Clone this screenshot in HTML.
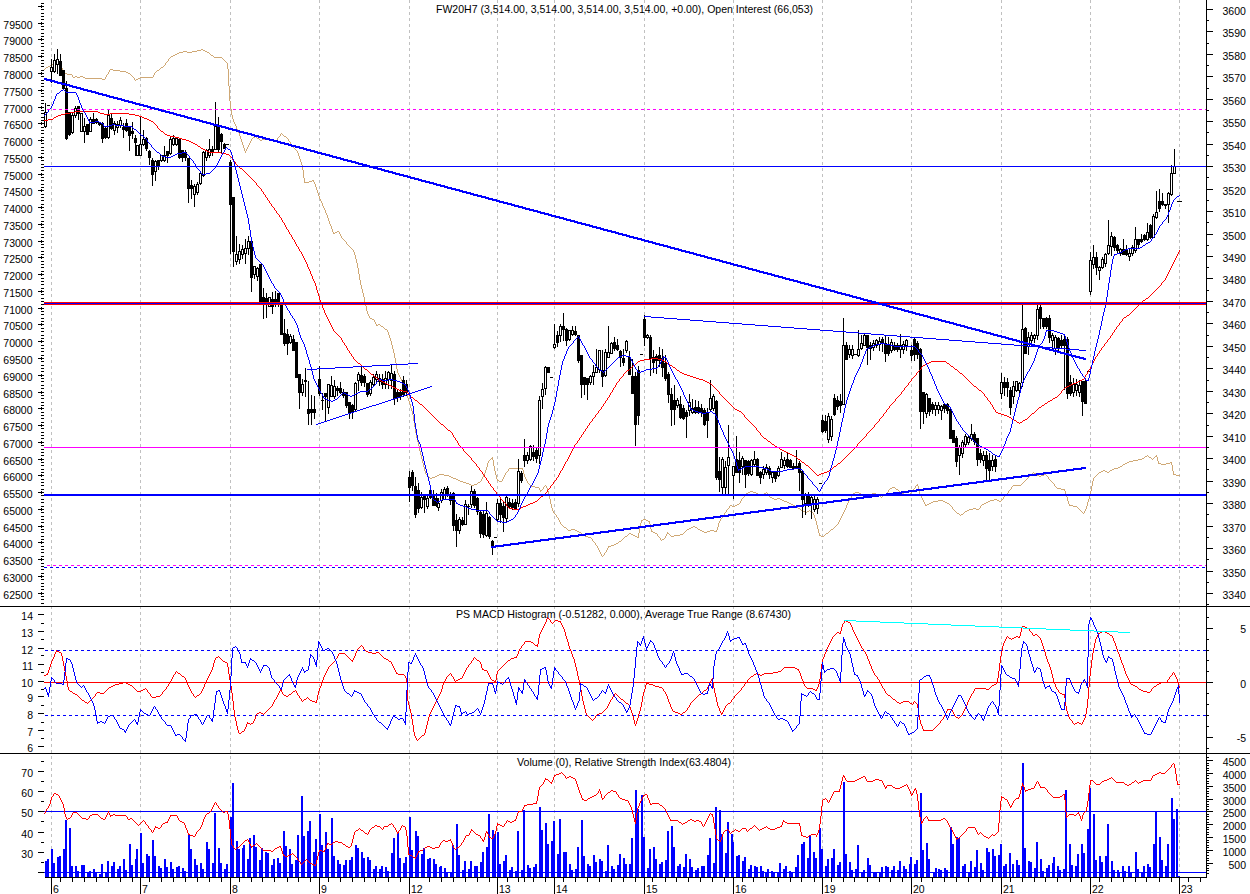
<!DOCTYPE html>
<html><head><meta charset="utf-8"><title>FW20H7 chart</title>
<style>html,body{margin:0;padding:0;background:#fff;overflow:hidden}svg{display:block}text{font-family:"Liberation Sans",sans-serif}</style>
</head><body>
<svg width="1250" height="894" viewBox="0 0 1250 894" font-family="Liberation Sans, sans-serif" fill="#000" shape-rendering="crispEdges">
<rect width="1250" height="894" fill="#ffffff"/>
<path d="M51 0h1v3h-1zm0 6h1v3h-1zm0 6h1v3h-1zm0 6h1v3h-1zm0 6h1v3h-1zm0 6h1v3h-1zm0 6h1v3h-1zm0 6h1v3h-1zm0 6h1v3h-1zm0 6h1v3h-1zm0 6h1v3h-1zm0 6h1v3h-1zm0 6h1v3h-1zm0 6h1v3h-1zm0 6h1v3h-1zm0 6h1v3h-1zm0 6h1v3h-1zm0 6h1v3h-1zm0 6h1v3h-1zm0 6h1v3h-1zm0 6h1v3h-1zm0 6h1v3h-1zm0 6h1v3h-1zm0 6h1v3h-1zm0 6h1v3h-1zm0 6h1v3h-1zm0 6h1v3h-1zm0 6h1v3h-1zm0 6h1v3h-1zm0 6h1v3h-1zm0 6h1v3h-1zm0 6h1v3h-1zm0 6h1v3h-1zm0 6h1v3h-1zm0 6h1v3h-1zm0 6h1v3h-1zm0 6h1v3h-1zm0 6h1v3h-1zm0 6h1v3h-1zm0 6h1v3h-1zm0 6h1v3h-1zm0 6h1v3h-1zm0 6h1v3h-1zm0 6h1v3h-1zm0 6h1v3h-1zm0 6h1v3h-1zm0 6h1v3h-1zm0 6h1v3h-1zm0 6h1v3h-1zm0 6h1v3h-1zm0 6h1v3h-1zm0 6h1v3h-1zm0 6h1v3h-1zm0 6h1v3h-1zm0 6h1v3h-1zm0 6h1v3h-1zm0 6h1v3h-1zm0 6h1v3h-1zm0 6h1v3h-1zm0 6h1v3h-1zm0 6h1v3h-1zm0 6h1v3h-1zm0 6h1v3h-1zm0 6h1v3h-1zm0 6h1v3h-1zm0 6h1v3h-1zm0 6h1v3h-1zm0 6h1v3h-1zm0 6h1v3h-1zm0 6h1v3h-1zm0 6h1v3h-1zm0 6h1v3h-1zm0 6h1v3h-1zm0 6h1v3h-1zm0 6h1v3h-1zm0 6h1v3h-1zm0 6h1v3h-1zm0 6h1v3h-1zm0 6h1v3h-1zm0 6h1v3h-1zm0 6h1v3h-1zm0 6h1v3h-1zm0 6h1v3h-1zm0 6h1v3h-1zm0 6h1v3h-1zm0 6h1v3h-1zm0 6h1v3h-1zm0 6h1v3h-1zm0 6h1v3h-1zm0 6h1v3h-1zm0 6h1v3h-1zm0 6h1v3h-1zm0 6h1v3h-1zm0 6h1v3h-1zm0 6h1v3h-1zm0 6h1v3h-1zm0 6h1v3h-1zm0 6h1v3h-1zm0 6h1v3h-1zm0 6h1v3h-1zm0 6h1v3h-1zm0 6h1v3h-1zm0 6h1v3h-1zm0 6h1v3h-1zm0 6h1v3h-1zm0 6h1v3h-1zm0 6h1v3h-1zm0 6h1v3h-1zm0 6h1v3h-1zm0 6h1v3h-1zm0 6h1v3h-1zm0 6h1v3h-1zm0 6h1v3h-1zm0 6h1v3h-1zm0 6h1v3h-1zm0 6h1v3h-1zm0 6h1v3h-1zm0 6h1v3h-1zm0 6h1v3h-1zm0 6h1v3h-1zm0 6h1v3h-1zm0 6h1v3h-1zm0 6h1v3h-1zm0 6h1v3h-1zm0 6h1v3h-1zm0 6h1v3h-1zm0 6h1v3h-1zm0 6h1v3h-1zm0 6h1v3h-1zm0 6h1v3h-1zm0 6h1v3h-1zm0 6h1v3h-1zm0 6h1v3h-1zm0 6h1v3h-1zm0 6h1v3h-1zm0 6h1v3h-1zm0 6h1v3h-1zm0 6h1v3h-1zm0 6h1v3h-1zm0 6h1v3h-1zm0 6h1v3h-1zm0 6h1v3h-1zm0 6h1v3h-1zm0 6h1v3h-1zm0 6h1v3h-1zm0 6h1v3h-1zm0 6h1v1h-1zm89 -876h1v3h-1zm0 6h1v3h-1zm0 6h1v3h-1zm0 6h1v3h-1zm0 6h1v3h-1zm0 6h1v3h-1zm0 6h1v3h-1zm0 6h1v3h-1zm0 6h1v3h-1zm0 6h1v3h-1zm0 6h1v3h-1zm0 6h1v3h-1zm0 6h1v3h-1zm0 6h1v3h-1zm0 6h1v3h-1zm0 6h1v3h-1zm0 6h1v3h-1zm0 6h1v3h-1zm0 6h1v3h-1zm0 6h1v3h-1zm0 6h1v3h-1zm0 6h1v3h-1zm0 6h1v3h-1zm0 6h1v3h-1zm0 6h1v3h-1zm0 6h1v3h-1zm0 6h1v3h-1zm0 6h1v3h-1zm0 6h1v3h-1zm0 6h1v3h-1zm0 6h1v3h-1zm0 6h1v3h-1zm0 6h1v3h-1zm0 6h1v3h-1zm0 6h1v3h-1zm0 6h1v3h-1zm0 6h1v3h-1zm0 6h1v3h-1zm0 6h1v3h-1zm0 6h1v3h-1zm0 6h1v3h-1zm0 6h1v3h-1zm0 6h1v3h-1zm0 6h1v3h-1zm0 6h1v3h-1zm0 6h1v3h-1zm0 6h1v3h-1zm0 6h1v3h-1zm0 6h1v3h-1zm0 6h1v3h-1zm0 6h1v3h-1zm0 6h1v3h-1zm0 6h1v3h-1zm0 6h1v3h-1zm0 6h1v3h-1zm0 6h1v3h-1zm0 6h1v3h-1zm0 6h1v3h-1zm0 6h1v3h-1zm0 6h1v3h-1zm0 6h1v3h-1zm0 6h1v3h-1zm0 6h1v3h-1zm0 6h1v3h-1zm0 6h1v3h-1zm0 6h1v3h-1zm0 6h1v3h-1zm0 6h1v3h-1zm0 6h1v3h-1zm0 6h1v3h-1zm0 6h1v3h-1zm0 6h1v3h-1zm0 6h1v3h-1zm0 6h1v3h-1zm0 6h1v3h-1zm0 6h1v3h-1zm0 6h1v3h-1zm0 6h1v3h-1zm0 6h1v3h-1zm0 6h1v3h-1zm0 6h1v3h-1zm0 6h1v3h-1zm0 6h1v3h-1zm0 6h1v3h-1zm0 6h1v3h-1zm0 6h1v3h-1zm0 6h1v3h-1zm0 6h1v3h-1zm0 6h1v3h-1zm0 6h1v3h-1zm0 6h1v3h-1zm0 6h1v3h-1zm0 6h1v3h-1zm0 6h1v3h-1zm0 6h1v3h-1zm0 6h1v3h-1zm0 6h1v3h-1zm0 6h1v3h-1zm0 6h1v3h-1zm0 6h1v3h-1zm0 6h1v3h-1zm0 6h1v3h-1zm0 6h1v3h-1zm0 6h1v3h-1zm0 6h1v3h-1zm0 6h1v3h-1zm0 6h1v3h-1zm0 6h1v3h-1zm0 6h1v3h-1zm0 6h1v3h-1zm0 6h1v3h-1zm0 6h1v3h-1zm0 6h1v3h-1zm0 6h1v3h-1zm0 6h1v3h-1zm0 6h1v3h-1zm0 6h1v3h-1zm0 6h1v3h-1zm0 6h1v3h-1zm0 6h1v3h-1zm0 6h1v3h-1zm0 6h1v3h-1zm0 6h1v3h-1zm0 6h1v3h-1zm0 6h1v3h-1zm0 6h1v3h-1zm0 6h1v3h-1zm0 6h1v3h-1zm0 6h1v3h-1zm0 6h1v3h-1zm0 6h1v3h-1zm0 6h1v3h-1zm0 6h1v3h-1zm0 6h1v3h-1zm0 6h1v3h-1zm0 6h1v3h-1zm0 6h1v3h-1zm0 6h1v3h-1zm0 6h1v3h-1zm0 6h1v3h-1zm0 6h1v3h-1zm0 6h1v3h-1zm0 6h1v3h-1zm0 6h1v3h-1zm0 6h1v3h-1zm0 6h1v3h-1zm0 6h1v1h-1zm90 -876h1v3h-1zm0 6h1v3h-1zm0 6h1v3h-1zm0 6h1v3h-1zm0 6h1v3h-1zm0 6h1v3h-1zm0 6h1v3h-1zm0 6h1v3h-1zm0 6h1v3h-1zm0 6h1v3h-1zm0 6h1v3h-1zm0 6h1v3h-1zm0 6h1v3h-1zm0 6h1v3h-1zm0 6h1v3h-1zm0 6h1v3h-1zm0 6h1v3h-1zm0 6h1v3h-1zm0 6h1v3h-1zm0 6h1v3h-1zm0 6h1v3h-1zm0 6h1v3h-1zm0 6h1v3h-1zm0 6h1v3h-1zm0 6h1v3h-1zm0 6h1v3h-1zm0 6h1v3h-1zm0 6h1v3h-1zm0 6h1v3h-1zm0 6h1v3h-1zm0 6h1v3h-1zm0 6h1v3h-1zm0 6h1v3h-1zm0 6h1v3h-1zm0 6h1v3h-1zm0 6h1v3h-1zm0 6h1v3h-1zm0 6h1v3h-1zm0 6h1v3h-1zm0 6h1v3h-1zm0 6h1v3h-1zm0 6h1v3h-1zm0 6h1v3h-1zm0 6h1v3h-1zm0 6h1v3h-1zm0 6h1v3h-1zm0 6h1v3h-1zm0 6h1v3h-1zm0 6h1v3h-1zm0 6h1v3h-1zm0 6h1v3h-1zm0 6h1v3h-1zm0 6h1v3h-1zm0 6h1v3h-1zm0 6h1v3h-1zm0 6h1v3h-1zm0 6h1v3h-1zm0 6h1v3h-1zm0 6h1v3h-1zm0 6h1v3h-1zm0 6h1v3h-1zm0 6h1v3h-1zm0 6h1v3h-1zm0 6h1v3h-1zm0 6h1v3h-1zm0 6h1v3h-1zm0 6h1v3h-1zm0 6h1v3h-1zm0 6h1v3h-1zm0 6h1v3h-1zm0 6h1v3h-1zm0 6h1v3h-1zm0 6h1v3h-1zm0 6h1v3h-1zm0 6h1v3h-1zm0 6h1v3h-1zm0 6h1v3h-1zm0 6h1v3h-1zm0 6h1v3h-1zm0 6h1v3h-1zm0 6h1v3h-1zm0 6h1v3h-1zm0 6h1v3h-1zm0 6h1v3h-1zm0 6h1v3h-1zm0 6h1v3h-1zm0 6h1v3h-1zm0 6h1v3h-1zm0 6h1v3h-1zm0 6h1v3h-1zm0 6h1v3h-1zm0 6h1v3h-1zm0 6h1v3h-1zm0 6h1v3h-1zm0 6h1v3h-1zm0 6h1v3h-1zm0 6h1v3h-1zm0 6h1v3h-1zm0 6h1v3h-1zm0 6h1v3h-1zm0 6h1v3h-1zm0 6h1v3h-1zm0 6h1v3h-1zm0 6h1v3h-1zm0 6h1v3h-1zm0 6h1v3h-1zm0 6h1v3h-1zm0 6h1v3h-1zm0 6h1v3h-1zm0 6h1v3h-1zm0 6h1v3h-1zm0 6h1v3h-1zm0 6h1v3h-1zm0 6h1v3h-1zm0 6h1v3h-1zm0 6h1v3h-1zm0 6h1v3h-1zm0 6h1v3h-1zm0 6h1v3h-1zm0 6h1v3h-1zm0 6h1v3h-1zm0 6h1v3h-1zm0 6h1v3h-1zm0 6h1v3h-1zm0 6h1v3h-1zm0 6h1v3h-1zm0 6h1v3h-1zm0 6h1v3h-1zm0 6h1v3h-1zm0 6h1v3h-1zm0 6h1v3h-1zm0 6h1v3h-1zm0 6h1v3h-1zm0 6h1v3h-1zm0 6h1v3h-1zm0 6h1v3h-1zm0 6h1v3h-1zm0 6h1v3h-1zm0 6h1v3h-1zm0 6h1v3h-1zm0 6h1v3h-1zm0 6h1v3h-1zm0 6h1v3h-1zm0 6h1v3h-1zm0 6h1v3h-1zm0 6h1v3h-1zm0 6h1v1h-1zm89 -876h1v3h-1zm0 6h1v3h-1zm0 6h1v3h-1zm0 6h1v3h-1zm0 6h1v3h-1zm0 6h1v3h-1zm0 6h1v3h-1zm0 6h1v3h-1zm0 6h1v3h-1zm0 6h1v3h-1zm0 6h1v3h-1zm0 6h1v3h-1zm0 6h1v3h-1zm0 6h1v3h-1zm0 6h1v3h-1zm0 6h1v3h-1zm0 6h1v3h-1zm0 6h1v3h-1zm0 6h1v3h-1zm0 6h1v3h-1zm0 6h1v3h-1zm0 6h1v3h-1zm0 6h1v3h-1zm0 6h1v3h-1zm0 6h1v3h-1zm0 6h1v3h-1zm0 6h1v3h-1zm0 6h1v3h-1zm0 6h1v3h-1zm0 6h1v3h-1zm0 6h1v3h-1zm0 6h1v3h-1zm0 6h1v3h-1zm0 6h1v3h-1zm0 6h1v3h-1zm0 6h1v3h-1zm0 6h1v3h-1zm0 6h1v3h-1zm0 6h1v3h-1zm0 6h1v3h-1zm0 6h1v3h-1zm0 6h1v3h-1zm0 6h1v3h-1zm0 6h1v3h-1zm0 6h1v3h-1zm0 6h1v3h-1zm0 6h1v3h-1zm0 6h1v3h-1zm0 6h1v3h-1zm0 6h1v3h-1zm0 6h1v3h-1zm0 6h1v3h-1zm0 6h1v3h-1zm0 6h1v3h-1zm0 6h1v3h-1zm0 6h1v3h-1zm0 6h1v3h-1zm0 6h1v3h-1zm0 6h1v3h-1zm0 6h1v3h-1zm0 6h1v3h-1zm0 6h1v3h-1zm0 6h1v3h-1zm0 6h1v3h-1zm0 6h1v3h-1zm0 6h1v3h-1zm0 6h1v3h-1zm0 6h1v3h-1zm0 6h1v3h-1zm0 6h1v3h-1zm0 6h1v3h-1zm0 6h1v3h-1zm0 6h1v3h-1zm0 6h1v3h-1zm0 6h1v3h-1zm0 6h1v3h-1zm0 6h1v3h-1zm0 6h1v3h-1zm0 6h1v3h-1zm0 6h1v3h-1zm0 6h1v3h-1zm0 6h1v3h-1zm0 6h1v3h-1zm0 6h1v3h-1zm0 6h1v3h-1zm0 6h1v3h-1zm0 6h1v3h-1zm0 6h1v3h-1zm0 6h1v3h-1zm0 6h1v3h-1zm0 6h1v3h-1zm0 6h1v3h-1zm0 6h1v3h-1zm0 6h1v3h-1zm0 6h1v3h-1zm0 6h1v3h-1zm0 6h1v3h-1zm0 6h1v3h-1zm0 6h1v3h-1zm0 6h1v3h-1zm0 6h1v3h-1zm0 6h1v3h-1zm0 6h1v3h-1zm0 6h1v3h-1zm0 6h1v3h-1zm0 6h1v3h-1zm0 6h1v3h-1zm0 6h1v3h-1zm0 6h1v3h-1zm0 6h1v3h-1zm0 6h1v3h-1zm0 6h1v3h-1zm0 6h1v3h-1zm0 6h1v3h-1zm0 6h1v3h-1zm0 6h1v3h-1zm0 6h1v3h-1zm0 6h1v3h-1zm0 6h1v3h-1zm0 6h1v3h-1zm0 6h1v3h-1zm0 6h1v3h-1zm0 6h1v3h-1zm0 6h1v3h-1zm0 6h1v3h-1zm0 6h1v3h-1zm0 6h1v3h-1zm0 6h1v3h-1zm0 6h1v3h-1zm0 6h1v3h-1zm0 6h1v3h-1zm0 6h1v3h-1zm0 6h1v3h-1zm0 6h1v3h-1zm0 6h1v3h-1zm0 6h1v3h-1zm0 6h1v3h-1zm0 6h1v3h-1zm0 6h1v3h-1zm0 6h1v3h-1zm0 6h1v3h-1zm0 6h1v3h-1zm0 6h1v3h-1zm0 6h1v3h-1zm0 6h1v3h-1zm0 6h1v3h-1zm0 6h1v1h-1zm90 -876h1v3h-1zm0 6h1v3h-1zm0 6h1v3h-1zm0 6h1v3h-1zm0 6h1v3h-1zm0 6h1v3h-1zm0 6h1v3h-1zm0 6h1v3h-1zm0 6h1v3h-1zm0 6h1v3h-1zm0 6h1v3h-1zm0 6h1v3h-1zm0 6h1v3h-1zm0 6h1v3h-1zm0 6h1v3h-1zm0 6h1v3h-1zm0 6h1v3h-1zm0 6h1v3h-1zm0 6h1v3h-1zm0 6h1v3h-1zm0 6h1v3h-1zm0 6h1v3h-1zm0 6h1v3h-1zm0 6h1v3h-1zm0 6h1v3h-1zm0 6h1v3h-1zm0 6h1v3h-1zm0 6h1v3h-1zm0 6h1v3h-1zm0 6h1v3h-1zm0 6h1v3h-1zm0 6h1v3h-1zm0 6h1v3h-1zm0 6h1v3h-1zm0 6h1v3h-1zm0 6h1v3h-1zm0 6h1v3h-1zm0 6h1v3h-1zm0 6h1v3h-1zm0 6h1v3h-1zm0 6h1v3h-1zm0 6h1v3h-1zm0 6h1v3h-1zm0 6h1v3h-1zm0 6h1v3h-1zm0 6h1v3h-1zm0 6h1v3h-1zm0 6h1v3h-1zm0 6h1v3h-1zm0 6h1v3h-1zm0 6h1v3h-1zm0 6h1v3h-1zm0 6h1v3h-1zm0 6h1v3h-1zm0 6h1v3h-1zm0 6h1v3h-1zm0 6h1v3h-1zm0 6h1v3h-1zm0 6h1v3h-1zm0 6h1v3h-1zm0 6h1v3h-1zm0 6h1v3h-1zm0 6h1v3h-1zm0 6h1v3h-1zm0 6h1v3h-1zm0 6h1v3h-1zm0 6h1v3h-1zm0 6h1v3h-1zm0 6h1v3h-1zm0 6h1v3h-1zm0 6h1v3h-1zm0 6h1v3h-1zm0 6h1v3h-1zm0 6h1v3h-1zm0 6h1v3h-1zm0 6h1v3h-1zm0 6h1v3h-1zm0 6h1v3h-1zm0 6h1v3h-1zm0 6h1v3h-1zm0 6h1v3h-1zm0 6h1v3h-1zm0 6h1v3h-1zm0 6h1v3h-1zm0 6h1v3h-1zm0 6h1v3h-1zm0 6h1v3h-1zm0 6h1v3h-1zm0 6h1v3h-1zm0 6h1v3h-1zm0 6h1v3h-1zm0 6h1v3h-1zm0 6h1v3h-1zm0 6h1v3h-1zm0 6h1v3h-1zm0 6h1v3h-1zm0 6h1v3h-1zm0 6h1v3h-1zm0 6h1v3h-1zm0 6h1v3h-1zm0 6h1v3h-1zm0 6h1v3h-1zm0 6h1v3h-1zm0 6h1v3h-1zm0 6h1v3h-1zm0 6h1v3h-1zm0 6h1v3h-1zm0 6h1v3h-1zm0 6h1v3h-1zm0 6h1v3h-1zm0 6h1v3h-1zm0 6h1v3h-1zm0 6h1v3h-1zm0 6h1v3h-1zm0 6h1v3h-1zm0 6h1v3h-1zm0 6h1v3h-1zm0 6h1v3h-1zm0 6h1v3h-1zm0 6h1v3h-1zm0 6h1v3h-1zm0 6h1v3h-1zm0 6h1v3h-1zm0 6h1v3h-1zm0 6h1v3h-1zm0 6h1v3h-1zm0 6h1v3h-1zm0 6h1v3h-1zm0 6h1v3h-1zm0 6h1v3h-1zm0 6h1v3h-1zm0 6h1v3h-1zm0 6h1v3h-1zm0 6h1v3h-1zm0 6h1v3h-1zm0 6h1v3h-1zm0 6h1v3h-1zm0 6h1v3h-1zm0 6h1v3h-1zm0 6h1v3h-1zm0 6h1v3h-1zm0 6h1v3h-1zm0 6h1v3h-1zm0 6h1v3h-1zm0 6h1v3h-1zm0 6h1v3h-1zm0 6h1v1h-1zm88 -876h1v3h-1zm0 6h1v3h-1zm0 6h1v3h-1zm0 6h1v3h-1zm0 6h1v3h-1zm0 6h1v3h-1zm0 6h1v3h-1zm0 6h1v3h-1zm0 6h1v3h-1zm0 6h1v3h-1zm0 6h1v3h-1zm0 6h1v3h-1zm0 6h1v3h-1zm0 6h1v3h-1zm0 6h1v3h-1zm0 6h1v3h-1zm0 6h1v3h-1zm0 6h1v3h-1zm0 6h1v3h-1zm0 6h1v3h-1zm0 6h1v3h-1zm0 6h1v3h-1zm0 6h1v3h-1zm0 6h1v3h-1zm0 6h1v3h-1zm0 6h1v3h-1zm0 6h1v3h-1zm0 6h1v3h-1zm0 6h1v3h-1zm0 6h1v3h-1zm0 6h1v3h-1zm0 6h1v3h-1zm0 6h1v3h-1zm0 6h1v3h-1zm0 6h1v3h-1zm0 6h1v3h-1zm0 6h1v3h-1zm0 6h1v3h-1zm0 6h1v3h-1zm0 6h1v3h-1zm0 6h1v3h-1zm0 6h1v3h-1zm0 6h1v3h-1zm0 6h1v3h-1zm0 6h1v3h-1zm0 6h1v3h-1zm0 6h1v3h-1zm0 6h1v3h-1zm0 6h1v3h-1zm0 6h1v3h-1zm0 6h1v3h-1zm0 6h1v3h-1zm0 6h1v3h-1zm0 6h1v3h-1zm0 6h1v3h-1zm0 6h1v3h-1zm0 6h1v3h-1zm0 6h1v3h-1zm0 6h1v3h-1zm0 6h1v3h-1zm0 6h1v3h-1zm0 6h1v3h-1zm0 6h1v3h-1zm0 6h1v3h-1zm0 6h1v3h-1zm0 6h1v3h-1zm0 6h1v3h-1zm0 6h1v3h-1zm0 6h1v3h-1zm0 6h1v3h-1zm0 6h1v3h-1zm0 6h1v3h-1zm0 6h1v3h-1zm0 6h1v3h-1zm0 6h1v3h-1zm0 6h1v3h-1zm0 6h1v3h-1zm0 6h1v3h-1zm0 6h1v3h-1zm0 6h1v3h-1zm0 6h1v3h-1zm0 6h1v3h-1zm0 6h1v3h-1zm0 6h1v3h-1zm0 6h1v3h-1zm0 6h1v3h-1zm0 6h1v3h-1zm0 6h1v3h-1zm0 6h1v3h-1zm0 6h1v3h-1zm0 6h1v3h-1zm0 6h1v3h-1zm0 6h1v3h-1zm0 6h1v3h-1zm0 6h1v3h-1zm0 6h1v3h-1zm0 6h1v3h-1zm0 6h1v3h-1zm0 6h1v3h-1zm0 6h1v3h-1zm0 6h1v3h-1zm0 6h1v3h-1zm0 6h1v3h-1zm0 6h1v3h-1zm0 6h1v3h-1zm0 6h1v3h-1zm0 6h1v3h-1zm0 6h1v3h-1zm0 6h1v3h-1zm0 6h1v3h-1zm0 6h1v3h-1zm0 6h1v3h-1zm0 6h1v3h-1zm0 6h1v3h-1zm0 6h1v3h-1zm0 6h1v3h-1zm0 6h1v3h-1zm0 6h1v3h-1zm0 6h1v3h-1zm0 6h1v3h-1zm0 6h1v3h-1zm0 6h1v3h-1zm0 6h1v3h-1zm0 6h1v3h-1zm0 6h1v3h-1zm0 6h1v3h-1zm0 6h1v3h-1zm0 6h1v3h-1zm0 6h1v3h-1zm0 6h1v3h-1zm0 6h1v3h-1zm0 6h1v3h-1zm0 6h1v3h-1zm0 6h1v3h-1zm0 6h1v3h-1zm0 6h1v3h-1zm0 6h1v3h-1zm0 6h1v3h-1zm0 6h1v3h-1zm0 6h1v3h-1zm0 6h1v3h-1zm0 6h1v3h-1zm0 6h1v3h-1zm0 6h1v3h-1zm0 6h1v3h-1zm0 6h1v3h-1zm0 6h1v1h-1zm57 -876h1v3h-1zm0 6h1v3h-1zm0 6h1v3h-1zm0 6h1v3h-1zm0 6h1v3h-1zm0 6h1v3h-1zm0 6h1v3h-1zm0 6h1v3h-1zm0 6h1v3h-1zm0 6h1v3h-1zm0 6h1v3h-1zm0 6h1v3h-1zm0 6h1v3h-1zm0 6h1v3h-1zm0 6h1v3h-1zm0 6h1v3h-1zm0 6h1v3h-1zm0 6h1v3h-1zm0 6h1v3h-1zm0 6h1v3h-1zm0 6h1v3h-1zm0 6h1v3h-1zm0 6h1v3h-1zm0 6h1v3h-1zm0 6h1v3h-1zm0 6h1v3h-1zm0 6h1v3h-1zm0 6h1v3h-1zm0 6h1v3h-1zm0 6h1v3h-1zm0 6h1v3h-1zm0 6h1v3h-1zm0 6h1v3h-1zm0 6h1v3h-1zm0 6h1v3h-1zm0 6h1v3h-1zm0 6h1v3h-1zm0 6h1v3h-1zm0 6h1v3h-1zm0 6h1v3h-1zm0 6h1v3h-1zm0 6h1v3h-1zm0 6h1v3h-1zm0 6h1v3h-1zm0 6h1v3h-1zm0 6h1v3h-1zm0 6h1v3h-1zm0 6h1v3h-1zm0 6h1v3h-1zm0 6h1v3h-1zm0 6h1v3h-1zm0 6h1v3h-1zm0 6h1v3h-1zm0 6h1v3h-1zm0 6h1v3h-1zm0 6h1v3h-1zm0 6h1v3h-1zm0 6h1v3h-1zm0 6h1v3h-1zm0 6h1v3h-1zm0 6h1v3h-1zm0 6h1v3h-1zm0 6h1v3h-1zm0 6h1v3h-1zm0 6h1v3h-1zm0 6h1v3h-1zm0 6h1v3h-1zm0 6h1v3h-1zm0 6h1v3h-1zm0 6h1v3h-1zm0 6h1v3h-1zm0 6h1v3h-1zm0 6h1v3h-1zm0 6h1v3h-1zm0 6h1v3h-1zm0 6h1v3h-1zm0 6h1v3h-1zm0 6h1v3h-1zm0 6h1v3h-1zm0 6h1v3h-1zm0 6h1v3h-1zm0 6h1v3h-1zm0 6h1v3h-1zm0 6h1v3h-1zm0 6h1v3h-1zm0 6h1v3h-1zm0 6h1v3h-1zm0 6h1v3h-1zm0 6h1v3h-1zm0 6h1v3h-1zm0 6h1v3h-1zm0 6h1v3h-1zm0 6h1v3h-1zm0 6h1v3h-1zm0 6h1v3h-1zm0 6h1v3h-1zm0 6h1v3h-1zm0 6h1v3h-1zm0 6h1v3h-1zm0 6h1v3h-1zm0 6h1v3h-1zm0 6h1v3h-1zm0 6h1v3h-1zm0 6h1v3h-1zm0 6h1v3h-1zm0 6h1v3h-1zm0 6h1v3h-1zm0 6h1v3h-1zm0 6h1v3h-1zm0 6h1v3h-1zm0 6h1v3h-1zm0 6h1v3h-1zm0 6h1v3h-1zm0 6h1v3h-1zm0 6h1v3h-1zm0 6h1v3h-1zm0 6h1v3h-1zm0 6h1v3h-1zm0 6h1v3h-1zm0 6h1v3h-1zm0 6h1v3h-1zm0 6h1v3h-1zm0 6h1v3h-1zm0 6h1v3h-1zm0 6h1v3h-1zm0 6h1v3h-1zm0 6h1v3h-1zm0 6h1v3h-1zm0 6h1v3h-1zm0 6h1v3h-1zm0 6h1v3h-1zm0 6h1v3h-1zm0 6h1v3h-1zm0 6h1v3h-1zm0 6h1v3h-1zm0 6h1v3h-1zm0 6h1v3h-1zm0 6h1v3h-1zm0 6h1v3h-1zm0 6h1v3h-1zm0 6h1v3h-1zm0 6h1v3h-1zm0 6h1v3h-1zm0 6h1v3h-1zm0 6h1v3h-1zm0 6h1v3h-1zm0 6h1v1h-1zm90 -876h1v3h-1zm0 6h1v3h-1zm0 6h1v3h-1zm0 6h1v3h-1zm0 6h1v3h-1zm0 6h1v3h-1zm0 6h1v3h-1zm0 6h1v3h-1zm0 6h1v3h-1zm0 6h1v3h-1zm0 6h1v3h-1zm0 6h1v3h-1zm0 6h1v3h-1zm0 6h1v3h-1zm0 6h1v3h-1zm0 6h1v3h-1zm0 6h1v3h-1zm0 6h1v3h-1zm0 6h1v3h-1zm0 6h1v3h-1zm0 6h1v3h-1zm0 6h1v3h-1zm0 6h1v3h-1zm0 6h1v3h-1zm0 6h1v3h-1zm0 6h1v3h-1zm0 6h1v3h-1zm0 6h1v3h-1zm0 6h1v3h-1zm0 6h1v3h-1zm0 6h1v3h-1zm0 6h1v3h-1zm0 6h1v3h-1zm0 6h1v3h-1zm0 6h1v3h-1zm0 6h1v3h-1zm0 6h1v3h-1zm0 6h1v3h-1zm0 6h1v3h-1zm0 6h1v3h-1zm0 6h1v3h-1zm0 6h1v3h-1zm0 6h1v3h-1zm0 6h1v3h-1zm0 6h1v3h-1zm0 6h1v3h-1zm0 6h1v3h-1zm0 6h1v3h-1zm0 6h1v3h-1zm0 6h1v3h-1zm0 6h1v3h-1zm0 6h1v3h-1zm0 6h1v3h-1zm0 6h1v3h-1zm0 6h1v3h-1zm0 6h1v3h-1zm0 6h1v3h-1zm0 6h1v3h-1zm0 6h1v3h-1zm0 6h1v3h-1zm0 6h1v3h-1zm0 6h1v3h-1zm0 6h1v3h-1zm0 6h1v3h-1zm0 6h1v3h-1zm0 6h1v3h-1zm0 6h1v3h-1zm0 6h1v3h-1zm0 6h1v3h-1zm0 6h1v3h-1zm0 6h1v3h-1zm0 6h1v3h-1zm0 6h1v3h-1zm0 6h1v3h-1zm0 6h1v3h-1zm0 6h1v3h-1zm0 6h1v3h-1zm0 6h1v3h-1zm0 6h1v3h-1zm0 6h1v3h-1zm0 6h1v3h-1zm0 6h1v3h-1zm0 6h1v3h-1zm0 6h1v3h-1zm0 6h1v3h-1zm0 6h1v3h-1zm0 6h1v3h-1zm0 6h1v3h-1zm0 6h1v3h-1zm0 6h1v3h-1zm0 6h1v3h-1zm0 6h1v3h-1zm0 6h1v3h-1zm0 6h1v3h-1zm0 6h1v3h-1zm0 6h1v3h-1zm0 6h1v3h-1zm0 6h1v3h-1zm0 6h1v3h-1zm0 6h1v3h-1zm0 6h1v3h-1zm0 6h1v3h-1zm0 6h1v3h-1zm0 6h1v3h-1zm0 6h1v3h-1zm0 6h1v3h-1zm0 6h1v3h-1zm0 6h1v3h-1zm0 6h1v3h-1zm0 6h1v3h-1zm0 6h1v3h-1zm0 6h1v3h-1zm0 6h1v3h-1zm0 6h1v3h-1zm0 6h1v3h-1zm0 6h1v3h-1zm0 6h1v3h-1zm0 6h1v3h-1zm0 6h1v3h-1zm0 6h1v3h-1zm0 6h1v3h-1zm0 6h1v3h-1zm0 6h1v3h-1zm0 6h1v3h-1zm0 6h1v3h-1zm0 6h1v3h-1zm0 6h1v3h-1zm0 6h1v3h-1zm0 6h1v3h-1zm0 6h1v3h-1zm0 6h1v3h-1zm0 6h1v3h-1zm0 6h1v3h-1zm0 6h1v3h-1zm0 6h1v3h-1zm0 6h1v3h-1zm0 6h1v3h-1zm0 6h1v3h-1zm0 6h1v3h-1zm0 6h1v3h-1zm0 6h1v3h-1zm0 6h1v3h-1zm0 6h1v3h-1zm0 6h1v3h-1zm0 6h1v3h-1zm0 6h1v3h-1zm0 6h1v1h-1zm89 -876h1v3h-1zm0 6h1v3h-1zm0 6h1v3h-1zm0 6h1v3h-1zm0 6h1v3h-1zm0 6h1v3h-1zm0 6h1v3h-1zm0 6h1v3h-1zm0 6h1v3h-1zm0 6h1v3h-1zm0 6h1v3h-1zm0 6h1v3h-1zm0 6h1v3h-1zm0 6h1v3h-1zm0 6h1v3h-1zm0 6h1v3h-1zm0 6h1v3h-1zm0 6h1v3h-1zm0 6h1v3h-1zm0 6h1v3h-1zm0 6h1v3h-1zm0 6h1v3h-1zm0 6h1v3h-1zm0 6h1v3h-1zm0 6h1v3h-1zm0 6h1v3h-1zm0 6h1v3h-1zm0 6h1v3h-1zm0 6h1v3h-1zm0 6h1v3h-1zm0 6h1v3h-1zm0 6h1v3h-1zm0 6h1v3h-1zm0 6h1v3h-1zm0 6h1v3h-1zm0 6h1v3h-1zm0 6h1v3h-1zm0 6h1v3h-1zm0 6h1v3h-1zm0 6h1v3h-1zm0 6h1v3h-1zm0 6h1v3h-1zm0 6h1v3h-1zm0 6h1v3h-1zm0 6h1v3h-1zm0 6h1v3h-1zm0 6h1v3h-1zm0 6h1v3h-1zm0 6h1v3h-1zm0 6h1v3h-1zm0 6h1v3h-1zm0 6h1v3h-1zm0 6h1v3h-1zm0 6h1v3h-1zm0 6h1v3h-1zm0 6h1v3h-1zm0 6h1v3h-1zm0 6h1v3h-1zm0 6h1v3h-1zm0 6h1v3h-1zm0 6h1v3h-1zm0 6h1v3h-1zm0 6h1v3h-1zm0 6h1v3h-1zm0 6h1v3h-1zm0 6h1v3h-1zm0 6h1v3h-1zm0 6h1v3h-1zm0 6h1v3h-1zm0 6h1v3h-1zm0 6h1v3h-1zm0 6h1v3h-1zm0 6h1v3h-1zm0 6h1v3h-1zm0 6h1v3h-1zm0 6h1v3h-1zm0 6h1v3h-1zm0 6h1v3h-1zm0 6h1v3h-1zm0 6h1v3h-1zm0 6h1v3h-1zm0 6h1v3h-1zm0 6h1v3h-1zm0 6h1v3h-1zm0 6h1v3h-1zm0 6h1v3h-1zm0 6h1v3h-1zm0 6h1v3h-1zm0 6h1v3h-1zm0 6h1v3h-1zm0 6h1v3h-1zm0 6h1v3h-1zm0 6h1v3h-1zm0 6h1v3h-1zm0 6h1v3h-1zm0 6h1v3h-1zm0 6h1v3h-1zm0 6h1v3h-1zm0 6h1v3h-1zm0 6h1v3h-1zm0 6h1v3h-1zm0 6h1v3h-1zm0 6h1v3h-1zm0 6h1v3h-1zm0 6h1v3h-1zm0 6h1v3h-1zm0 6h1v3h-1zm0 6h1v3h-1zm0 6h1v3h-1zm0 6h1v3h-1zm0 6h1v3h-1zm0 6h1v3h-1zm0 6h1v3h-1zm0 6h1v3h-1zm0 6h1v3h-1zm0 6h1v3h-1zm0 6h1v3h-1zm0 6h1v3h-1zm0 6h1v3h-1zm0 6h1v3h-1zm0 6h1v3h-1zm0 6h1v3h-1zm0 6h1v3h-1zm0 6h1v3h-1zm0 6h1v3h-1zm0 6h1v3h-1zm0 6h1v3h-1zm0 6h1v3h-1zm0 6h1v3h-1zm0 6h1v3h-1zm0 6h1v3h-1zm0 6h1v3h-1zm0 6h1v3h-1zm0 6h1v3h-1zm0 6h1v3h-1zm0 6h1v3h-1zm0 6h1v3h-1zm0 6h1v3h-1zm0 6h1v3h-1zm0 6h1v3h-1zm0 6h1v3h-1zm0 6h1v3h-1zm0 6h1v3h-1zm0 6h1v3h-1zm0 6h1v3h-1zm0 6h1v3h-1zm0 6h1v1h-1zm89 -876h1v3h-1zm0 6h1v3h-1zm0 6h1v3h-1zm0 6h1v3h-1zm0 6h1v3h-1zm0 6h1v3h-1zm0 6h1v3h-1zm0 6h1v3h-1zm0 6h1v3h-1zm0 6h1v3h-1zm0 6h1v3h-1zm0 6h1v3h-1zm0 6h1v3h-1zm0 6h1v3h-1zm0 6h1v3h-1zm0 6h1v3h-1zm0 6h1v3h-1zm0 6h1v3h-1zm0 6h1v3h-1zm0 6h1v3h-1zm0 6h1v3h-1zm0 6h1v3h-1zm0 6h1v3h-1zm0 6h1v3h-1zm0 6h1v3h-1zm0 6h1v3h-1zm0 6h1v3h-1zm0 6h1v3h-1zm0 6h1v3h-1zm0 6h1v3h-1zm0 6h1v3h-1zm0 6h1v3h-1zm0 6h1v3h-1zm0 6h1v3h-1zm0 6h1v3h-1zm0 6h1v3h-1zm0 6h1v3h-1zm0 6h1v3h-1zm0 6h1v3h-1zm0 6h1v3h-1zm0 6h1v3h-1zm0 6h1v3h-1zm0 6h1v3h-1zm0 6h1v3h-1zm0 6h1v3h-1zm0 6h1v3h-1zm0 6h1v3h-1zm0 6h1v3h-1zm0 6h1v3h-1zm0 6h1v3h-1zm0 6h1v3h-1zm0 6h1v3h-1zm0 6h1v3h-1zm0 6h1v3h-1zm0 6h1v3h-1zm0 6h1v3h-1zm0 6h1v3h-1zm0 6h1v3h-1zm0 6h1v3h-1zm0 6h1v3h-1zm0 6h1v3h-1zm0 6h1v3h-1zm0 6h1v3h-1zm0 6h1v3h-1zm0 6h1v3h-1zm0 6h1v3h-1zm0 6h1v3h-1zm0 6h1v3h-1zm0 6h1v3h-1zm0 6h1v3h-1zm0 6h1v3h-1zm0 6h1v3h-1zm0 6h1v3h-1zm0 6h1v3h-1zm0 6h1v3h-1zm0 6h1v3h-1zm0 6h1v3h-1zm0 6h1v3h-1zm0 6h1v3h-1zm0 6h1v3h-1zm0 6h1v3h-1zm0 6h1v3h-1zm0 6h1v3h-1zm0 6h1v3h-1zm0 6h1v3h-1zm0 6h1v3h-1zm0 6h1v3h-1zm0 6h1v3h-1zm0 6h1v3h-1zm0 6h1v3h-1zm0 6h1v3h-1zm0 6h1v3h-1zm0 6h1v3h-1zm0 6h1v3h-1zm0 6h1v3h-1zm0 6h1v3h-1zm0 6h1v3h-1zm0 6h1v3h-1zm0 6h1v3h-1zm0 6h1v3h-1zm0 6h1v3h-1zm0 6h1v3h-1zm0 6h1v3h-1zm0 6h1v3h-1zm0 6h1v3h-1zm0 6h1v3h-1zm0 6h1v3h-1zm0 6h1v3h-1zm0 6h1v3h-1zm0 6h1v3h-1zm0 6h1v3h-1zm0 6h1v3h-1zm0 6h1v3h-1zm0 6h1v3h-1zm0 6h1v3h-1zm0 6h1v3h-1zm0 6h1v3h-1zm0 6h1v3h-1zm0 6h1v3h-1zm0 6h1v3h-1zm0 6h1v3h-1zm0 6h1v3h-1zm0 6h1v3h-1zm0 6h1v3h-1zm0 6h1v3h-1zm0 6h1v3h-1zm0 6h1v3h-1zm0 6h1v3h-1zm0 6h1v3h-1zm0 6h1v3h-1zm0 6h1v3h-1zm0 6h1v3h-1zm0 6h1v3h-1zm0 6h1v3h-1zm0 6h1v3h-1zm0 6h1v3h-1zm0 6h1v3h-1zm0 6h1v3h-1zm0 6h1v3h-1zm0 6h1v3h-1zm0 6h1v3h-1zm0 6h1v3h-1zm0 6h1v3h-1zm0 6h1v3h-1zm0 6h1v3h-1zm0 6h1v3h-1zm0 6h1v1h-1zm89 -876h1v3h-1zm0 6h1v3h-1zm0 6h1v3h-1zm0 6h1v3h-1zm0 6h1v3h-1zm0 6h1v3h-1zm0 6h1v3h-1zm0 6h1v3h-1zm0 6h1v3h-1zm0 6h1v3h-1zm0 6h1v3h-1zm0 6h1v3h-1zm0 6h1v3h-1zm0 6h1v3h-1zm0 6h1v3h-1zm0 6h1v3h-1zm0 6h1v3h-1zm0 6h1v3h-1zm0 6h1v3h-1zm0 6h1v3h-1zm0 6h1v3h-1zm0 6h1v3h-1zm0 6h1v3h-1zm0 6h1v3h-1zm0 6h1v3h-1zm0 6h1v3h-1zm0 6h1v3h-1zm0 6h1v3h-1zm0 6h1v3h-1zm0 6h1v3h-1zm0 6h1v3h-1zm0 6h1v3h-1zm0 6h1v3h-1zm0 6h1v3h-1zm0 6h1v3h-1zm0 6h1v3h-1zm0 6h1v3h-1zm0 6h1v3h-1zm0 6h1v3h-1zm0 6h1v3h-1zm0 6h1v3h-1zm0 6h1v3h-1zm0 6h1v3h-1zm0 6h1v3h-1zm0 6h1v3h-1zm0 6h1v3h-1zm0 6h1v3h-1zm0 6h1v3h-1zm0 6h1v3h-1zm0 6h1v3h-1zm0 6h1v3h-1zm0 6h1v3h-1zm0 6h1v3h-1zm0 6h1v3h-1zm0 6h1v3h-1zm0 6h1v3h-1zm0 6h1v3h-1zm0 6h1v3h-1zm0 6h1v3h-1zm0 6h1v3h-1zm0 6h1v3h-1zm0 6h1v3h-1zm0 6h1v3h-1zm0 6h1v3h-1zm0 6h1v3h-1zm0 6h1v3h-1zm0 6h1v3h-1zm0 6h1v3h-1zm0 6h1v3h-1zm0 6h1v3h-1zm0 6h1v3h-1zm0 6h1v3h-1zm0 6h1v3h-1zm0 6h1v3h-1zm0 6h1v3h-1zm0 6h1v3h-1zm0 6h1v3h-1zm0 6h1v3h-1zm0 6h1v3h-1zm0 6h1v3h-1zm0 6h1v3h-1zm0 6h1v3h-1zm0 6h1v3h-1zm0 6h1v3h-1zm0 6h1v3h-1zm0 6h1v3h-1zm0 6h1v3h-1zm0 6h1v3h-1zm0 6h1v3h-1zm0 6h1v3h-1zm0 6h1v3h-1zm0 6h1v3h-1zm0 6h1v3h-1zm0 6h1v3h-1zm0 6h1v3h-1zm0 6h1v3h-1zm0 6h1v3h-1zm0 6h1v3h-1zm0 6h1v3h-1zm0 6h1v3h-1zm0 6h1v3h-1zm0 6h1v3h-1zm0 6h1v3h-1zm0 6h1v3h-1zm0 6h1v3h-1zm0 6h1v3h-1zm0 6h1v3h-1zm0 6h1v3h-1zm0 6h1v3h-1zm0 6h1v3h-1zm0 6h1v3h-1zm0 6h1v3h-1zm0 6h1v3h-1zm0 6h1v3h-1zm0 6h1v3h-1zm0 6h1v3h-1zm0 6h1v3h-1zm0 6h1v3h-1zm0 6h1v3h-1zm0 6h1v3h-1zm0 6h1v3h-1zm0 6h1v3h-1zm0 6h1v3h-1zm0 6h1v3h-1zm0 6h1v3h-1zm0 6h1v3h-1zm0 6h1v3h-1zm0 6h1v3h-1zm0 6h1v3h-1zm0 6h1v3h-1zm0 6h1v3h-1zm0 6h1v3h-1zm0 6h1v3h-1zm0 6h1v3h-1zm0 6h1v3h-1zm0 6h1v3h-1zm0 6h1v3h-1zm0 6h1v3h-1zm0 6h1v3h-1zm0 6h1v3h-1zm0 6h1v3h-1zm0 6h1v3h-1zm0 6h1v3h-1zm0 6h1v3h-1zm0 6h1v3h-1zm0 6h1v3h-1zm0 6h1v1h-1zm90 -876h1v3h-1zm0 6h1v3h-1zm0 6h1v3h-1zm0 6h1v3h-1zm0 6h1v3h-1zm0 6h1v3h-1zm0 6h1v3h-1zm0 6h1v3h-1zm0 6h1v3h-1zm0 6h1v3h-1zm0 6h1v3h-1zm0 6h1v3h-1zm0 6h1v3h-1zm0 6h1v3h-1zm0 6h1v3h-1zm0 6h1v3h-1zm0 6h1v3h-1zm0 6h1v3h-1zm0 6h1v3h-1zm0 6h1v3h-1zm0 6h1v3h-1zm0 6h1v3h-1zm0 6h1v3h-1zm0 6h1v3h-1zm0 6h1v3h-1zm0 6h1v3h-1zm0 6h1v3h-1zm0 6h1v3h-1zm0 6h1v3h-1zm0 6h1v3h-1zm0 6h1v3h-1zm0 6h1v3h-1zm0 6h1v3h-1zm0 6h1v3h-1zm0 6h1v3h-1zm0 6h1v3h-1zm0 6h1v3h-1zm0 6h1v3h-1zm0 6h1v3h-1zm0 6h1v3h-1zm0 6h1v3h-1zm0 6h1v3h-1zm0 6h1v3h-1zm0 6h1v3h-1zm0 6h1v3h-1zm0 6h1v3h-1zm0 6h1v3h-1zm0 6h1v3h-1zm0 6h1v3h-1zm0 6h1v3h-1zm0 6h1v3h-1zm0 6h1v3h-1zm0 6h1v3h-1zm0 6h1v3h-1zm0 6h1v3h-1zm0 6h1v3h-1zm0 6h1v3h-1zm0 6h1v3h-1zm0 6h1v3h-1zm0 6h1v3h-1zm0 6h1v3h-1zm0 6h1v3h-1zm0 6h1v3h-1zm0 6h1v3h-1zm0 6h1v3h-1zm0 6h1v3h-1zm0 6h1v3h-1zm0 6h1v3h-1zm0 6h1v3h-1zm0 6h1v3h-1zm0 6h1v3h-1zm0 6h1v3h-1zm0 6h1v3h-1zm0 6h1v3h-1zm0 6h1v3h-1zm0 6h1v3h-1zm0 6h1v3h-1zm0 6h1v3h-1zm0 6h1v3h-1zm0 6h1v3h-1zm0 6h1v3h-1zm0 6h1v3h-1zm0 6h1v3h-1zm0 6h1v3h-1zm0 6h1v3h-1zm0 6h1v3h-1zm0 6h1v3h-1zm0 6h1v3h-1zm0 6h1v3h-1zm0 6h1v3h-1zm0 6h1v3h-1zm0 6h1v3h-1zm0 6h1v3h-1zm0 6h1v3h-1zm0 6h1v3h-1zm0 6h1v3h-1zm0 6h1v3h-1zm0 6h1v3h-1zm0 6h1v3h-1zm0 6h1v3h-1zm0 6h1v3h-1zm0 6h1v3h-1zm0 6h1v3h-1zm0 6h1v3h-1zm0 6h1v3h-1zm0 6h1v3h-1zm0 6h1v3h-1zm0 6h1v3h-1zm0 6h1v3h-1zm0 6h1v3h-1zm0 6h1v3h-1zm0 6h1v3h-1zm0 6h1v3h-1zm0 6h1v3h-1zm0 6h1v3h-1zm0 6h1v3h-1zm0 6h1v3h-1zm0 6h1v3h-1zm0 6h1v3h-1zm0 6h1v3h-1zm0 6h1v3h-1zm0 6h1v3h-1zm0 6h1v3h-1zm0 6h1v3h-1zm0 6h1v3h-1zm0 6h1v3h-1zm0 6h1v3h-1zm0 6h1v3h-1zm0 6h1v3h-1zm0 6h1v3h-1zm0 6h1v3h-1zm0 6h1v3h-1zm0 6h1v3h-1zm0 6h1v3h-1zm0 6h1v3h-1zm0 6h1v3h-1zm0 6h1v3h-1zm0 6h1v3h-1zm0 6h1v3h-1zm0 6h1v3h-1zm0 6h1v3h-1zm0 6h1v3h-1zm0 6h1v3h-1zm0 6h1v3h-1zm0 6h1v3h-1zm0 6h1v3h-1zm0 6h1v1h-1zm89 -876h1v3h-1zm0 6h1v3h-1zm0 6h1v3h-1zm0 6h1v3h-1zm0 6h1v3h-1zm0 6h1v3h-1zm0 6h1v3h-1zm0 6h1v3h-1zm0 6h1v3h-1zm0 6h1v3h-1zm0 6h1v3h-1zm0 6h1v3h-1zm0 6h1v3h-1zm0 6h1v3h-1zm0 6h1v3h-1zm0 6h1v3h-1zm0 6h1v3h-1zm0 6h1v3h-1zm0 6h1v3h-1zm0 6h1v3h-1zm0 6h1v3h-1zm0 6h1v3h-1zm0 6h1v3h-1zm0 6h1v3h-1zm0 6h1v3h-1zm0 6h1v3h-1zm0 6h1v3h-1zm0 6h1v3h-1zm0 6h1v3h-1zm0 6h1v3h-1zm0 6h1v3h-1zm0 6h1v3h-1zm0 6h1v3h-1zm0 6h1v3h-1zm0 6h1v3h-1zm0 6h1v3h-1zm0 6h1v3h-1zm0 6h1v3h-1zm0 6h1v3h-1zm0 6h1v3h-1zm0 6h1v3h-1zm0 6h1v3h-1zm0 6h1v3h-1zm0 6h1v3h-1zm0 6h1v3h-1zm0 6h1v3h-1zm0 6h1v3h-1zm0 6h1v3h-1zm0 6h1v3h-1zm0 6h1v3h-1zm0 6h1v3h-1zm0 6h1v3h-1zm0 6h1v3h-1zm0 6h1v3h-1zm0 6h1v3h-1zm0 6h1v3h-1zm0 6h1v3h-1zm0 6h1v3h-1zm0 6h1v3h-1zm0 6h1v3h-1zm0 6h1v3h-1zm0 6h1v3h-1zm0 6h1v3h-1zm0 6h1v3h-1zm0 6h1v3h-1zm0 6h1v3h-1zm0 6h1v3h-1zm0 6h1v3h-1zm0 6h1v3h-1zm0 6h1v3h-1zm0 6h1v3h-1zm0 6h1v3h-1zm0 6h1v3h-1zm0 6h1v3h-1zm0 6h1v3h-1zm0 6h1v3h-1zm0 6h1v3h-1zm0 6h1v3h-1zm0 6h1v3h-1zm0 6h1v3h-1zm0 6h1v3h-1zm0 6h1v3h-1zm0 6h1v3h-1zm0 6h1v3h-1zm0 6h1v3h-1zm0 6h1v3h-1zm0 6h1v3h-1zm0 6h1v3h-1zm0 6h1v3h-1zm0 6h1v3h-1zm0 6h1v3h-1zm0 6h1v3h-1zm0 6h1v3h-1zm0 6h1v3h-1zm0 6h1v3h-1zm0 6h1v3h-1zm0 6h1v3h-1zm0 6h1v3h-1zm0 6h1v3h-1zm0 6h1v3h-1zm0 6h1v3h-1zm0 6h1v3h-1zm0 6h1v3h-1zm0 6h1v3h-1zm0 6h1v3h-1zm0 6h1v3h-1zm0 6h1v3h-1zm0 6h1v3h-1zm0 6h1v3h-1zm0 6h1v3h-1zm0 6h1v3h-1zm0 6h1v3h-1zm0 6h1v3h-1zm0 6h1v3h-1zm0 6h1v3h-1zm0 6h1v3h-1zm0 6h1v3h-1zm0 6h1v3h-1zm0 6h1v3h-1zm0 6h1v3h-1zm0 6h1v3h-1zm0 6h1v3h-1zm0 6h1v3h-1zm0 6h1v3h-1zm0 6h1v3h-1zm0 6h1v3h-1zm0 6h1v3h-1zm0 6h1v3h-1zm0 6h1v3h-1zm0 6h1v3h-1zm0 6h1v3h-1zm0 6h1v3h-1zm0 6h1v3h-1zm0 6h1v3h-1zm0 6h1v3h-1zm0 6h1v3h-1zm0 6h1v3h-1zm0 6h1v3h-1zm0 6h1v3h-1zm0 6h1v3h-1zm0 6h1v3h-1zm0 6h1v3h-1zm0 6h1v3h-1zm0 6h1v3h-1zm0 6h1v3h-1zm0 6h1v3h-1zm0 6h1v1h-1zm89 -876h1v3h-1zm0 6h1v3h-1zm0 6h1v3h-1zm0 6h1v3h-1zm0 6h1v3h-1zm0 6h1v3h-1zm0 6h1v3h-1zm0 6h1v3h-1zm0 6h1v3h-1zm0 6h1v3h-1zm0 6h1v3h-1zm0 6h1v3h-1zm0 6h1v3h-1zm0 6h1v3h-1zm0 6h1v3h-1zm0 6h1v3h-1zm0 6h1v3h-1zm0 6h1v3h-1zm0 6h1v3h-1zm0 6h1v3h-1zm0 6h1v3h-1zm0 6h1v3h-1zm0 6h1v3h-1zm0 6h1v3h-1zm0 6h1v3h-1zm0 6h1v3h-1zm0 6h1v3h-1zm0 6h1v3h-1zm0 6h1v3h-1zm0 6h1v3h-1zm0 6h1v3h-1zm0 6h1v3h-1zm0 6h1v3h-1zm0 6h1v3h-1zm0 6h1v3h-1zm0 6h1v3h-1zm0 6h1v3h-1zm0 6h1v3h-1zm0 6h1v3h-1zm0 6h1v3h-1zm0 6h1v3h-1zm0 6h1v3h-1zm0 6h1v3h-1zm0 6h1v3h-1zm0 6h1v3h-1zm0 6h1v3h-1zm0 6h1v3h-1zm0 6h1v3h-1zm0 6h1v3h-1zm0 6h1v3h-1zm0 6h1v3h-1zm0 6h1v3h-1zm0 6h1v3h-1zm0 6h1v3h-1zm0 6h1v3h-1zm0 6h1v3h-1zm0 6h1v3h-1zm0 6h1v3h-1zm0 6h1v3h-1zm0 6h1v3h-1zm0 6h1v3h-1zm0 6h1v3h-1zm0 6h1v3h-1zm0 6h1v3h-1zm0 6h1v3h-1zm0 6h1v3h-1zm0 6h1v3h-1zm0 6h1v3h-1zm0 6h1v3h-1zm0 6h1v3h-1zm0 6h1v3h-1zm0 6h1v3h-1zm0 6h1v3h-1zm0 6h1v3h-1zm0 6h1v3h-1zm0 6h1v3h-1zm0 6h1v3h-1zm0 6h1v3h-1zm0 6h1v3h-1zm0 6h1v3h-1zm0 6h1v3h-1zm0 6h1v3h-1zm0 6h1v3h-1zm0 6h1v3h-1zm0 6h1v3h-1zm0 6h1v3h-1zm0 6h1v3h-1zm0 6h1v3h-1zm0 6h1v3h-1zm0 6h1v3h-1zm0 6h1v3h-1zm0 6h1v3h-1zm0 6h1v3h-1zm0 6h1v3h-1zm0 6h1v3h-1zm0 6h1v3h-1zm0 6h1v3h-1zm0 6h1v3h-1zm0 6h1v3h-1zm0 6h1v3h-1zm0 6h1v3h-1zm0 6h1v3h-1zm0 6h1v3h-1zm0 6h1v3h-1zm0 6h1v3h-1zm0 6h1v3h-1zm0 6h1v3h-1zm0 6h1v3h-1zm0 6h1v3h-1zm0 6h1v3h-1zm0 6h1v3h-1zm0 6h1v3h-1zm0 6h1v3h-1zm0 6h1v3h-1zm0 6h1v3h-1zm0 6h1v3h-1zm0 6h1v3h-1zm0 6h1v3h-1zm0 6h1v3h-1zm0 6h1v3h-1zm0 6h1v3h-1zm0 6h1v3h-1zm0 6h1v3h-1zm0 6h1v3h-1zm0 6h1v3h-1zm0 6h1v3h-1zm0 6h1v3h-1zm0 6h1v3h-1zm0 6h1v3h-1zm0 6h1v3h-1zm0 6h1v3h-1zm0 6h1v3h-1zm0 6h1v3h-1zm0 6h1v3h-1zm0 6h1v3h-1zm0 6h1v3h-1zm0 6h1v3h-1zm0 6h1v3h-1zm0 6h1v3h-1zm0 6h1v3h-1zm0 6h1v3h-1zm0 6h1v3h-1zm0 6h1v3h-1zm0 6h1v3h-1zm0 6h1v3h-1zm0 6h1v3h-1zm0 6h1v1h-1z" fill="#c0c0c0"/>
<path d="M201 49h2v1h-2zm-4 1h4v1h-4zm6 0h2v1h-2zm-20 1h4v1h-4zm9 0h5v1h-5zm13 0h2v1h-2zm-26 1h4v1h-4zm8 0h5v1h-5zm20 0h2v1h-2zm-30 1h2v1h-2zm32 0v1h1v-1zm-34 1h2v1h-2zm35 0v1h1v-1zm-37 1h2v1h-2zm38 0h2v1h-2zm-40 1h2v1h-2zm42 0v1h1v-1zm-43 1v1h1v-1zm44 0h8v1h-8zm-45 1v1h1v-1zm53 0v1h1v-1zm-54 1v2h1v-2zm55 0v1h1v-1zm1 1v1h1v-1zm-170 1v2h1v-2zm113 0v1h1v-1zm58 0v1h1v-1zm-170 1h2v1h-2zm3 0h2v1h-2zm108 0v1h1v-1zm60 0v1h1v-1zm-173 1v1h1v-1zm4 0v1h1v-1zm2 0v1h1v-1zm106 0v2h1v-2zm62 0v6h1v-6zm-175 1v1h1v-1zm8 0v2h1v-2zm-10 1h2v1h-2zm114 0v1h1v-1zm-116 1h2v1h-2zm13 0v2h1v-2zm102 0v1h1v-1zm-117 1h2v1h-2zm115 0h2v1h-2zm-116 1v1h1v-1zm17 0v2h1v-2zm98 0v1h1v-1zm-116 1v1h1v-1zm66 0h3v1h-3zm49 0v1h1v-1zm69 0v17h1v-17zm-165 1v2h1v-2zm46 0v2h1v-2zm4 0h7v1h-7zm44 0h2v1h-2zm-37 1h6v1h-6zm36 0v1h1v-1zm-92 1v1h1v-1zm44 0v2h1v-2zm18 0h2v1h-2zm29 0v1h1v-1zm-90 1h2v1h-2zm63 0h2v1h-2zm26 0v2h1v-2zm-87 1h5v1h-5zm40 0v1h1v-1zm23 0v1h1v-1zm-58 1v2h1v-2zm34 0v2h1v-2zm25 0v1h1v-1zm22 0v2h1v-2zm-78 1h2v1h-2zm5 0h3v1h-3zm52 0v1h1v-1zm-59 1h2v1h-2zm4 0h3v1h-3zm6 0h2v1h-2zm22 0v2h1v-2zm28 0v1h1v-1zm7 0h13v1h-13zm-55 1h17v1h-17zm49 0v2h1v-2zm4 0h2v1h-2zm-36 1h3v1h-3zm34 0h2v1h-2zm-1 1v1h1v-1zm94 6v15h1v-15zm1 15v8h1v-8zm1 8v6h1v-6zm1 6v4h1v-4zm1 4v3h1v-3zm1 3v2h1v-2zm1 2v2h1v-2zm1 2v3h1v-3zm1 3v2h1v-2zm1 2v2h1v-2zm1 2v3h1v-3zm42 0v1h1v-1zm-1 1v2h1v-2zm2 0v1h1v-1zm1 1v1h1v-1zm-43 1v3h1v-3zm15 0v1h1v-1zm24 0v1h1v-1zm5 0h2v1h-2zm-31 1h2v1h-2zm3 0v1h1v-1zm22 0v1h1v-1zm8 0v1h1v-1zm-34 1v1h1v-1zm5 0h2v1h-2zm8 0h4v1h-4zm12 0v2h1v-2zm10 0v1h1v-1zm-46 1v3h1v-3zm10 0v2h1v-2zm8 0v1h1v-1zm3 0h3v1h-3zm7 0h3v1h-3zm19 0v2h1v-2zm-28 1h2v1h-2zm12 0h2v1h-2zm4 0v1h1v-1zm-26 1v2h1v-2zm24 0h2v1h-2zm15 0v1h1v-1zm-47 1v3h1v-3zm48 0v2h1v-2zm-41 1v2h1v-2zm42 1v2h1v-2zm-48 1v3h1v-3zm5 0v2h1v-2zm44 1v1h1v-1zm-45 1v2h1v-2zm46 0v1h1v-1zm-49 1v3h1v-3zm50 0v1h1v-1zm-48 1v2h1v-2zm49 0v1h1v-1zm1 1v1h1v-1zm-51 1v2h1v-2zm52 0v2h1v-2zm1 2v3h1v-3zm1 3v3h1v-3zm1 3v3h1v-3zm1 3v3h1v-3zm1 3v5h1v-5zm1 5v8h1v-8zm1 8v5h1v-5zm8 2h2v1h-2zm-3 1h3v1h-3zm4 0v1h1v-1zm-8 1h4v1h-4zm9 0v2h1v-2zm1 2v3h1v-3zm1 3v3h1v-3zm1 3v3h1v-3zm1 3v3h1v-3zm1 3v3h1v-3zm1 3v2h1v-2zm1 2v2h1v-2zm1 2v3h1v-3zm1 3v2h1v-2zm1 2v2h1v-2zm1 2v3h1v-3zm1 3v2h1v-2zm1 2v3h1v-3zm1 3v3h1v-3zm1 3v3h1v-3zm1 3v2h1v-2zm1 2v3h1v-3zm1 3v3h1v-3zm5 2h2v1h-2zm-4 1v2h1v-2zm2 0h2v1h-2zm4 0v2h1v-2zm-5 1v1h1v-1zm6 1v2h1v-2zm1 2v2h1v-2zm1 2v1h1v-1zm1 1v1h1v-1zm1 1v1h1v-1zm1 1v1h1v-1zm1 1v2h1v-2zm1 2v1h1v-1zm1 1v1h1v-1zm1 1v1h1v-1zm1 1v1h1v-1zm1 1v1h1v-1zm1 1v1h1v-1zm1 1v2h1v-2zm1 2v3h1v-3zm1 3v4h1v-4zm1 4v4h1v-4zm1 4v5h1v-5zm1 5v6h1v-6zm1 6v6h1v-6zm1 6v5h1v-5zm1 5v4h1v-4zm1 4v4h1v-4zm1 4v4h1v-4zm1 4v5h1v-5zm1 5v4h1v-4zm1 4v5h1v-5zm1 5v3h1v-3zm1 3v2h1v-2zm1 2v2h1v-2zm1 2h2v1h-2zm2 1h2v1h-2zm2 1v2h1v-2zm1 2v2h1v-2zm1 2v2h1v-2zm2 0h2v1h-2zm-1 1v1h1v-1zm3 0v1h1v-1zm1 1h2v1h-2zm2 1v1h1v-1zm1 1v1h1v-1zm1 1h2v1h-2zm2 1v2h1v-2zm1 2v3h1v-3zm1 3v3h1v-3zm1 3v3h1v-3zm1 3v4h1v-4zm1 4v4h1v-4zm1 4v4h1v-4zm1 4v5h1v-5zm1 5v5h1v-5zm1 5v6h1v-6zm1 6v4h1v-4zm1 4v2h1v-2zm1 2v2h1v-2zm1 2v2h1v-2zm1 2v2h1v-2zm1 2v2h1v-2zm1 2v3h1v-3zm1 3v3h1v-3zm1 3v3h1v-3zm1 3v3h1v-3zm1 3v3h1v-3zm1 3v3h1v-3zm1 3v3h1v-3zm1 3v4h1v-4zm1 4v3h1v-3zm1 3v4h1v-4zm1 4v6h1v-6zm1 6v6h1v-6zm1 6v6h1v-6zm1 6v5h1v-5zm1 5v4h1v-4zm1 4v4h1v-4zm1 4v5h1v-5zm1 5v4h1v-4zm1 4v4h1v-4zm726 0v1h1v-1zm9 0v2h1v-2zm-11 1h2v1h-2zm3 0v1h1v-1zm7 0v1h1v-1zm-663 1v3h1v-3zm652 0v1h1v-1zm5 0h2v1h-2zm5 0v1h1v-1zm3 0v4h1v-4zm-666 1v1h1v-1zm651 0h2v1h-2zm9 0v1h1v-1zm2 0v1h1v-1zm-731 1v4h1v-4zm68 0v1h1v-1zm648 0h4v1h-4zm14 0v1h1v-1zm-663 1v1h1v-1zm4 0v6h1v-6zm640 0h5v1h-5zm-645 1v2h1v-2zm641 0h4v1h-4zm29 0v3h1v-3zm-31 1h2v1h-2zm43 0h2v1h-2zm-747 1v4h1v-4zm64 0v4h1v-4zm638 0h2v1h-2zm34 0h2v1h-2zm7 0h4v1h-4zm5 0v2h1v-2zm-48 1h2v1h-2zm38 0h5v1h-5zm-39 1v1h1v-1zm50 0v6h1v-6zm-678 1v5h1v-5zm626 0h2v1h-2zm-696 1v4h1v-4zm62 0v3h1v-3zm632 0h2v1h-2zm-609 1h14v1h-14zm605 0h4v1h-4zm-606 1v2h1v-2zm14 0v1h1v-1zm590 0h2v1h-2zm-627 1v3h1v-3zm38 0v4h1v-4zm580 0h2v1h-2zm7 0h2v1h-2zm-685 1v3h1v-3zm70 0v4h1v-4zm12 0v1h1v-1zm594 0h2v1h-2zm4 0h2v1h-2zm4 0v1h1v-1zm64 0v4h1v-4zm-667 1v1h1v-1zm527 0v1h1v-1zm66 0h2v1h-2zm8 0h2v1h-2zm-623 1v2h1v-2zm21 0v2h1v-2zm527 0v1h1v-1zm2 0h2v1h-2zm64 0v1h1v-1zm-672 1v1h1v-1zm13 0h5v1h-5zm85 0v3h1v-3zm507 0v1h1v-1zm5 0v1h1v-1zm8 0h2v1h-2zm53 0v1h1v-1zm77 0h2v1h-2zm-747 1v1h1v-1zm10 0h2v1h-2zm7 0h5v1h-5zm39 0v2h1v-2zm13 0v4h1v-4zm8 0v2h1v-2zm526 0v1h1v-1zm7 0h2v1h-2zm4 0h3v1h-3zm5 0v1h1v-1zm50 0v1h1v-1zm80 0h4v1h-4zm-748 1v1h1v-1zm7 0h2v1h-2zm14 0h2v1h-2zm580 0v1h1v-1zm10 0h2v1h-2zm8 0v1h1v-1zm48 0v1h1v-1zm-666 1v1h1v-1zm3 0h3v1h-3zm19 0h2v1h-2zm31 0v2h1v-2zm21 0v2h1v-2zm22 0v2h1v-2zm503 0v1h1v-1zm20 0v2h1v-2zm46 0v1h1v-1zm-664 1h2v1h-2zm23 0h3v1h-3zm574 0v1h1v-1zm66 0v3h1v-3zm-637 1h2v1h-2zm25 0v2h1v-2zm16 0v2h1v-2zm5 0v2h1v-2zm24 0v2h1v-2zm500 0v1h1v-1zm23 0v1h1v-1zm-591 1h2v1h-2zm40 0v1h1v-1zm527 0v1h1v-1zm25 0v1h1v-1zm-590 1h3v1h-3zm20 0v1h1v-1zm19 0h3v1h-3zm28 0v2h1v-2zm497 0v1h1v-1zm27 0v1h1v-1zm41 0v5h1v-5zm-629 1h3v1h-3zm15 0h2v1h-2zm545 0v1h1v-1zm29 0v1h1v-1zm-586 1h3v1h-3zm11 0v1h1v-1zm51 0v1h1v-1zm494 0v1h1v-1zm31 0v1h1v-1zm-584 1h2v1h-2zm5 0h3v1h-3zm55 0v1h1v-1zm388 0v2h1v-2zm104 0v1h1v-1zm33 0v2h1v-2zm-583 1h3v1h-3zm59 0v1h1v-1zm15 0v1h1v-1zm371 0v1h1v-1zm97 0h8v1h-8zm-482 1h4v1h-4zm13 0v1h1v-1zm2 0v2h1v-2zm369 0v2h1v-2zm3 0v4h1v-4zm94 0v1h1v-1zm43 0v1h1v-1zm36 0v5h1v-5zm-556 1h4v1h-4zm8 0v2h1v-2zm349 0h3v1h-3zm119 0v2h1v-2zm45 0v1h1v-1zm-517 1v2h1v-2zm8 0v3h1v-3zm343 0h2v1h-2zm5 0v1h1v-1zm19 0v1h1v-1zm143 0h4v1h-4zm-515 1v1h1v-1zm347 0v1h1v-1zm7 0h2v1h-2zm17 0v1h1v-1zm97 0v1h1v-1zm51 0h4v1h-4zm-521 1h2v1h-2zm348 0v2h1v-2zm10 0v1h1v-1zm14 0v2h1v-2zm7 0v4h1v-4zm90 0v1h1v-1zm55 0v1h1v-1zm-524 1v1h1v-1zm8 0v4h1v-4zm202 0h3v1h-3zm149 0v1h1v-1zm109 0v2h1v-2zm57 0v3h1v-3zm25 0v4h1v-4zm-342 1h2v1h-2zm5 0h3v1h-3zm13 0v1h1v-1zm89 0h4v1h-4zm32 0v1h1v-1zm13 0h2v1h-2zm11 0v1h1v-1zm-165 1h2v1h-2zm10 0h2v1h-2zm8 0h2v1h-2zm3 0v1h1v-1zm86 0h2v1h-2zm6 0h2v1h-2zm13 0h4v1h-4zm14 0v1h1v-1zm16 0h2v1h-2zm8 0v2h1v-2zm97 0v1h1v-1zm-262 1v1h1v-1zm13 0h6v1h-6zm10 0v2h1v-2zm84 0v2h1v-2zm9 0h3v1h-3zm9 0h2v1h-2zm6 0h3v1h-3zm9 0v1h1v-1zm19 0h3v1h-3zm16 0v2h1v-2zm86 0v1h1v-1zm60 0v3h1v-3zm-517 1v4h1v-4zm195 0v2h1v-2zm120 0h2v1h-2zm4 0h2v1h-2zm11 0v1h1v-1zm4 0h2v1h-2zm24 0h3v1h-3zm98 0v1h1v-1zm84 0v4h1v-4zm-320 1v1h1v-1zm82 0v2h1v-2zm15 0h2v1h-2zm14 0v1h1v-1zm2 0v1h1v-1zm39 0v2h1v-2zm83 0v1h1v-1zm-261 1v1h1v-1zm27 0h2v1h-2zm111 0v1h1v-1zm122 0v2h1v-2zm64 0v4h1v-4zm-325 1v1h1v-1zm30 0h2v1h-2zm5 0h3v1h-3zm73 0v1h1v-1zm72 0v2h1v-2zm-372 1v5h1v-5zm191 0v2h1v-2zm33 0h3v1h-3zm6 0h2v1h-2zm69 0v2h1v-2zm145 0h3v1h-3zm8 0v1h1v-1zm86 0v3h1v-3zm-306 1h2v1h-2zm141 0v2h1v-2zm15 0h5v1h-5zm52 0h4v1h-4zm7 0h2v1h-2zm4 0v1h1v-1zm-261 1v2h1v-2zm44 0h3v1h-3zm64 0v2h1v-2zm85 0h5v1h-5zm10 0h2v1h-2zm45 0h2v1h-2zm11 0h2v1h-2zm69 0v3h1v-3zm-281 1h2v1h-2zm137 0v2h1v-2zm7 0h2v1h-2zm14 0h2v1h-2zm41 0h2v1h-2zm101 0v4h1v-4zm-348 1v1h1v-1zm50 0h2v1h-2zm58 0v2h1v-2zm82 0h2v1h-2zm18 0h2v1h-2zm37 0h2v1h-2zm-433 1v4h1v-4zm186 0h2v1h-2zm54 0h2v1h-2zm134 0v2h1v-2zm2 0h2v1h-2zm22 0v1h1v-1zm33 0h2v1h-2zm87 0v2h1v-2zm-339 1h2v1h-2zm5 0h2v1h-2zm58 0h2v1h-2zm53 0v3h1v-3zm80 0v1h1v-1zm24 0v1h1v-1zm31 0v1h1v-1zm89 0h3v1h-3zm-341 1v2h1v-2zm3 0h3v1h-3zm63 0v1h1v-1zm156 0v1h1v-1zm29 0v2h1v-2zm93 0h4v1h-4zm13 0v3h1v-3zm-290 1h2v1h-2zm156 0v2h1v-2zm125 0v1h1v-1zm-525 1v3h1v-3zm176 0v1h1v-1zm70 0h2v1h-2zm47 0v2h1v-2zm128 0h3v1h-3zm6 0v1h1v-1zm99 0v1h1v-1zm-351 1v1h1v-1zm73 0v1h1v-1zm153 0v1h1v-1zm16 0h4v1h-4zm7 0h3v1h-3zm103 0v1h1v-1zm6 0v2h1v-2zm-359 1v2h1v-2zm75 0h2v1h-2zm8 0v1h1v-1zm35 0v2h1v-2zm110 0v1h1v-1zm13 0h2v1h-2zm113 0v1h1v-1zm-527 1v2h1v-2zm250 0h2v1h-2zm4 0h2v1h-2zm3 0v1h1v-1zm145 0v1h1v-1zm10 0h2v1h-2zm116 0v1h1v-1zm3 0v2h1v-2zm-359 1v1h1v-1zm80 0h2v1h-2zm6 0h2v1h-2zm32 0v2h1v-2zm113 0v1h1v-1zm8 0v1h1v-1zm118 0v1h1v-1zm-528 1v1h1v-1zm170 0v2h1v-2zm89 0v2h1v-2zm144 0h2v1h-2zm6 0v1h1v-1zm120 0v1h1v-1zm-528 1v1h1v-1zm287 0v2h1v-2zm117 0v1h1v-1zm2 0h2v1h-2zm-405 1v2h1v-2zm167 0v1h1v-1zm91 0v3h1v-3zm146 0v1h1v-1zm-238 1v2h1v-2zm119 0v2h1v-2zm-284 1v1h1v-1zm1 1v2h1v-2zm163 0v1h1v-1zm94 0v3h1v-3zm25 0v2h1v-2zm-197 1h3v1h-3zm77 0v2h1v-2zm-161 1v2h1v-2zm82 0h2v1h-2zm5 0h2v1h-2zm193 0v2h1v-2zm-198 1v2h1v-2zm7 0h2v1h-2zm71 0v2h1v-2zm97 0v4h1v-4zm-256 1v2h1v-2zm89 0v2h1v-2zm189 0v2h1v-2zm-198 1v4h1v-4zm78 0v4h1v-4zm-157 1v1h1v-1zm89 0v5h1v-5zm187 0v1h1v-1zm-275 1v1h1v-1zm255 0v4h1v-4zm19 0v1h1v-1zm-273 1v1h1v-1zm130 0h2v1h-2zm142 0v1h1v-1zm-271 1h2v1h-2zm75 0v6h1v-6zm52 0h2v1h-2zm4 0h2v1h-2zm22 0v3h1v-3zm117 0v1h1v-1zm-268 1v1h1v-1zm123 0h2v1h-2zm8 0v1h1v-1zm136 0v1h1v-1zm-266 1v1h1v-1zm4 0h4v1h-4zm80 0v3h1v-3zm36 0h2v1h-2zm11 0h2v1h-2zm120 0v4h1v-4zm13 0h2v1h-2zm-263 1h3v1h-3zm7 0h2v1h-2zm111 0v1h1v-1zm14 0h2v1h-2zm10 0h4v1h-4zm6 0v2h1v-2zm114 0v1h1v-1zm-253 1h2v1h-2zm75 0v1h1v-1zm33 0v1h1v-1zm17 0h2v1h-2zm5 0h3v1h-3zm7 0h2v1h-2zm115 0v1h1v-1zm-250 1h2v1h-2zm74 0h2v1h-2zm14 0v2h1v-2zm17 0v1h1v-1zm20 0h3v1h-3zm124 0v1h1v-1zm-247 1v1h1v-1zm48 0h2v1h-2zm9 0v5h1v-5zm17 0h2v1h-2zm13 0v1h1v-1zm15 0v1h1v-1zm136 0v3h1v-3zm7 0h2v1h-2zm-244 1h2v1h-2zm46 0v1h1v-1zm3 0h2v1h-2zm26 0v2h1v-2zm9 0v2h1v-2zm3 0v1h1v-1zm11 0h3v1h-3zm145 0v1h1v-1zm-241 1v1h1v-1zm43 0v1h1v-1zm6 0h2v1h-2zm37 0v1h1v-1zm4 0h6v1h-6zm146 0v1h1v-1zm4 0v1h1v-1zm-239 1h3v1h-3zm40 0h2v1h-2zm10 0h2v1h-2zm23 0v1h1v-1zm7 0v2h1v-2zm6 0h3v1h-3zm150 0h3v1h-3zm-233 1h3v1h-3zm36 0v1h1v-1zm13 0v1h1v-1zm22 0v1h1v-1zm-68 1v1h1v-1zm32 0v1h1v-1zm37 0v2h1v-2zm4 0v1h1v-1zm-72 1v2h1v-2zm30 0v1h1v-1zm40 0h2v1h-2zm-41 1v1h1v-1zm40 0v1h1v-1zm-68 1v1h1v-1zm26 0h2v1h-2zm-25 1v1h1v-1zm24 0v1h1v-1zm-23 1v2h1v-2zm21 0h2v1h-2zm-2 1h2v1h-2zm-18 1v1h1v-1zm15 0h3v1h-3zm-14 1v2h1v-2zm11 0h3v1h-3zm0 1v1h1v-1zm-10 1v2h1v-2zm9 0v2h1v-2zm-8 2v2h1v-2zm7 0v2h1v-2zm-6 2v2h1v-2zm5 0v1h1v-1zm-1 1v2h1v-2zm-3 1v2h1v-2zm2 1v1h1v-1zm-1 1v1h1v-1z" fill="#cfa875"/>
<path d="M45 103h1v25h-1zm-1 9h3v15h-3zm3 -7h3v1h-3zm4 -46h1v24h-1zm-1 8h3v5h-3zm4 -13h1v19h-1zm-1 6h3v12h-3zm4 -11h1v25h-1zm-1 10h3v6h-3zm4 -5h1v22h-1zm-1 7h3v15h-3zm4 9h1v19h-1zm-1 0h3v19h-3zm4 11h1v59h-1zm-1 7h3v51h-3zm4 24h1v24h-1zm-1 0h3v23h-3zm4 1h1v21h-1zm-1 2h3v18h-3zm4 -9h1v12h-1zm-1 2h3v8h-3zm4 -2h1v14h-1zm-1 0h3v8h-3zm4 7h1v19h-1zm-1 0h3v19h-3zm4 5h1v25h-1zm-1 8h3v6h-3zm4 -2h1v11h-1zm-1 0h3v11h-3zm4 -7h1v15h-1zm-1 2h3v13h-3zm4 -6h1v11h-1zm-1 6h3v5h-3zm4 -1h1v6h-1zm-1 1h3v4h-3zm4 3h1v4h-1zm-1 0h3v3h-3zm4 0h1v21h-1zm-1 1h3v16h-3zm4 4h1v12h-1zm-1 1h3v10h-3zm4 -18h1v29h-1zm-1 5h3v23h-3zm4 -1h1v16h-1zm-1 4h3v11h-3zm4 3h1v14h-1zm-1 2h3v8h-3zm4 -2h1v12h-1zm-1 3h3v4h-3zm4 -7h1v11h-1zm-1 3h3v6h-3zm4 3h1v15h-1zm-1 4h3v3h-3zm4 -8h1v13h-1zm-1 4h3v8h-3zm4 4h1v24h-1zm-1 0h3v9h-3zm4 -5h1v17h-1zm-1 9h3v3h-3zm4 4h1v21h-1zm-1 3h3v5h-3zm3 7h1v11h-1zm-1 0h3v11h-3zm4 -28h1v39h-1zm-1 27h3v12h-3zm4 -14h1v16h-1zm-1 9h3v6h-3zm4 -2h1v14h-1zm-1 1h3v11h-3zm4 12h1v15h-1zm-1 1h3v7h-3zm4 7h1v28h-1zm-1 2h3v15h-3zm4 0h1v21h-1zm-1 1h3v11h-3zm4 -1h1v10h-1zm-1 0h3v6h-3zm4 -5h1v7h-1zm-1 0h3v6h-3zm4 -9h1v16h-1zm-1 9h3v6h-3zm4 -4h1v12h-1zm-1 0h3v5h-3zm4 -14h1v18h-1zm-1 2h3v15h-3zm4 -4h1v11h-1zm-1 3h3v7h-3zm4 0h1v8h-1zm-1 0h3v7h-3zm4 1h1v20h-1zm-1 0h3v19h-3zm4 11h1v12h-1zm-1 0h3v8h-3zm4 0h1v11h-1zm-1 2h3v6h-3zm4 6h1v45h-1zm-1 0h3v31h-3zm4 22h1v19h-1zm-1 5h3v4h-3zm4 -1h1v23h-1zm-1 2h3v9h-3zm4 -4h1v13h-1zm-1 2h3v9h-3zm4 -12h1v13h-1zm-1 1h3v11h-3zm4 -22h1v26h-1zm-1 1h3v24h-3zm4 -3h1v12h-1zm-1 1h3v8h-3zm4 -11h1v19h-1zm-1 10h3v7h-3zm4 -3h1v10h-1zm-1 3h3v4h-3zm4 -47h1v48h-1zm-1 24h3v24h-3zm4 -9h1v36h-1zm-1 9h3v24h-3zm4 7h1v21h-1zm-1 1h3v8h-3zm4 9h1v6h-1zm-1 1h3v5h-3zm3 0h3v1h-3zm4 16h1v94h-1zm-1 2h3v43h-3zm4 35h1v70h-1zm-1 0h3v55h-3zm4 39h1v29h-1zm-1 18h3v8h-3zm4 -10h1v20h-1zm-1 7h3v9h-3zm4 -6h1v14h-1zm-1 4h3v6h-3zm4 -10h1v25h-1zm-1 9h3v6h-3zm4 -12h1v19h-1zm-1 5h3v8h-3zm4 0h1v51h-1zm-1 0h3v37h-3zm4 25h1v13h-1zm-1 0h3v9h-3zm4 1h1v14h-1zm-1 1h3v9h-3zm4 -4h1v39h-1zm-1 0h3v39h-3zm4 24h1v31h-1zm-1 9h3v7h-3zm4 -4h1v25h-1zm-1 5h3v5h-3zm4 -1h1v10h-1zm-1 0h3v10h-3zm4 -5h1v22h-1zm-1 7h3v8h-3zm4 -8h1v16h-1zm-1 8h3v5h-3zm4 -6h1v14h-1zm-1 0h3v12h-3zm4 12h1v30h-1zm-1 0h3v30h-3zm4 14h1v27h-1zm-1 14h3v11h-3zm4 -4h1v26h-1zm-1 5h3v10h-3zm4 0h1v10h-1zm-1 2h3v7h-3zm4 -1h1v15h-1zm-1 4h3v12h-3zm4 3h1v36h-1zm-1 0h3v36h-3zm4 32h1v35h-1zm-1 0h3v19h-3zm4 5h1v17h-1zm-1 5h3v9h-3zm4 -16h1v29h-1zm-1 12h3v2h-3zm4 1h1v44h-1zm-1 28h3v5h-3zm4 -14h1v30h-1zm-1 14h3v4h-3zm4 -13h1v23h-1zm-1 13h3v4h-3zm6 -43h1v30h-1zm-1 13h3v15h-3zm3 21h3v1h-3zm1 -7h1v17h-1zm3 0h1v28h-1zm-1 0h3v4h-3zm4 -9h1v30h-1zm-1 0h3v24h-3zm4 -8h1v21h-1zm-1 9h3v12h-3zm4 -5h1v19h-1zm-1 6h3v11h-3zm4 0h1v10h-1zm-1 2h3v3h-3zm4 -6h1v12h-1zm-1 6h3v5h-3zm4 1h1v9h-1zm-1 3h3v4h-3zm4 0h1v16h-1zm-1 0h3v14h-3zm4 10h1v17h-1zm-1 0h3v11h-3zm4 2h1v15h-1zm-1 1h3v8h-3zm4 -23h1v29h-1zm-1 1h3v27h-3zm4 -11h1v19h-1zm-1 2h3v7h-3zm4 -8h1v20h-1zm-1 9h3v8h-3zm4 -1h1v13h-1zm-1 2h3v7h-3zm4 7h1v14h-1zm-1 0h3v12h-3zm4 -3h1v16h-1zm-1 2h3v12h-3zm4 -8h1v12h-1zm-1 3h3v8h-3zm4 -6h1v11h-1zm-1 3h3v6h-3zm4 0h1v12h-1zm-1 4h3v4h-3zm4 -4h1v15h-1zm-1 5h3v6h-3zm4 -8h1v18h-1zm-1 7h3v7h-3zm4 -7h1v18h-1zm-1 1h3v8h-3zm4 -8h1v25h-1zm-1 9h3v8h-3zm4 -2h1v34h-1zm-1 3h3v25h-3zm4 16h1v12h-1zm-1 2h3v6h-3zm4 -3h1v11h-1zm-1 3h3v5h-3zm4 -16h1v21h-1zm-1 4h3v15h-3zm4 0h1v16h-1zm-1 4h3v9h-3zm4 87h1v31h-1zm-1 6h3v11h-3zm4 -7h1v21h-1zm-1 2h3v14h-3zm4 5h1v41h-1zm-1 9h3v29h-3zm4 -3h1v30h-1zm-1 7h3v19h-3zm4 2h1v17h-1zm-1 5h3v11h-3zm4 -2h1v18h-1zm-1 0h3v5h-3zm4 1h1v13h-1zm-1 2h3v9h-3zm4 -10h1v11h-1zm-1 2h3v8h-3zm4 0h1v16h-1zm-1 4h3v12h-3zm4 -1h1v14h-1zm-1 5h3v8h-3zm3 0h1v13h-1zm-1 5h3v5h-3zm4 -14h1v14h-1zm-1 3h3v9h-3zm4 -5h1v13h-1zm-1 2h3v11h-3zm4 -3h1v11h-1zm-1 2h3v8h-3zm4 4h1v13h-1zm-1 2h3v7h-3zm4 -2h1v39h-1zm-1 1h3v33h-3zm4 21h1v33h-1zm-1 6h3v11h-3zm4 -3h1v17h-1zm-1 2h3v12h-3zm4 -2h1v9h-1zm-1 3h3v5h-3zm4 -20h1v25h-1zm-1 4h3v21h-3zm3 2h3v1h-3zm1 -2h1v11h-1zm3 -18h1v22h-1zm-1 5h3v14h-3zm4 -2h1v19h-1zm-1 2h3v15h-3zm4 6h1v18h-1zm-1 1h3v14h-3zm4 13h1v27h-1zm-1 1h3v22h-3zm4 -1h1v27h-1zm-1 3h3v21h-3zm4 -12h1v35h-1zm-1 11h3v23h-3zm4 3h1v23h-1zm-1 1h3v20h-3zm4 23h1v15h-1zm-1 1h3v7h-3zm3 -4h3v1h-3zm3 -38h1v23h-1zm-1 4h3v17h-3zm4 -4h1v24h-1zm-1 4h3v12h-3zm4 -1h1v30h-1zm-1 4h3v12h-3zm4 -10h1v27h-1zm-1 1h3v22h-3zm4 1h1v10h-1zm-1 4h3v5h-3zm4 -3h1v11h-1zm-1 4h3v5h-3zm4 -4h1v10h-1zm-1 3h3v7h-3zm4 -43h1v48h-1zm-1 12h3v33h-3zm4 0h1v12h-1zm-1 2h3v8h-3zm4 -34h1v28h-1zm-1 16h3v6h-3zm4 -3h1v12h-1zm-1 3h3v6h-3zm4 -10h1v16h-1zm-1 1h3v14h-3zm4 -1h1v16h-1zm-1 7h3v5h-3zm4 -4h1v15h-1zm-1 2h3v9h-3zm4 -54h1v68h-1zm-1 4h3v56h-3zm4 -17h1v26h-1zm-1 6h3v8h-3zm4 -23h1v29h-1zm-1 1h3v22h-3zm4 0h1v6h-1zm-1 0h3v6h-3zm3 10h3v1h-3zm4 -53h1v25h-1zm-1 20h3v4h-3zm4 -13h1v16h-1zm-1 4h3v8h-3zm4 -11h1v18h-1zm-1 2h3v10h-3zm4 -13h1v28h-1zm-1 13h3v4h-3zm4 2h1v18h-1zm-1 1h3v12h-3zm4 1h1v11h-1zm-1 0h3v10h-3zm4 -4h1v10h-1zm-1 4h3v5h-3zm4 -4h1v10h-1zm-1 5h3v4h-3zm4 4h1v28h-1zm-1 0h3v26h-3zm4 20h1v43h-1zm-1 0h3v30h-3zm4 22h1v18h-1zm-1 0h3v8h-3zm4 1h1v22h-1zm-1 0h3v7h-3zm4 -3h1v10h-1zm-1 1h3v7h-3zm4 -11h1v20h-1zm-1 7h3v5h-3zm4 -23h1v24h-1zm-1 18h3v6h-3zm4 -17h1v23h-1zm-1 0h3v20h-3zm4 0h1v37h-1zm-1 20h3v7h-3zm4 -21h1v28h-1zm-1 3h3v24h-3zm4 -26h1v32h-1zm-1 26h3v6h-3zm4 -10h1v12h-1zm-1 1h3v11h-3zm4 -6h1v14h-1zm-1 5h3v7h-3zm4 -3h1v12h-1zm-1 6h3v5h-3zm4 5h1v17h-1zm-1 1h3v7h-3zm4 -2h1v17h-1zm-1 9h3v5h-3zm4 -18h1v13h-1zm-1 1h3v10h-3zm4 10h1v24h-1zm-1 6h3v18h-3zm4 2h1v35h-1zm-1 17h3v18h-3zm4 -4h1v74h-1zm-1 4h3v49h-3zm4 -10h1v59h-1zm-1 4h3v46h-3zm3 -16h3v1h-3zm4 -39h1v31h-1zm-1 4h3v19h-3zm4 15h1v5h-1zm-1 1h3v3h-3zm4 0h1v41h-1zm-1 2h3v22h-3zm4 13h1v23h-1zm-1 7h3v6h-3zm4 -3h1v20h-1zm-1 2h3v5h-3zm4 -9h1v20h-1zm-1 8h3v6h-3zm4 -6h1v28h-1zm-1 9h3v10h-3zm4 -3h1v26h-1zm-1 8h3v16h-3zm4 9h1v31h-1zm-1 2h3v21h-3zm4 14h1v38h-1zm-1 6h3v16h-3zm4 -9h1v40h-1zm-1 15h3v10h-3zm4 -2h1v10h-1zm-1 2h3v6h-3zm4 -4h1v23h-1zm-1 8h3v14h-3zm4 1h1v15h-1zm-1 3h3v11h-3zm4 2h1v28h-1zm-1 2h3v5h-3zm4 -18h1v22h-1zm-1 8h3v9h-3zm4 -3h1v15h-1zm-1 9h3v5h-3zm4 -8h1v14h-1zm-1 7h3v6h-3zm4 -6h1v13h-1zm-1 6h3v6h-3zm4 -3h1v13h-1zm-1 4h3v5h-3zm4 0h1v18h-1zm-1 2h3v15h-3zm4 -2h1v30h-1zm-1 4h3v9h-3zm4 -32h1v31h-1zm-1 18h3v12h-3zm4 -4h1v17h-1zm-1 2h3v13h-3zm4 4h1v80h-1zm-1 1h3v77h-3zm4 56h1v35h-1zm-1 14h3v9h-3zm4 -14h1v37h-1zm-1 2h3v29h-3zm4 2h1v33h-1zm-1 6h3v21h-3zm4 -42h1v69h-1zm-1 32h3v9h-3zm6 9h1v33h-1zm-1 0h3v10h-3zm4 -30h1v37h-1zm-1 23h3v14h-3zm4 -7h1v31h-1zm-1 8h3v13h-3zm4 -4h1v19h-1zm-1 2h3v9h-3zm4 2h1v28h-1zm-1 0h3v15h-3zm4 0h1v16h-1zm-1 1h3v13h-3zm4 -2h1v17h-1zm-1 1h3v15h-3zm4 -9h1v15h-1zm-1 8h3v6h-3zm4 -1h1v18h-1zm-1 1h3v17h-3zm4 12h1v13h-1zm-1 1h3v6h-3zm4 -6h1v13h-1zm-1 3h3v6h-3zm4 -5h1v11h-1zm-1 3h3v6h-3zm4 -1h1v13h-1zm-1 2h3v7h-3zm4 3h1v12h-1zm-1 1h3v6h-3zm4 -1h1v11h-1zm-1 1h3v7h-3zm4 -6h1v11h-1zm-1 2h3v8h-3zm4 -16h1v16h-1zm-1 7h3v9h-3zm4 -2h1v12h-1zm-1 3h3v6h-3zm4 -8h1v16h-1zm-1 7h3v8h-3zm4 0h1v9h-1zm-1 1h3v8h-3zm4 3h1v7h-1zm-1 3h3v3h-3zm4 -16h1v19h-1zm-1 16h3v3h-3zm4 -5h1v30h-1zm-1 2h3v10h-3zm4 8h1v47h-1zm-1 0h3v29h-3zm4 22h1v22h-1zm-1 2h3v9h-3zm4 -3h1v15h-1zm-1 3h3v11h-3zm4 0h1v24h-1zm-1 2h3v8h-3zm4 -1h1v16h-1zm-1 3h3v11h-3zm4 -2h1v17h-1zm-1 2h3v10h-3zm3 -16h3v1h-3zm3 -68h1v18h-1zm-1 5h3v12h-3zm4 -5h1v18h-1zm-1 6h3v10h-3zm4 -8h1v30h-1zm-1 3h3v24h-3zm4 0h1v25h-1zm-1 3h3v18h-3zm4 -25h1v22h-1zm-1 4h3v17h-3zm4 -2h1v14h-1zm-1 4h3v7h-3zm4 -6h1v19h-1zm-1 7h3v5h-3zm4 -83h1v87h-1zm-1 27h3v60h-3zm4 -3h1v18h-1zm-1 3h3v15h-3zm4 0h1v13h-1zm-1 4h3v6h-3zm4 -4h1v14h-1zm-1 4h3v7h-3zm3 5h3v1h-3zm4 -24h1v27h-1zm-1 19h3v7h-3zm4 -14h1v15h-1zm-1 8h3v6h-3zm4 -9h1v12h-1zm-1 1h3v11h-3zm4 0h1v30h-1zm-1 0h3v13h-3zm4 7h1v18h-1zm-1 3h3v4h-3zm4 -5h1v11h-1zm-1 3h3v5h-3zm4 -4h1v9h-1zm-1 1h3v6h-3zm4 -3h1v14h-1zm-1 4h3v4h-3zm4 -4h1v15h-1zm-1 2h3v5h-3zm4 -3h1v26h-1zm-1 7h3v11h-3zm4 -6h1v19h-1zm-1 7h3v10h-3zm4 -5h1v14h-1zm-1 3h3v9h-3zm4 0h1v9h-1zm-1 3h3v5h-3zm4 -2h1v9h-1zm-1 2h3v5h-3zm4 -11h1v24h-1zm-1 11h3v5h-3zm4 -4h1v13h-1zm-1 3h3v6h-3zm4 -5h1v12h-1zm-1 1h3v6h-3zm6 5h1v16h-1zm-1 5h3v6h-3zm4 -12h1v23h-1zm-1 1h3v16h-3zm4 2h1v18h-1zm-1 2h3v12h-3zm4 5h1v81h-1zm-1 1h3v63h-3zm4 43h1v32h-1zm-1 0h3v20h-3zm4 1h1v25h-1zm-1 1h3v20h-3zm4 4h1v18h-1zm-1 0h3v14h-3zm4 4h1v12h-1zm-1 2h3v6h-3zm4 -2h1v14h-1zm-1 3h3v5h-3zm4 -3h1v12h-1zm-1 3h3v5h-3zm4 0h1v15h-1zm-1 1h3v5h-3zm4 -3h1v10h-1zm-1 1h3v5h-3zm4 -1h1v11h-1zm-1 1h3v7h-3zm4 4h1v31h-1zm-1 1h3v30h-3zm4 21h1v13h-1zm-1 0h3v13h-3zm4 6h1v31h-1zm-1 2h3v24h-3zm4 7h1v30h-1zm-1 2h3v9h-3zm4 -7h1v18h-1zm-1 2h3v12h-3zm4 -8h1v13h-1zm-1 2h3v9h-3zm4 -1h1v10h-1zm-1 2h3v6h-3zm4 -13h1v17h-1zm-1 10h3v5h-3zm4 -2h1v13h-1zm-1 2h3v8h-3zm4 4h1v28h-1zm-1 0h3v22h-3zm4 11h1v14h-1zm-1 4h3v7h-3zm4 -2h1v15h-1zm-1 4h3v6h-3zm4 -4h1v30h-1zm-1 4h3v14h-3zm4 -2h1v28h-1zm-1 7h3v11h-3zm4 -5h1v16h-1zm-1 5h3v7h-3zm4 -5h1v17h-1zm-1 4h3v8h-3zm7 -86h1v26h-1zm-1 9h3v12h-3zm4 -5h1v19h-1zm-1 5h3v6h-3zm4 -4h1v19h-1zm-1 4h3v6h-3zm4 5h1v28h-1zm-1 3h3v18h-3zm4 -9h1v23h-1zm-1 5h3v11h-3zm4 -5h1v11h-1zm-1 0h3v10h-3zm4 1h1v12h-1zm-1 1h3v8h-3zm4 -78h1v82h-1zm-1 24h3v54h-3zm4 -2h1v27h-1zm-1 1h3v26h-3zm4 4h1v23h-1zm-1 5h3v10h-3zm4 -5h1v12h-1zm-1 3h3v6h-3zm4 -1h1v9h-1zm-1 1h3v4h-3zm4 -30h1v35h-1zm-1 4h3v27h-3zm4 -4h1v24h-1zm-1 2h3v12h-3zm4 11h1v11h-1zm-1 0h3v9h-3zm4 -1h1v12h-1zm-1 1h3v9h-3zm4 -3h1v28h-1zm-1 3h3v20h-3zm4 15h1v16h-1zm-1 2h3v6h-3zm4 0h1v20h-1zm-1 2h3v12h-3zm4 0h1v14h-1zm-1 1h3v11h-3zm4 -3h1v13h-1zm-1 5h3v6h-3zm4 -6h1v56h-1zm-1 5h3v7h-3zm4 -2h1v62h-1zm-1 2h3v55h-3zm4 36h1v21h-1zm-1 7h3v12h-3zm4 -4h1v19h-1zm-1 6h3v9h-3zm4 -5h1v17h-1zm-1 5h3v7h-3zm4 -4h1v17h-1zm-1 5h3v8h-3zm4 -4h1v35h-1zm-1 0h3v21h-3zm4 -3h1v26h-1zm-1 3h3v23h-3zm3 -10h3v1h-3zm3 -119h1v43h-1zm-1 8h3v32h-3zm4 -15h1v24h-1zm-1 12h3v8h-3zm4 -5h1v23h-1zm-1 5h3v11h-3zm4 9h1v14h-1zm-1 1h3v4h-3zm4 -10h1v12h-1zm-1 2h3v9h-3zm4 -6h1v14h-1zm-1 1h3v10h-3zm4 -34h1v35h-1zm-1 25h3v9h-3zm4 -13h1v24h-1zm-1 4h3v11h-3zm4 0h1v15h-1zm-1 1h3v11h-3zm4 7h1v9h-1zm-1 1h3v6h-3zm4 3h1v8h-1zm-1 1h3v5h-3zm4 -10h1v16h-1zm-1 10h3v6h-3zm4 -4h1v11h-1zm-1 4h3v6h-3zm4 -1h1v13h-1zm-1 5h3v4h-3zm4 -8h1v11h-1zm-1 2h3v7h-3zm4 -20h1v26h-1zm-1 12h3v12h-3zm4 0h1v10h-1zm-1 0h3v6h-3zm4 -5h1v9h-1zm-1 5h3v3h-3zm4 -5h1v7h-1zm-1 1h3v5h-3zm4 -12h1v18h-1zm-1 9h3v8h-3zm4 -8h1v15h-1zm-1 1h3v13h-3zm4 -11h1v24h-1zm-1 2h3v22h-3zm4 -25h1v28h-1zm-1 21h3v6h-3zm4 -23h1v23h-1zm-1 12h3v8h-3zm4 -8h1v13h-1zm-1 8h3v4h-3zm4 3h1v5h-1zm-1 0h3v2h-3zm4 -12h1v31h-1zm-1 1h3v12h-3zm4 -28h1v31h-1zm-1 8h3v22h-3zm4 -24h1v25h-1zm-1 17h3v8h-3zm4 35h5v1h-5z" fill="#000000"/>
<path d="M45 113h1v13h-1zm6 -45h1v3h-1zm3 -7h1v10h-1zm3 -1h1v4h-1zm15 56h1v16h-1zm3 -7h1v6h-1zm6 5h1v17h-1zm3 13h1v4h-1zm6 -7h1v11h-1zm18 -4h1v21h-1zm6 8h1v6h-1zm3 1h1v2h-1zm3 -4h1v4h-1zm17 25h1v9h-1zm3 -1h1v10h-1zm3 -5h1v4h-1zm12 22h1v9h-1zm6 -6h1v4h-1zm3 0h1v4h-1zm6 -16h1v13h-1zm3 -1h1v5h-1zm3 0h1v5h-1zm18 48h1v7h-1zm3 -2h1v7h-1zm3 -11h1v9h-1zm3 -21h1v22h-1zm3 -2h1v6h-1zm3 -1h1v5h-1zm6 -23h1v22h-1zm21 128h1v6h-1zm3 -3h1v7h-1zm3 -2h1v4h-1zm3 -1h1v4h-1zm3 -7h1v6h-1zm6 25h1v7h-1zm3 2h1v7h-1zm12 29h1v8h-1zm21 39h1v5h-1zm12 48h1v7h-1zm26 0h1v22h-1zm3 1h1v10h-1zm3 1h1v9h-1zm21 -3h1v25h-1zm3 -9h1v5h-1zm12 8h1v10h-1zm3 -5h1v6h-1zm3 -3h1v4h-1zm3 4h1v2h-1zm6 0h1v5h-1zm3 -6h1v6h-1zm3 1h1v6h-1zm30 124h1v9h-1zm6 1h1v7h-1zm11 5h1v3h-1zm3 -11h1v7h-1zm3 -3h1v9h-1zm15 30h1v10h-1zm6 -15h1v19h-1zm6 -13h1v12h-1zm15 22h1v21h-1zm11 -10h1v15h-1zm9 -6h1v20h-1zm12 -26h1v31h-1zm9 -16h1v4h-1zm3 -9h1v12h-1zm9 -46h1v54h-1zm3 -11h1v6h-1zm3 -22h1v20h-1zm9 -23h1v2h-1zm6 -18h1v8h-1zm9 4h1v8h-1zm3 0h1v3h-1zm18 46h1v5h-1zm3 -4h1v3h-1zm3 -5h1v4h-1zm3 -17h1v18h-1zm6 2h1v22h-1zm3 0h1v4h-1zm3 -9h1v9h-1zm15 -2h1v8h-1zm21 -6h1v1h-1zm30 65h1v4h-1zm12 2h1v7h-1zm3 6h1v3h-1zm18 -10h1v10h-1zm3 -2h1v11h-1zm9 63h1v27h-1zm3 8h1v19h-1zm3 -10h1v7h-1zm5 9h1v8h-1zm9 -8h1v7h-1zm9 2h1v13h-1zm3 -1h1v4h-1zm9 10h1v4h-1zm3 -2h1v4h-1zm6 5h1v4h-1zm6 -4h1v6h-1zm3 -9h1v7h-1zm3 1h1v4h-1zm21 35h1v7h-1zm6 2h1v6h-1zm3 2h1v9h-1zm3 0h1v8h-1zm11 -83h1v22h-1zm3 3h1v16h-1zm12 -74h1v58h-1zm6 4h1v4h-1zm3 0h1v5h-1zm6 0h1v5h-1zm3 -6h1v4h-1zm3 -8h1v9h-1zm9 8h1v3h-1zm3 -3h1v4h-1zm3 1h1v2h-1zm12 1h1v7h-1zm9 3h1v3h-1zm3 -1h1v4h-1zm3 -4h1v4h-1zm20 54h1v18h-1zm9 11h1v3h-1zm3 0h1v3h-1zm3 1h1v3h-1zm18 41h1v7h-1zm3 -5h1v10h-1zm3 -6h1v7h-1zm3 1h1v4h-1zm3 -3h1v3h-1zm12 21h1v4h-1zm9 5h1v5h-1zm9 -78h1v10h-1zm12 4h1v9h-1zm3 -5h1v8h-1zm3 2h1v6h-1zm3 -54h1v52h-1zm6 8h1v8h-1zm3 -2h1v4h-1zm3 0h1v2h-1zm3 -26h1v25h-1zm15 26h1v4h-1zm3 2h1v10h-1zm18 47h1v7h-1zm3 0h1v5h-1zm3 1h1v6h-1zm11 -125h1v30h-1zm3 -3h1v6h-1zm6 10h1v2h-1zm3 -8h1v7h-1zm3 -5h1v8h-1zm3 -9h1v7h-1zm3 -9h1v9h-1zm9 13h1v3h-1zm9 4h1v2h-1zm3 -6h1v5h-1zm3 -8h1v10h-1zm12 -7h1v6h-1zm6 -16h1v20h-1zm3 -4h1v4h-1zm12 -19h1v10h-1zm3 -20h1v20h-1zm3 -7h1v6h-1z" fill="#ffffff"/>
<path d="M75 111h23v1h-23zm-5 1h5v1h-5zm28 0h2v1h-2zm-33 1h5v1h-5zm35 0h4v1h-4zm10 0h19v1h-19zm-49 1h4v1h-4zm43 0h6v1h-6zm25 0h6v1h-6zm-71 1h3v1h-3zm77 0h4v1h-4zm-79 1h2v1h-2zm83 0h3v1h-3zm-85 1h2v1h-2zm88 0h2v1h-2zm-89 1v1h1v-1zm91 0h3v1h-3zm-96 1h5v1h-5zm99 0h2v1h-2zm-103 1h4v1h-4zm105 0h2v1h-2zm2 1h2v1h-2zm2 1v1h1v-1zm1 1v1h1v-1zm1 1v1h1v-1zm1 1v1h1v-1zm1 1v2h1v-2zm1 2v1h1v-1zm1 1v1h1v-1zm1 1v1h1v-1zm1 1h2v1h-2zm2 1v1h1v-1zm1 1v1h1v-1zm1 1h2v1h-2zm2 1h3v1h-3zm3 1h5v1h-5zm5 1h4v1h-4zm4 1h3v1h-3zm3 1h4v1h-4zm4 1h3v1h-3zm3 1h2v1h-2zm2 1h2v1h-2zm2 1h2v1h-2zm2 1h2v1h-2zm2 1v1h1v-1zm1 1h2v1h-2zm2 1v1h1v-1zm1 1h2v1h-2zm2 1h2v1h-2zm2 1h2v1h-2zm2 1h2v1h-2zm2 1h12v1h-12zm12 1h5v1h-5zm5 1h3v1h-3zm3 1v1h1v-1zm1 1v1h1v-1zm1 1v1h1v-1zm1 1v2h1v-2zm1 2v1h1v-1zm1 1v1h1v-1zm1 1v2h1v-2zm1 2v1h1v-1zm1 1v1h1v-1zm1 1v1h1v-1zm1 1v1h1v-1zm1 1h2v1h-2zm2 1v1h1v-1zm1 1v1h1v-1zm1 1v1h1v-1zm1 1v1h1v-1zm1 1v1h1v-1zm1 1v1h1v-1zm1 1v1h1v-1zm1 1v1h1v-1zm1 1v1h1v-1zm1 1v1h1v-1zm1 1v1h1v-1zm1 1v1h1v-1zm1 1v1h1v-1zm1 1v1h1v-1zm1 1v2h1v-2zm1 2v1h1v-1zm1 1v1h1v-1zm1 1v1h1v-1zm1 1v1h1v-1zm1 1v2h1v-2zm1 2v1h1v-1zm1 1v2h1v-2zm1 2v1h1v-1zm1 1v2h1v-2zm1 2v1h1v-1zm1 1v2h1v-2zm1 2v1h1v-1zm1 1v2h1v-2zm1 2v1h1v-1zm1 1v2h1v-2zm1 2v1h1v-1zm1 1v1h1v-1zm1 1v2h1v-2zm1 2v1h1v-1zm1 1v2h1v-2zm1 2v1h1v-1zm1 1v1h1v-1zm1 1v2h1v-2zm1 2v1h1v-1zm1 1v2h1v-2zm1 2v2h1v-2zm1 2v1h1v-1zm1 1v2h1v-2zm1 2v2h1v-2zm1 2v2h1v-2zm1 2v1h1v-1zm1 1v2h1v-2zm1 2v2h1v-2zm1 2v1h1v-1zm1 1v2h1v-2zm1 2v2h1v-2zm1 2v1h1v-1zm1 1v2h1v-2zm1 2v2h1v-2zm1 2v2h1v-2zm1 2v1h1v-1zm1 1v2h1v-2zm1 2v2h1v-2zm880 1v2h1v-2zm-879 1v1h1v-1zm1 1v2h1v-2zm877 0v2h1v-2zm-876 2v2h1v-2zm875 0v2h1v-2zm-874 2v2h1v-2zm873 0v2h1v-2zm-872 2v2h1v-2zm871 0v2h1v-2zm-870 2v2h1v-2zm869 0v2h1v-2zm-868 2v2h1v-2zm867 0v2h1v-2zm-866 2v3h1v-3zm865 0v2h1v-2zm-1 2v2h1v-2zm-863 1v2h1v-2zm862 1v2h1v-2zm-861 1v2h1v-2zm860 1v2h1v-2zm-859 1v3h1v-3zm858 1v2h1v-2zm-857 2v2h1v-2zm856 0v2h1v-2zm-855 2v3h1v-3zm854 0v2h1v-2zm-1 2v2h1v-2zm-852 1v2h1v-2zm851 1v1h1v-1zm-850 1v2h1v-2zm849 0v1h1v-1zm-1 1v1h1v-1zm-847 1v3h1v-3zm846 0v2h1v-2zm-1 2v1h1v-1zm-844 1v4h1v-4zm843 0v1h1v-1zm-1 1v1h1v-1zm-1 1v1h1v-1zm-1 1v1h1v-1zm-839 1v3h1v-3zm838 0v1h1v-1zm-1 1v1h1v-1zm-1 1v1h1v-1zm-835 1v3h1v-3zm834 0v1h1v-1zm-1 1v1h1v-1zm-1 1v1h1v-1zm-831 1v4h1v-4zm830 0v1h1v-1zm-1 1v1h1v-1zm-2 1h2v1h-2zm-1 1v1h1v-1zm-825 1v3h1v-3zm823 0h2v1h-2zm-1 1v1h1v-1zm-1 1v1h1v-1zm-820 1v2h1v-2zm819 0v1h1v-1zm-1 1v1h1v-1zm-817 1v3h1v-3zm816 0v1h1v-1zm-1 1v1h1v-1zm-1 1v1h1v-1zm-813 1v2h1v-2zm812 0v1h1v-1zm-1 1v1h1v-1zm-810 1v3h1v-3zm809 0v1h1v-1zm-1 1v1h1v-1zm-1 1v1h1v-1zm-806 1v2h1v-2zm805 0v1h1v-1zm-1 1v1h1v-1zm-803 1v2h1v-2zm801 0h2v1h-2zm-1 1v1h1v-1zm-799 1v2h1v-2zm797 0h2v1h-2zm-1 1v1h1v-1zm-795 1v2h1v-2zm794 0v2h1v-2zm-793 2v2h1v-2zm792 0v1h1v-1zm-1 1v1h1v-1zm-790 1v2h1v-2zm789 0v2h1v-2zm-788 2v2h1v-2zm787 0v1h1v-1zm-1 1v1h1v-1zm-785 1v2h1v-2zm784 0v2h1v-2zm-783 2v2h1v-2zm782 0v1h1v-1zm-1 1v2h1v-2zm-780 1v1h1v-1zm1 1v1h1v-1zm778 0v1h1v-1zm-777 1v1h1v-1zm776 0v2h1v-2zm-775 1v1h1v-1zm1 1v1h1v-1zm773 0v1h1v-1zm-772 1v1h1v-1zm771 0v2h1v-2zm-770 1v1h1v-1zm1 1v2h1v-2zm768 0v1h1v-1zm-1 1v1h1v-1zm-766 1v2h1v-2zm765 0v2h1v-2zm-764 2v1h1v-1zm763 0v1h1v-1zm-762 1v2h1v-2zm761 0v1h1v-1zm-1 1v2h1v-2zm-759 1v1h1v-1zm1 1v2h1v-2zm757 0v1h1v-1zm-1 1v1h1v-1zm-755 1v2h1v-2zm754 0v2h1v-2zm-753 2v1h1v-1zm752 0v1h1v-1zm-751 1v2h1v-2zm750 0v2h1v-2zm-749 2v1h1v-1zm748 0v1h1v-1zm-747 1v2h1v-2zm746 0v2h1v-2zm-745 2v1h1v-1zm744 0v1h1v-1zm-743 1v2h1v-2zm742 0v2h1v-2zm-444 1h7v1h-7zm-297 1v1h1v-1zm290 0h7v1h-7zm14 0h4v1h-4zm436 0v2h1v-2zm-739 1v1h1v-1zm285 0h4v1h-4zm22 0h2v1h-2zm-306 1v1h1v-1zm282 0h2v1h-2zm26 0h2v1h-2zm267 0h15v1h-15zm162 0v2h1v-2zm-736 1v1h1v-1zm280 0v1h1v-1zm29 0v1h1v-1zm263 0h2v1h-2zm17 0v1h1v-1zm-588 1h2v1h-2zm278 0v1h1v-1zm31 0h2v1h-2zm260 0h2v1h-2zm20 0h2v1h-2zm145 0v2h1v-2zm-732 1v1h1v-1zm275 0v1h1v-1zm34 0v1h1v-1zm256 0h2v1h-2zm24 0v1h1v-1zm-588 1v1h1v-1zm272 0h2v1h-2zm37 0h2v1h-2zm253 0h2v1h-2zm27 0v1h1v-1zm141 0v2h1v-2zm-729 1v1h1v-1zm270 0v1h1v-1zm40 0v1h1v-1zm250 0v1h1v-1zm29 0h2v1h-2zm-588 1v1h1v-1zm268 0v1h1v-1zm42 0h2v1h-2zm248 0v2h1v-2zm32 0v1h1v-1zm137 0v2h1v-2zm-726 1v1h1v-1zm266 0v1h1v-1zm45 0v1h1v-1zm279 0v1h1v-1zm-589 1h2v1h-2zm264 0v1h1v-1zm47 0v1h1v-1zm244 0v1h1v-1zm35 0h2v1h-2zm134 0v1h1v-1zm-722 1v1h1v-1zm260 0h2v1h-2zm50 0h2v1h-2zm242 0v1h1v-1zm38 0v1h1v-1zm131 0v2h1v-2zm-720 1v1h1v-1zm258 0v1h1v-1zm53 0v1h1v-1zm239 0v1h1v-1zm40 0v1h1v-1zm-589 1v1h1v-1zm256 0v1h1v-1zm55 0h2v1h-2zm237 0v1h1v-1zm42 0v1h1v-1zm128 0v2h1v-2zm-717 1v1h1v-1zm254 0v1h1v-1zm58 0h2v1h-2zm234 0v2h1v-2zm44 0h2v1h-2zm-589 1h2v1h-2zm252 0v2h1v-2zm61 0h3v1h-3zm278 0v1h1v-1zm124 0v1h1v-1zm-713 1v1h1v-1zm314 0h3v1h-3zm228 0v1h1v-1zm48 0v1h1v-1zm122 0v2h1v-2zm-711 1v1h1v-1zm248 0v1h1v-1zm68 0h3v1h-3zm224 0v1h1v-1zm50 0v1h1v-1zm-589 1h2v1h-2zm246 0v1h1v-1zm72 0h3v1h-3zm220 0v1h1v-1zm52 0v1h1v-1zm119 0v2h1v-2zm-707 1v1h1v-1zm243 0v1h1v-1zm76 0h3v1h-3zm216 0v1h1v-1zm54 0v1h1v-1zm-588 1v1h1v-1zm241 0v2h1v-2zm80 0h4v1h-4zm212 0v2h1v-2zm56 0v1h1v-1zm115 0h2v1h-2zm-703 1h2v1h-2zm324 0h2v1h-2zm265 0v1h1v-1zm112 0h2v1h-2zm-699 1h2v1h-2zm237 0v1h1v-1zm87 0h2v1h-2zm205 0v1h1v-1zm59 0v1h1v-1zm109 0h2v1h-2zm-695 1h2v1h-2zm234 0v1h1v-1zm90 0h2v1h-2zm202 0v1h1v-1zm61 0v1h1v-1zm106 0h2v1h-2zm-691 1h2v1h-2zm231 0v2h1v-2zm93 0h2v1h-2zm199 0v2h1v-2zm63 0v1h1v-1zm102 0h3v1h-3zm-686 1h2v1h-2zm324 0v1h1v-1zm261 0v1h1v-1zm99 0h2v1h-2zm-682 1h2v1h-2zm226 0v2h1v-2zm97 0v1h1v-1zm195 0v1h1v-1zm66 0v1h1v-1zm96 0h2v1h-2zm-678 1h2v1h-2zm322 0v1h1v-1zm193 0v1h1v-1zm68 0h2v1h-2zm93 0h2v1h-2zm-674 1h2v1h-2zm221 0v1h1v-1zm100 0v1h1v-1zm191 0v1h1v-1zm71 0v1h1v-1zm89 0h2v1h-2zm-670 1h2v1h-2zm218 0v2h1v-2zm102 0v1h1v-1zm189 0v2h1v-2zm73 0v1h1v-1zm87 0v1h1v-1zm-667 1h2v1h-2zm319 0v1h1v-1zm262 0v1h1v-1zm85 0v1h1v-1zm-664 1h4v1h-4zm213 0v2h1v-2zm105 0v1h1v-1zm186 0v1h1v-1zm76 0h2v1h-2zm83 0v1h1v-1zm-659 1h4v1h-4zm315 0v1h1v-1zm184 0v1h1v-1zm79 0v1h1v-1zm80 0v2h1v-2zm-654 1v1h1v-1zm204 0v1h1v-1zm108 0v2h1v-2zm182 0v2h1v-2zm81 0v1h1v-1zm-574 1v2h1v-2zm202 0v2h1v-2zm373 0v1h1v-1zm77 0v1h1v-1zm-340 1v1h1v-1zm180 0v1h1v-1zm84 0v2h1v-2zm75 0v1h1v-1zm-650 1v1h1v-1zm200 0v2h1v-2zm112 0v1h1v-1zm178 0v1h1v-1zm159 0v1h1v-1zm-648 1v1h1v-1zm312 0v1h1v-1zm176 0v1h1v-1zm87 0v1h1v-1zm72 0v1h1v-1zm-646 1h2v1h-2zm197 0v1h1v-1zm115 0v1h1v-1zm174 0v1h1v-1zm89 0v1h1v-1zm69 0h2v1h-2zm-642 1v1h1v-1zm194 0v2h1v-2zm117 0v1h1v-1zm172 0v1h1v-1zm91 0v2h1v-2zm66 0h2v1h-2zm-639 1v1h1v-1zm311 0v1h1v-1zm170 0v2h1v-2zm157 0v1h1v-1zm-637 1h2v1h-2zm191 0v1h1v-1zm120 0v1h1v-1zm262 0v1h1v-1zm62 0h2v1h-2zm-633 1v1h1v-1zm188 0v2h1v-2zm122 0v1h1v-1zm167 0v1h1v-1zm95 0v1h1v-1zm59 0h2v1h-2zm-630 1v1h1v-1zm310 0v1h1v-1zm165 0v1h1v-1zm97 0v2h1v-2zm57 0v1h1v-1zm-628 1v1h1v-1zm185 0v1h1v-1zm125 0v1h1v-1zm163 0v1h1v-1zm153 0h2v1h-2zm-625 1h2v1h-2zm183 0v2h1v-2zm127 0v1h1v-1zm161 0v1h1v-1zm100 0v1h1v-1zm53 0v1h1v-1zm-622 1v1h1v-1zm309 0v1h1v-1zm159 0v1h1v-1zm102 0v2h1v-2zm50 0h2v1h-2zm-619 1v1h1v-1zm179 0v1h1v-1zm130 0v1h1v-1zm157 0v2h1v-2zm152 0v1h1v-1zm-617 1v1h1v-1zm177 0v2h1v-2zm132 0v1h1v-1zm260 0v2h1v-2zm46 0h2v1h-2zm-614 1v1h1v-1zm309 0v1h1v-1zm154 0v1h1v-1zm150 0v1h1v-1zm-612 1v1h1v-1zm174 0v1h1v-1zm135 0h2v1h-2zm152 0v1h1v-1zm107 0v1h1v-1zm43 0v1h1v-1zm-610 1v1h1v-1zm172 0v1h1v-1zm138 0h2v1h-2zm149 0v2h1v-2zm109 0v2h1v-2zm41 0v1h1v-1zm-608 1v1h1v-1zm170 0v2h1v-2zm141 0h2v1h-2zm296 0v1h1v-1zm-606 1v1h1v-1zm312 0v1h1v-1zm144 0v1h1v-1zm111 0h2v1h-2zm38 0v1h1v-1zm-604 1v1h1v-1zm167 0v1h1v-1zm145 0v1h1v-1zm142 0v1h1v-1zm114 0h3v1h-3zm34 0h2v1h-2zm-601 1v1h1v-1zm165 0v1h1v-1zm147 0v1h1v-1zm140 0v2h1v-2zm118 0h3v1h-3zm30 0v1h1v-1zm-599 1v1h1v-1zm163 0v2h1v-2zm149 0v2h1v-2zm260 0h3v1h-3zm26 0v1h1v-1zm-597 1v1h1v-1zm449 0v1h1v-1zm125 0h2v1h-2zm22 0v1h1v-1zm-595 1v1h1v-1zm160 0v1h1v-1zm151 0v1h1v-1zm136 0v1h1v-1zm128 0h2v1h-2zm19 0v1h1v-1zm-593 1v1h1v-1zm158 0v1h1v-1zm153 0v1h1v-1zm134 0v1h1v-1zm131 0v1h1v-1zm16 0v1h1v-1zm-591 1v1h1v-1zm156 0v2h1v-2zm155 0v1h1v-1zm132 0v2h1v-2zm133 0h2v1h-2zm13 0h2v1h-2zm-588 1v1h1v-1zm311 0v1h1v-1zm266 0h2v1h-2zm9 0h2v1h-2zm-585 1v1h1v-1zm153 0v1h1v-1zm158 0v1h1v-1zm129 0v1h1v-1zm138 0v1h1v-1zm6 0v1h1v-1zm-583 1v1h1v-1zm151 0v1h1v-1zm160 0v1h1v-1zm127 0v1h1v-1zm140 0h2v1h-2zm3 0h2v1h-2zm-580 1v1h1v-1zm149 0v2h1v-2zm162 0v1h1v-1zm125 0v1h1v-1zm143 0v1h1v-1zm-578 1h2v1h-2zm311 0v1h1v-1zm123 0v1h1v-1zm-432 1v1h1v-1zm145 0v1h1v-1zm165 0v1h1v-1zm121 0v2h1v-2zm-430 1v1h1v-1zm143 0v2h1v-2zm167 0v1h1v-1zm-309 1v1h1v-1zm310 0v1h1v-1zm118 0v1h1v-1zm-427 1v1h1v-1zm140 0v1h1v-1zm170 0v2h1v-2zm116 0v1h1v-1zm-425 1v1h1v-1zm138 0v2h1v-2zm286 0v1h1v-1zm-423 1h2v1h-2zm309 0v1h1v-1zm113 0v1h1v-1zm-420 1v1h1v-1zm134 0v1h1v-1zm174 0v1h1v-1zm111 0v1h1v-1zm-418 1v1h1v-1zm132 0v2h1v-2zm176 0v1h1v-1zm109 0v1h1v-1zm-416 1v2h1v-2zm308 0v2h1v-2zm107 0v1h1v-1zm-285 1v1h1v-1zm284 0v2h1v-2zm-413 1v2h1v-2zm128 0v2h1v-2zm180 0v1h1v-1zm1 1v1h1v-1zm103 0v1h1v-1zm-411 1v1h1v-1zm126 0v1h1v-1zm183 0v1h1v-1zm101 0v1h1v-1zm-409 1v2h1v-2zm124 0v2h1v-2zm185 0h2v1h-2zm99 0v1h1v-1zm-97 1v1h1v-1zm96 0v1h1v-1zm-406 1v1h1v-1zm122 0v1h1v-1zm189 0v1h1v-1zm94 0v1h1v-1zm-404 1v2h1v-2zm120 0v2h1v-2zm191 0h2v1h-2zm92 0v1h1v-1zm-90 1v1h1v-1zm89 0v1h1v-1zm-401 1v2h1v-2zm118 0v1h1v-1zm195 0v1h1v-1zm87 0v1h1v-1zm-283 1v1h1v-1zm197 0h2v1h-2zm85 0v2h1v-2zm-398 1v1h1v-1zm115 0v2h1v-2zm200 0v1h1v-1zm-314 1v1h1v-1zm315 0h2v1h-2zm81 0v1h1v-1zm-395 1v1h1v-1zm112 0v2h1v-2zm204 0h2v1h-2zm78 0v1h1v-1zm-393 1v1h1v-1zm317 0v1h1v-1zm75 0v1h1v-1zm-391 1v2h1v-2zm109 0v2h1v-2zm208 0h2v1h-2zm73 0v1h1v-1zm-71 1h2v1h-2zm70 0v1h1v-1zm-388 1v1h1v-1zm107 0v2h1v-2zm213 0h2v1h-2zm67 0v1h1v-1zm-386 1v1h1v-1zm321 0h2v1h-2zm64 0v1h1v-1zm-384 1v1h1v-1zm104 0v2h1v-2zm218 0h2v1h-2zm61 0v1h1v-1zm-382 1v1h1v-1zm323 0h2v1h-2zm58 0v1h1v-1zm-380 1v1h1v-1zm101 0v2h1v-2zm223 0h2v1h-2zm55 0v1h1v-1zm-378 1v1h1v-1zm325 0h2v1h-2zm52 0v1h1v-1zm-376 1v1h1v-1zm98 0v2h1v-2zm228 0v1h1v-1zm49 0v1h1v-1zm-374 1v2h1v-2zm326 0v1h1v-1zm47 0v1h1v-1zm-277 1v2h1v-2zm231 0h2v1h-2zm45 0v1h1v-1zm-371 1v1h1v-1zm328 0v1h1v-1zm42 0v1h1v-1zm-369 1v1h1v-1zm93 0v1h1v-1zm235 0v1h1v-1zm40 0v1h1v-1zm-367 1v1h1v-1zm91 0v2h1v-2zm237 0h2v1h-2zm38 0v1h1v-1zm-365 1v1h1v-1zm329 0v1h1v-1zm34 0h2v1h-2zm-362 1v2h1v-2zm88 0v2h1v-2zm241 0v1h1v-1zm32 0v1h1v-1zm-31 1h2v1h-2zm30 0v1h1v-1zm-359 1v1h1v-1zm86 0v2h1v-2zm245 0v1h1v-1zm26 0h2v1h-2zm-356 1v1h1v-1zm331 0v1h1v-1zm24 0v1h1v-1zm-354 1v2h1v-2zm83 0v2h1v-2zm248 0v1h1v-1zm22 0v1h1v-1zm-21 1v1h1v-1zm19 0h2v1h-2zm-350 1v1h1v-1zm81 0v1h1v-1zm251 0v1h1v-1zm17 0v1h1v-1zm-348 1v1h1v-1zm79 0v2h1v-2zm253 0v1h1v-1zm14 0h2v1h-2zm-345 1v2h1v-2zm332 0v1h1v-1zm10 0h3v1h-3zm-265 1v2h1v-2zm256 0v1h1v-1zm6 0h3v1h-3zm-338 1v1h1v-1zm333 0v1h1v-1zm3 0h2v1h-2zm-335 1v2h1v-2zm74 0v2h1v-2zm259 0h2v1h-2zm-332 2v1h1v-1zm72 0v1h1v-1zm-71 1v2h1v-2zm70 0v2h1v-2zm-69 2v1h1v-1zm68 0v1h1v-1zm-67 1v2h1v-2zm66 0v1h1v-1zm-1 1v2h1v-2zm-64 1v1h1v-1zm1 1v2h1v-2zm62 0v1h1v-1zm-1 1v1h1v-1zm-60 1v1h1v-1zm59 0v2h1v-2zm-58 1v1h1v-1zm1 1v2h1v-2zm56 0v1h1v-1zm-1 1v1h1v-1zm-54 1v1h1v-1zm53 0v2h1v-2zm-52 1v1h1v-1zm1 1v2h1v-2zm50 0v1h1v-1zm-1 1v1h1v-1zm-48 1v1h1v-1zm47 0v1h1v-1zm-46 1v1h1v-1zm45 0v1h1v-1zm-44 1v1h1v-1zm42 0h2v1h-2zm-41 1v2h1v-2zm40 0v1h1v-1zm-1 1v1h1v-1zm-38 1v1h1v-1zm37 0v1h1v-1zm-36 1v1h1v-1zm35 0v1h1v-1zm-34 1v1h1v-1zm32 0h2v1h-2zm-31 1v1h1v-1zm29 0h2v1h-2zm-28 1v1h1v-1zm25 0h3v1h-3zm-24 1v2h1v-2zm22 0h2v1h-2zm-2 1h2v1h-2zm-19 1v1h1v-1zm16 0h3v1h-3zm-15 1v1h1v-1zm13 0h2v1h-2zm-12 1h4v1h-4zm10 0h2v1h-2zm-6 1h6v1h-6z" fill="#ff0000"/>
<path d="M63 89v1h1v-1zm-2 1h2v1h-2zm3 0v1h1v-1zm-4 1v1h1v-1zm5 0v1h1v-1zm-6 1v1h1v-1zm7 0h10v1h-10zm-9 1h2v1h-2zm19 0v2h1v-2zm-20 1v2h1v-2zm21 1v2h1v-2zm-22 1v3h1v-3zm23 1v3h1v-3zm-24 2v2h1v-2zm25 1v3h1v-3zm-26 1v3h1v-3zm27 2v2h1v-2zm-28 1v2h1v-2zm29 1v3h1v-3zm-30 1v2h1v-2zm-1 2v1h1v-1zm32 0v2h1v-2zm-33 1v1h1v-1zm-1 1v2h1v-2zm35 0v2h1v-2zm-36 2v1h1v-1zm37 0v1h1v-1zm-38 1v1h1v-1zm39 0v2h1v-2zm-40 1v1h1v-1zm-1 1v1h1v-1zm42 0v2h1v-2zm1 2v2h1v-2zm1 2v2h1v-2zm1 2v2h1v-2zm6 0h4v1h-4zm-5 1h5v1h-5zm9 0h2v1h-2zm2 1h2v1h-2zm2 1v2h1v-2zm9 0h3v1h-3zm-3 1h3v1h-3zm6 0h9v1h-9zm-11 1h5v1h-5zm20 0h8v1h-8zm8 1v1h1v-1zm1 1v1h1v-1zm1 1h2v1h-2zm2 1v1h1v-1zm1 1v1h1v-1zm1 1v1h1v-1zm1 1v1h1v-1zm1 1v1h1v-1zm1 1h2v1h-2zm2 1v1h1v-1zm1 1v1h1v-1zm1 1v1h1v-1zm1 1v1h1v-1zm1 1v2h1v-2zm1 2v1h1v-1zm1 1v1h1v-1zm1 1v1h1v-1zm1 1v2h1v-2zm1 2v1h1v-1zm74 0v1h1v-1zm-73 1v1h1v-1zm72 0v2h1v-2zm2 0v1h1v-1zm-73 1v1h1v-1zm74 0h2v1h-2zm-73 1v1h1v-1zm69 0v2h1v-2zm6 0v2h1v-2zm-74 1v1h1v-1zm1 1h2v1h-2zm25 0h4v1h-4zm41 0v1h1v-1zm8 0v3h1v-3zm-72 1v1h1v-1zm18 0h5v1h-5zm9 0v1h1v-1zm36 0v2h1v-2zm-62 1v1h1v-1zm15 0h2v1h-2zm12 0v1h1v-1zm-26 1v1h1v-1zm12 0h2v1h-2zm15 0v1h1v-1zm33 0v2h1v-2zm11 0v4h1v-4zm-70 1h4v1h-4zm9 0h2v1h-2zm18 0v2h1v-2zm-23 1h5v1h-5zm54 0v2h1v-2zm-30 1v1h1v-1zm1 1v1h1v-1zm28 0v2h1v-2zm14 0v3h1v-3zm-41 1v1h1v-1zm1 1v2h1v-2zm25 0v2h1v-2zm16 1v4h1v-4zm-40 1v1h1v-1zm23 0v2h1v-2zm-22 1v2h1v-2zm21 1v2h1v-2zm-20 1v2h1v-2zm39 0v4h1v-4zm-20 1v1h1v-1zm-18 1v1h1v-1zm17 0v1h1v-1zm-16 1v1h1v-1zm15 0v1h1v-1zm-14 1v1h1v-1zm13 0v1h1v-1zm24 0v4h1v-4zm-36 1v2h1v-2zm11 0v1h1v-1zm-1 1v1h1v-1zm-9 1v1h1v-1zm5 0h4v1h-4zm-4 1h4v1h-4zm35 0v4h1v-4zm1 4v4h1v-4zm1 4v4h1v-4zm1 4v4h1v-4zm1 4v4h1v-4zm1 4v4h1v-4zm937 1v1h1v-1zm-2 1h2v1h-2zm-1 1v1h1v-1zm-933 1v4h1v-4zm932 0v1h1v-1zm-1 1v1h1v-1zm-1 1v2h1v-2zm-929 2v4h1v-4zm928 0v2h1v-2zm-1 2v3h1v-3zm-926 2v4h1v-4zm925 1v3h1v-3zm-924 3v4h1v-4zm923 0v2h1v-2zm-1 2v3h1v-3zm-921 2v4h1v-4zm920 1v2h1v-2zm-1 2v2h1v-2zm-918 1v6h1v-6zm917 1v1h1v-1zm-1 1v1h1v-1zm-1 1v1h1v-1zm-1 1v2h1v-2zm-913 2v6h1v-6zm912 0v1h1v-1zm-1 1v1h1v-1zm-1 1v2h1v-2zm-1 2v2h1v-2zm-908 2v7h1v-7zm907 0v2h1v-2zm-1 2v2h1v-2zm-1 2v1h1v-1zm-1 1v2h1v-2zm-903 2v6h1v-6zm902 0v1h1v-1zm-1 1v1h1v-1zm-1 1v2h1v-2zm-1 2v1h1v-1zm-2 1h2v1h-2zm-896 1v4h1v-4zm894 0h2v1h-2zm-1 1v1h1v-1zm-2 1h2v1h-2zm-1 1v1h1v-1zm-889 1v4h1v-4zm887 0h2v1h-2zm-12 1h12v1h-12zm-3 1h3v1h-3zm-2 1h2v1h-2zm-869 1v4h1v-4zm868 0v1h1v-1zm-2 1h2v1h-2zm-3 1h3v1h-3zm-3 1h3v1h-3zm-859 1v3h1v-3zm859 0v1h1v-1zm-1 1v3h1v-3zm-857 2v1h1v-1zm1 1v1h1v-1zm855 0v5h1v-5zm-854 1v1h1v-1zm1 1v1h1v-1zm1 1v1h1v-1zm1 1v1h1v-1zm1 1v1h1v-1zm849 0v6h1v-6zm-848 1v2h1v-2zm1 2v2h1v-2zm1 2v2h1v-2zm845 1v7h1v-7zm-844 1v2h1v-2zm1 2v2h1v-2zm1 2v2h1v-2zm1 2v2h1v-2zm840 0v6h1v-6zm-839 2v2h1v-2zm1 2v2h1v-2zm1 2v1h1v-1zm836 0v7h1v-7zm-835 1v2h1v-2zm1 2v2h1v-2zm1 2v1h1v-1zm1 1v1h1v-1zm1 1v1h1v-1zm830 0v7h1v-7zm-829 1v1h1v-1zm1 1v1h1v-1zm1 1v2h1v-2zm1 2v2h1v-2zm1 2v2h1v-2zm824 0v6h1v-6zm-823 2v3h1v-3zm1 3v2h1v-2zm821 1v5h1v-5zm-820 1v2h1v-2zm1 2v2h1v-2zm1 2v2h1v-2zm817 0v4h1v-4zm-816 2v1h1v-1zm1 1v2h1v-2zm814 1v4h1v-4zm-813 1v2h1v-2zm1 2v1h1v-1zm1 1v2h1v-2zm810 0v5h1v-5zm-809 2v1h1v-1zm1 1v2h1v-2zm1 2v2h1v-2zm806 0v5h1v-5zm-805 2v2h1v-2zm1 2v3h1v-3zm803 1v4h1v-4zm-802 2v4h1v-4zm748 2h8v1h-8zm53 0v5h1v-5zm-53 1v1h1v-1zm8 0h3v1h-3zm-755 1v3h1v-3zm746 0v4h1v-4zm12 0h3v1h-3zm3 1h3v1h-3zm3 1h2v1h-2zm-763 1v3h1v-3zm764 0v1h1v-1zm34 0v4h1v-4zm-520 1v1h1v-1zm466 0v3h1v-3zm21 0v3h1v-3zm-488 1v1h1v-1zm2 0v2h1v-2zm-278 1v2h1v-2zm275 0v1h1v-1zm-1 1v1h1v-1zm5 0v2h1v-2zm463 0v2h1v-2zm23 0v3h1v-3zm31 0v4h1v-4zm-795 1v2h1v-2zm272 0v1h1v-1zm-1 1v2h1v-2zm8 0v2h1v-2zm461 0v2h1v-2zm-739 1v2h1v-2zm764 0v3h1v-3zm-495 1v1h1v-1zm10 0v2h1v-2zm298 0h5v1h-5zm161 0v1h1v-1zm55 0v4h1v-4zm-792 1v3h1v-3zm267 0v1h1v-1zm305 0h4v1h-4zm9 0h5v1h-5zm155 0v1h1v-1zm-470 1v1h1v-1zm13 0v1h1v-1zm290 0h3v1h-3zm17 0h4v1h-4zm149 0v2h1v-2zm29 0v3h1v-3zm-499 1v1h1v-1zm15 0v2h1v-2zm287 0h2v1h-2zm23 0h21v1h-21zm-589 1v3h1v-3zm263 0v2h1v-2zm301 0h2v1h-2zm46 0v1h1v-1zm123 0v2h1v-2zm57 0v4h1v-4zm-510 1v2h1v-2zm282 0h2v1h-2zm49 0v1h1v-1zm153 0v3h1v-3zm-502 1v2h1v-2zm299 0v2h1v-2zm51 0v1h1v-1zm120 0v3h1v-3zm-731 1v4h1v-4zm280 0v2h1v-2zm332 0v2h1v-2zm-352 1v3h1v-3zm299 0v3h1v-3zm205 0v2h1v-2zm24 0v5h1v-5zm-507 1v2h1v-2zm332 0v1h1v-1zm117 0v3h1v-3zm-116 1v1h1v-1zm151 0v2h1v-2zm-764 1v3h1v-3zm258 0v2h1v-2zm23 0v2h1v-2zm276 0v2h1v-2zm57 0v1h1v-1zm-299 1h4v1h-4zm300 0v2h1v-2zm113 0v3h1v-3zm37 0v3h1v-3zm-508 1v3h1v-3zm25 0v2h1v-2zm31 0h2v1h-2zm6 0h4v1h-4zm37 0v2h1v-2zm200 0v3h1v-3zm230 0v4h1v-4zm-785 1v3h1v-3zm310 0h2v1h-2zm12 0v2h1v-2zm34 0h2v1h-2zm259 0v2h1v-2zm-333 1v1h1v-1zm27 0v1h1v-1zm45 0v2h1v-2zm4 0v2h1v-2zm368 0v3h1v-3zm39 0v2h1v-2zm-510 1v2h1v-2zm28 0v1h1v-1zm25 0v1h1v-1zm15 0v2h1v-2zm231 0v3h1v-3zm62 0v2h1v-2zm-615 1v4h1v-4zm283 0v2h1v-2zm23 0v1h1v-1zm46 0v2h1v-2zm6 0v2h1v-2zm407 0v2h1v-2zm18 0v5h1v-5zm-530 1v4h1v-4zm52 0v1h1v-1zm18 0v2h1v-2zm293 0v2h1v-2zm108 0v2h1v-2zm-440 1v1h1v-1zm20 0v1h1v-1zm47 0v2h1v-2zm8 0v3h1v-3zm193 0v2h1v-2zm214 0v2h1v-2zm-481 1v1h1v-1zm18 0v1h1v-1zm21 0v2h1v-2zm293 0v2h1v-2zm106 0v2h1v-2zm-722 1v3h1v-3zm285 0v2h1v-2zm16 0v1h1v-1zm48 0v1h1v-1zm201 0v3h1v-3zm216 0v2h1v-2zm-515 1v5h1v-5zm49 0v1h1v-1zm24 0v2h1v-2zm24 0v2h1v-2zm11 0v2h1v-2zm258 0v2h1v-2zm104 0v2h1v-2zm60 0v4h1v-4zm-495 1v1h1v-1zm13 0v1h1v-1zm468 0v2h1v-2zm-766 1v4h1v-4zm286 0v1h1v-1zm11 0v1h1v-1zm27 0v2h1v-2zm22 0v1h1v-1zm13 0v2h1v-2zm189 0v2h1v-2zm69 0v2h1v-2zm102 0v2h1v-2zm-432 1v1h1v-1zm9 0v1h1v-1zm45 0h5v1h-5zm426 0v1h1v-1zm-479 1v1h1v-1zm7 0v1h1v-1zm30 0v1h1v-1zm10 0h6v1h-6zm25 0v2h1v-2zm187 0v2h1v-2zm71 0v3h1v-3zm100 0v2h1v-2zm50 0v2h1v-2zm11 0v5h1v-5zm-530 1v5h1v-5zm40 0h2v1h-2zm5 0v1h1v-1zm32 0v2h1v-2zm7 0h2v1h-2zm-332 1v4h1v-4zm290 0v1h1v-1zm2 0v1h1v-1zm37 0h3v1h-3zm31 0v2h1v-2zm185 0v2h1v-2zm171 0v1h1v-1zm52 0v2h1v-2zm-477 1v1h1v-1zm35 0h3v1h-3zm292 0v2h1v-2zm97 0v2h1v-2zm-354 1v2h1v-2zm183 0v2h1v-2zm225 0v1h1v-1zm-150 1v2h1v-2zm95 0v2h1v-2zm56 0v2h1v-2zm7 0v4h1v-4zm-776 1v4h1v-4zm246 0v5h1v-5zm115 0v2h1v-2zm181 0v2h1v-2zm77 1v3h1v-3zm93 0v2h1v-2zm58 0v1h1v-1zm-408 1v2h1v-2zm179 0v3h1v-3zm230 0v1h1v-1zm-60 1v2h1v-2zm61 0v2h1v-2zm3 0v3h1v-3zm-774 1v2h1v-2zm65 0h3v1h-3zm9 0h5v1h-5zm288 0v1h1v-1zm257 0v2h1v-2zm-555 1v1h1v-1zm4 0h6v1h-6zm11 0h4v1h-4zm165 0v6h1v-6zm119 0v2h1v-2zm176 0v3h1v-3zm170 0v2h1v-2zm63 0h2v1h-2zm-771 1v2h1v-2zm62 0v1h1v-1zm20 0h3v1h-3zm537 0v3h1v-3zm-558 1v2h1v-2zm24 0h2v1h-2zm278 0v2h1v-2zm344 0v4h1v-4zm-706 1v2h1v-2zm86 0h2v1h-2zm450 0v2h1v-2zm-477 1v1h1v-1zm29 0h2v1h-2zm275 0v2h1v-2zm256 0v2h1v-2zm-618 1v2h1v-2zm57 0v1h1v-1zm31 0v1h1v-1zm446 0v3h1v-3zm-478 1v1h1v-1zm33 0v2h1v-2zm151 0v5h1v-5zm123 0v2h1v-2zm256 0v3h1v-3zm85 0v3h1v-3zm-703 1v2h1v-2zm54 0v1h1v-1zm-1 1v1h1v-1zm36 0v2h1v-2zm274 0v2h1v-2zm169 0v3h1v-3zm-531 1v2h1v-2zm50 0h2v1h-2zm568 0v2h1v-2zm83 0v4h1v-4zm-652 1v1h1v-1zm40 0v2h1v-2zm274 0v2h1v-2zm-362 1v2h1v-2zm40 0h8v1h-8zm196 0v6h1v-6zm293 0v3h1v-3zm89 0v2h1v-2zm-595 1v1h1v-1zm15 0h2v1h-2zm51 0v3h1v-3zm274 0v3h1v-3zm-362 1v1h1v-1zm21 0v1h1v-1zm2 0h2v1h-2zm12 0h2v1h-2zm583 0v2h1v-2zm80 0v4h1v-4zm-697 1v2h1v-2zm19 0v1h1v-1zm5 0h2v1h-2zm8 0h2v1h-2zm494 0v3h1v-3zm-508 1v1h1v-1zm8 0h2v1h-2zm4 0h2v1h-2zm58 0v4h1v-4zm274 0v2h1v-2zm256 0v2h1v-2zm-617 1v2h1v-2zm16 0v1h1v-1zm11 0h2v1h-2zm-12 1v1h1v-1zm217 0v5h1v-5zm130 0v2h1v-2zm162 0v3h1v-3zm94 0v2h1v-2zm77 0v3h1v-3zm-694 1h2v1h-2zm13 0v1h1v-1zm-11 1h2v1h-2zm9 0h2v1h-2zm76 0v3h1v-3zm275 0v2h1v-2zm256 0v2h1v-2zm-614 1h3v1h-3zm5 0h2v1h-2zm513 0v4h1v-4zm171 0v4h1v-4zm-686 1h2v1h-2zm356 0v2h1v-2zm256 0v2h1v-2zm-531 1v4h1v-4zm142 0v4h1v-4zm134 1v2h1v-2zm256 0v1h1v-1zm-99 1v4h1v-4zm100 0h2v1h-2zm71 0v4h1v-4zm-327 1v2h1v-2zm258 0v1h1v-1zm-534 1v8h1v-8zm140 0v4h1v-4zm395 0h2v1h-2zm-258 1v2h1v-2zm260 0v2h1v-2zm-106 1v5h1v-5zm171 0v4h1v-4zm-324 1h2v1h-2zm260 0v2h1v-2zm-399 1v4h1v-4zm141 0h2v1h-2zm2 1h3v1h-3zm15 0h2v1h-2zm242 0v2h1v-2zm-254 1h4v1h-4zm8 0h4v1h-4zm6 0v1h1v-1zm302 0v4h1v-4zm-312 1h4v1h-4zm11 0h2v1h-2zm130 0v5h1v-5zm110 0v2h1v-2zm-539 1v9h1v-9zm137 0v3h1v-3zm164 0v2h1v-2zm239 1v2h1v-2zm-238 1v2h1v-2zm297 0v4h1v-4zm-463 1v3h1v-3zm405 0v2h1v-2zm-238 1v2h1v-2zm125 0v4h1v-4zm114 1v2h1v-2zm-407 1v3h1v-3zm169 0v3h1v-3zm294 0v4h1v-4zm-55 1v1h1v-1zm-116 1v5h1v-5zm117 0v2h1v-2zm-543 1v6h1v-6zm133 0v4h1v-4zm171 0v2h1v-2zm240 1v1h1v-1zm52 0v4h1v-4zm-291 1v3h1v-3zm240 0v2h1v-2zm-413 2v6h1v-6zm293 0v5h1v-5zm121 0v1h1v-1zm-240 1v2h1v-2zm241 0v2h1v-2zm48 0v4h1v-4zm-594 1v6h1v-6zm306 1v2h1v-2zm241 0v1h1v-1zm1 1v1h1v-1zm-241 1v3h1v-3zm116 0v5h1v-5zm126 0v1h1v-1zm44 0v2h1v-2zm-463 1v6h1v-6zm420 0v1h1v-1zm1 1v1h1v-1zm41 0v2h1v-2zm-591 1v5h1v-5zm307 0v2h1v-2zm244 0v1h1v-1zm1 1v1h1v-1zm38 0v2h1v-2zm-282 1v2h1v-2zm113 0v4h1v-4zm132 0v1h1v-1zm1 1v1h1v-1zm35 0v3h1v-3zm-461 1v5h1v-5zm181 0v2h1v-2zm246 0v1h1v-1zm-554 1v2h1v-2zm555 0v1h1v-1zm-246 1v2h1v-2zm110 0v5h1v-5zm137 0v1h1v-1zm31 0v3h1v-3zm-586 1v2h1v-2zm556 0v1h1v-1zm-247 1v2h1v-2zm248 0v1h1v-1zm-556 1v4h1v-4zm124 0v4h1v-4zm433 0v1h1v-1zm27 0v2h1v-2zm-275 1v2h1v-2zm249 0h2v1h-2zm-142 1v4h1v-4zm144 0h2v1h-2zm23 0v3h1v-3zm-273 1v2h1v-2zm252 0h2v1h-2zm-561 1v4h1v-4zm122 0v4h1v-4zm441 0h2v1h-2zm-253 1v2h1v-2zm255 0h2v1h-2zm16 0v2h1v-2zm-167 1v4h1v-4zm153 0v1h1v-1zm-256 1v2h1v-2zm257 0h2v1h-2zm12 0v2h1v-2zm-579 1v4h1v-4zm120 0v5h1v-5zm449 0v1h1v-1zm-258 1v3h1v-3zm259 0v1h1v-1zm8 0v2h1v-2zm-166 1v4h1v-4zm159 0h2v1h-2zm2 1h2v1h-2zm4 0v2h1v-2zm-576 1v5h1v-5zm311 0v3h1v-3zm263 0h2v1h-2zm-456 1v4h1v-4zm292 1v3h1v-3zm-98 1v3h1v-3zm-311 2v4h1v-4zm116 0v4h1v-4zm292 0v4h1v-4zm-96 1v4h1v-4zm-311 3v4h1v-4zm114 0v4h1v-4zm292 0v3h1v-3zm-94 1v3h1v-3zm8 0h14v1h-14zm-2 1h2v1h-2zm16 0h4v1h-4zm-18 1h2v1h-2zm22 0h4v1h-4zm31 0h6v1h-6zm36 0v4h1v-4zm-404 1v4h1v-4zm112 0v4h1v-4zm200 0h3v1h-3zm29 0h2v1h-2zm20 0h7v1h-7zm13 0h2v1h-2zm-62 1v1h1v-1zm31 0h2v1h-2zm14 0h4v1h-4zm19 0v1h1v-1zm-31 1h12v1h-12zm32 0v2h1v-2zm26 1v4h1v-4zm-402 1v4h1v-4zm110 0v2h1v-2zm267 0v1h1v-1zm1 1v1h1v-1zm-269 1v2h1v-2zm270 0v1h1v-1zm1 1v2h1v-2zm21 0v2h1v-2zm-400 1v4h1v-4zm107 0v2h1v-2zm273 1v1h1v-1zm19 0v2h1v-2zm-293 1v2h1v-2zm275 0v1h1v-1zm1 1v1h1v-1zm16 0v1h1v-1zm-397 1v4h1v-4zm104 0v2h1v-2zm278 0v1h1v-1zm14 0v1h1v-1zm-13 1v2h1v-2zm12 0v2h1v-2zm-292 1v2h1v-2zm281 1v1h1v-1zm10 0v1h1v-1zm-393 1v5h1v-5zm101 0v1h1v-1zm283 0v1h1v-1zm8 0v2h1v-2zm-292 1v2h1v-2zm285 0v1h1v-1zm1 1v1h1v-1zm5 0v2h1v-2zm-292 1v2h1v-2zm288 0v2h1v-2zm3 1v2h1v-2zm-389 1v6h1v-6zm97 0v2h1v-2zm290 0v1h1v-1zm1 1v1h1v-1zm-292 1v2h1v-2zm-1 2v1h1v-1zm-1 1v2h1v-2zm-93 1v3h1v-3zm92 1v2h1v-2zm-91 2v1h1v-1zm9 0h13v1h-13zm81 0v2h1v-2zm-89 1h2v1h-2zm6 0h2v1h-2zm15 0v2h1v-2zm-19 1v1h1v-1zm2 0h2v1h-2zm84 0v2h1v-2zm-85 1v1h1v-1zm19 0v2h1v-2zm1 1v1h1v-1zm64 0v2h1v-2zm-63 1h2v1h-2zm2 1h3v1h-3zm60 0v3h1v-3zm-57 1h3v1h-3zm3 1h2v1h-2zm2 1h3v1h-3zm51 0v2h1v-2zm-48 1h5v1h-5zm5 1h12v1h-12zm42 0v2h1v-2zm-30 1v1h1v-1zm1 1v2h1v-2zm28 0v2h1v-2zm-27 2v1h1v-1zm26 0v1h1v-1zm-25 1v1h1v-1zm24 0v2h1v-2zm-23 1v1h1v-1zm1 1v1h1v-1zm21 0v1h1v-1zm-20 1v1h1v-1zm19 0v1h1v-1zm-18 1v1h1v-1zm16 0h2v1h-2zm-15 1v1h1v-1zm13 0h2v1h-2zm-12 1h5v1h-5zm10 0h2v1h-2zm-5 1h5v1h-5z" fill="#0000ff"/>
<path d="M47 109h3v1h-3zm6 0h3v1h-3zm6 0h3v1h-3zm6 0h3v1h-3zm6 0h3v1h-3zm6 0h3v1h-3zm6 0h3v1h-3zm6 0h3v1h-3zm6 0h3v1h-3zm6 0h3v1h-3zm6 0h3v1h-3zm6 0h3v1h-3zm6 0h3v1h-3zm6 0h3v1h-3zm6 0h3v1h-3zm6 0h3v1h-3zm6 0h3v1h-3zm6 0h3v1h-3zm6 0h3v1h-3zm6 0h3v1h-3zm6 0h3v1h-3zm6 0h3v1h-3zm6 0h3v1h-3zm6 0h3v1h-3zm6 0h3v1h-3zm6 0h3v1h-3zm6 0h3v1h-3zm6 0h3v1h-3zm6 0h3v1h-3zm6 0h3v1h-3zm6 0h3v1h-3zm6 0h3v1h-3zm6 0h3v1h-3zm6 0h3v1h-3zm6 0h3v1h-3zm6 0h3v1h-3zm6 0h3v1h-3zm6 0h3v1h-3zm6 0h3v1h-3zm6 0h3v1h-3zm6 0h3v1h-3zm6 0h3v1h-3zm6 0h3v1h-3zm6 0h3v1h-3zm6 0h3v1h-3zm6 0h3v1h-3zm6 0h3v1h-3zm6 0h3v1h-3zm6 0h3v1h-3zm6 0h3v1h-3zm6 0h3v1h-3zm6 0h3v1h-3zm6 0h3v1h-3zm6 0h3v1h-3zm6 0h3v1h-3zm6 0h3v1h-3zm6 0h3v1h-3zm6 0h3v1h-3zm6 0h3v1h-3zm6 0h3v1h-3zm6 0h3v1h-3zm6 0h3v1h-3zm6 0h3v1h-3zm6 0h3v1h-3zm6 0h3v1h-3zm6 0h3v1h-3zm6 0h3v1h-3zm6 0h3v1h-3zm6 0h3v1h-3zm6 0h3v1h-3zm6 0h3v1h-3zm6 0h3v1h-3zm6 0h3v1h-3zm6 0h3v1h-3zm6 0h3v1h-3zm6 0h3v1h-3zm6 0h3v1h-3zm6 0h3v1h-3zm6 0h3v1h-3zm6 0h3v1h-3zm6 0h3v1h-3zm6 0h3v1h-3zm6 0h3v1h-3zm6 0h3v1h-3zm6 0h3v1h-3zm6 0h3v1h-3zm6 0h3v1h-3zm6 0h3v1h-3zm6 0h3v1h-3zm6 0h3v1h-3zm6 0h3v1h-3zm6 0h3v1h-3zm6 0h3v1h-3zm6 0h3v1h-3zm6 0h3v1h-3zm6 0h3v1h-3zm6 0h3v1h-3zm6 0h3v1h-3zm6 0h3v1h-3zm6 0h3v1h-3zm6 0h3v1h-3zm6 0h3v1h-3zm6 0h3v1h-3zm6 0h3v1h-3zm6 0h3v1h-3zm6 0h3v1h-3zm6 0h3v1h-3zm6 0h3v1h-3zm6 0h3v1h-3zm6 0h3v1h-3zm6 0h3v1h-3zm6 0h3v1h-3zm6 0h3v1h-3zm6 0h3v1h-3zm6 0h3v1h-3zm6 0h3v1h-3zm6 0h3v1h-3zm6 0h3v1h-3zm6 0h3v1h-3zm6 0h3v1h-3zm6 0h3v1h-3zm6 0h3v1h-3zm6 0h3v1h-3zm6 0h3v1h-3zm6 0h3v1h-3zm6 0h3v1h-3zm6 0h3v1h-3zm6 0h3v1h-3zm6 0h3v1h-3zm6 0h3v1h-3zm6 0h3v1h-3zm6 0h3v1h-3zm6 0h3v1h-3zm6 0h3v1h-3zm6 0h3v1h-3zm6 0h3v1h-3zm6 0h3v1h-3zm6 0h3v1h-3zm6 0h3v1h-3zm6 0h3v1h-3zm6 0h3v1h-3zm6 0h3v1h-3zm6 0h3v1h-3zm6 0h3v1h-3zm6 0h3v1h-3zm6 0h3v1h-3zm6 0h3v1h-3zm6 0h3v1h-3zm6 0h3v1h-3zm6 0h3v1h-3zm6 0h3v1h-3zm6 0h3v1h-3zm6 0h3v1h-3zm6 0h3v1h-3zm6 0h3v1h-3zm6 0h3v1h-3zm6 0h3v1h-3zm6 0h3v1h-3zm6 0h3v1h-3zm6 0h3v1h-3zm6 0h3v1h-3zm6 0h3v1h-3zm6 0h3v1h-3zm6 0h3v1h-3zm6 0h3v1h-3zm6 0h3v1h-3zm6 0h3v1h-3zm6 0h3v1h-3zm6 0h3v1h-3zm6 0h3v1h-3zm6 0h3v1h-3zm6 0h3v1h-3zm6 0h3v1h-3zm6 0h3v1h-3zm6 0h3v1h-3zm6 0h3v1h-3zm6 0h3v1h-3zm6 0h3v1h-3zm6 0h3v1h-3zm6 0h3v1h-3zm6 0h3v1h-3zm6 0h3v1h-3zm6 0h3v1h-3zm6 0h3v1h-3zm6 0h3v1h-3zm6 0h3v1h-3zm6 0h3v1h-3zm6 0h3v1h-3zm6 0h3v1h-3zm6 0h3v1h-3zm6 0h3v1h-3zm6 0h3v1h-3zm6 0h3v1h-3zm6 0h1v1h-1z" fill="#ff00ff"/>
<path d="M44 166h1162v1h-1162zm0 137h1162v1h-1162zm0 191h1162v2h-1162z" fill="#0000ff"/>
<path d="M44 302h1162v1h-1162zm0 2h1162v1h-1162z" fill="#ff0000"/>
<path d="M44 447h1162v1h-1162z" fill="#ff00ff"/>
<path d="M47 565h3v1h-3zm6 0h3v1h-3zm6 0h3v1h-3zm6 0h3v1h-3zm6 0h3v1h-3zm6 0h3v1h-3zm6 0h3v1h-3zm6 0h3v1h-3zm6 0h3v1h-3zm6 0h3v1h-3zm6 0h3v1h-3zm6 0h3v1h-3zm6 0h3v1h-3zm6 0h3v1h-3zm6 0h3v1h-3zm6 0h3v1h-3zm6 0h3v1h-3zm6 0h3v1h-3zm6 0h3v1h-3zm6 0h3v1h-3zm6 0h3v1h-3zm6 0h3v1h-3zm6 0h3v1h-3zm6 0h3v1h-3zm6 0h3v1h-3zm6 0h3v1h-3zm6 0h3v1h-3zm6 0h3v1h-3zm6 0h3v1h-3zm6 0h3v1h-3zm6 0h3v1h-3zm6 0h3v1h-3zm6 0h3v1h-3zm6 0h3v1h-3zm6 0h3v1h-3zm6 0h3v1h-3zm6 0h3v1h-3zm6 0h3v1h-3zm6 0h3v1h-3zm6 0h3v1h-3zm6 0h3v1h-3zm6 0h3v1h-3zm6 0h3v1h-3zm6 0h3v1h-3zm6 0h3v1h-3zm6 0h3v1h-3zm6 0h3v1h-3zm6 0h3v1h-3zm6 0h3v1h-3zm6 0h3v1h-3zm6 0h3v1h-3zm6 0h3v1h-3zm6 0h3v1h-3zm6 0h3v1h-3zm6 0h3v1h-3zm6 0h3v1h-3zm6 0h3v1h-3zm6 0h3v1h-3zm6 0h3v1h-3zm6 0h3v1h-3zm6 0h3v1h-3zm6 0h3v1h-3zm6 0h3v1h-3zm6 0h3v1h-3zm6 0h3v1h-3zm6 0h3v1h-3zm6 0h3v1h-3zm6 0h3v1h-3zm6 0h3v1h-3zm6 0h3v1h-3zm6 0h3v1h-3zm6 0h3v1h-3zm6 0h3v1h-3zm6 0h3v1h-3zm6 0h3v1h-3zm6 0h3v1h-3zm6 0h3v1h-3zm6 0h3v1h-3zm6 0h3v1h-3zm6 0h3v1h-3zm6 0h3v1h-3zm6 0h3v1h-3zm6 0h3v1h-3zm6 0h3v1h-3zm6 0h3v1h-3zm6 0h3v1h-3zm6 0h3v1h-3zm6 0h3v1h-3zm6 0h3v1h-3zm6 0h3v1h-3zm6 0h3v1h-3zm6 0h3v1h-3zm6 0h3v1h-3zm6 0h3v1h-3zm6 0h3v1h-3zm6 0h3v1h-3zm6 0h3v1h-3zm6 0h3v1h-3zm6 0h3v1h-3zm6 0h3v1h-3zm6 0h3v1h-3zm6 0h3v1h-3zm6 0h3v1h-3zm6 0h3v1h-3zm6 0h3v1h-3zm6 0h3v1h-3zm6 0h3v1h-3zm6 0h3v1h-3zm6 0h3v1h-3zm6 0h3v1h-3zm6 0h3v1h-3zm6 0h3v1h-3zm6 0h3v1h-3zm6 0h3v1h-3zm6 0h3v1h-3zm6 0h3v1h-3zm6 0h3v1h-3zm6 0h3v1h-3zm6 0h3v1h-3zm6 0h3v1h-3zm6 0h3v1h-3zm6 0h3v1h-3zm6 0h3v1h-3zm6 0h3v1h-3zm6 0h3v1h-3zm6 0h3v1h-3zm6 0h3v1h-3zm6 0h3v1h-3zm6 0h3v1h-3zm6 0h3v1h-3zm6 0h3v1h-3zm6 0h3v1h-3zm6 0h3v1h-3zm6 0h3v1h-3zm6 0h3v1h-3zm6 0h3v1h-3zm6 0h3v1h-3zm6 0h3v1h-3zm6 0h3v1h-3zm6 0h3v1h-3zm6 0h3v1h-3zm6 0h3v1h-3zm6 0h3v1h-3zm6 0h3v1h-3zm6 0h3v1h-3zm6 0h3v1h-3zm6 0h3v1h-3zm6 0h3v1h-3zm6 0h3v1h-3zm6 0h3v1h-3zm6 0h3v1h-3zm6 0h3v1h-3zm6 0h3v1h-3zm6 0h3v1h-3zm6 0h3v1h-3zm6 0h3v1h-3zm6 0h3v1h-3zm6 0h3v1h-3zm6 0h3v1h-3zm6 0h3v1h-3zm6 0h3v1h-3zm6 0h3v1h-3zm6 0h3v1h-3zm6 0h3v1h-3zm6 0h3v1h-3zm6 0h3v1h-3zm6 0h3v1h-3zm6 0h3v1h-3zm6 0h3v1h-3zm6 0h3v1h-3zm6 0h3v1h-3zm6 0h3v1h-3zm6 0h3v1h-3zm6 0h3v1h-3zm6 0h3v1h-3zm6 0h3v1h-3zm6 0h3v1h-3zm6 0h3v1h-3zm6 0h3v1h-3zm6 0h3v1h-3zm6 0h3v1h-3zm6 0h3v1h-3zm6 0h3v1h-3zm6 0h3v1h-3zm6 0h3v1h-3zm6 0h3v1h-3zm6 0h3v1h-3zm6 0h3v1h-3zm6 0h3v1h-3zm6 0h3v1h-3zm6 0h3v1h-3zm6 0h3v1h-3zm6 0h3v1h-3zm6 0h1v1h-1z" fill="#ff00ff"/>
<path d="M44 567h3v1h-3zm6 0h3v1h-3zm6 0h3v1h-3zm6 0h3v1h-3zm6 0h3v1h-3zm6 0h3v1h-3zm6 0h3v1h-3zm6 0h3v1h-3zm6 0h3v1h-3zm6 0h3v1h-3zm6 0h3v1h-3zm6 0h3v1h-3zm6 0h3v1h-3zm6 0h3v1h-3zm6 0h3v1h-3zm6 0h3v1h-3zm6 0h3v1h-3zm6 0h3v1h-3zm6 0h3v1h-3zm6 0h3v1h-3zm6 0h3v1h-3zm6 0h3v1h-3zm6 0h3v1h-3zm6 0h3v1h-3zm6 0h3v1h-3zm6 0h3v1h-3zm6 0h3v1h-3zm6 0h3v1h-3zm6 0h3v1h-3zm6 0h3v1h-3zm6 0h3v1h-3zm6 0h3v1h-3zm6 0h3v1h-3zm6 0h3v1h-3zm6 0h3v1h-3zm6 0h3v1h-3zm6 0h3v1h-3zm6 0h3v1h-3zm6 0h3v1h-3zm6 0h3v1h-3zm6 0h3v1h-3zm6 0h3v1h-3zm6 0h3v1h-3zm6 0h3v1h-3zm6 0h3v1h-3zm6 0h3v1h-3zm6 0h3v1h-3zm6 0h3v1h-3zm6 0h3v1h-3zm6 0h3v1h-3zm6 0h3v1h-3zm6 0h3v1h-3zm6 0h3v1h-3zm6 0h3v1h-3zm6 0h3v1h-3zm6 0h3v1h-3zm6 0h3v1h-3zm6 0h3v1h-3zm6 0h3v1h-3zm6 0h3v1h-3zm6 0h3v1h-3zm6 0h3v1h-3zm6 0h3v1h-3zm6 0h3v1h-3zm6 0h3v1h-3zm6 0h3v1h-3zm6 0h3v1h-3zm6 0h3v1h-3zm6 0h3v1h-3zm6 0h3v1h-3zm6 0h3v1h-3zm6 0h3v1h-3zm6 0h3v1h-3zm6 0h3v1h-3zm6 0h3v1h-3zm6 0h3v1h-3zm6 0h3v1h-3zm6 0h3v1h-3zm6 0h3v1h-3zm6 0h3v1h-3zm6 0h3v1h-3zm6 0h3v1h-3zm6 0h3v1h-3zm6 0h3v1h-3zm6 0h3v1h-3zm6 0h3v1h-3zm6 0h3v1h-3zm6 0h3v1h-3zm6 0h3v1h-3zm6 0h3v1h-3zm6 0h3v1h-3zm6 0h3v1h-3zm6 0h3v1h-3zm6 0h3v1h-3zm6 0h3v1h-3zm6 0h3v1h-3zm6 0h3v1h-3zm6 0h3v1h-3zm6 0h3v1h-3zm6 0h3v1h-3zm6 0h3v1h-3zm6 0h3v1h-3zm6 0h3v1h-3zm6 0h3v1h-3zm6 0h3v1h-3zm6 0h3v1h-3zm6 0h3v1h-3zm6 0h3v1h-3zm6 0h3v1h-3zm6 0h3v1h-3zm6 0h3v1h-3zm6 0h3v1h-3zm6 0h3v1h-3zm6 0h3v1h-3zm6 0h3v1h-3zm6 0h3v1h-3zm6 0h3v1h-3zm6 0h3v1h-3zm6 0h3v1h-3zm6 0h3v1h-3zm6 0h3v1h-3zm6 0h3v1h-3zm6 0h3v1h-3zm6 0h3v1h-3zm6 0h3v1h-3zm6 0h3v1h-3zm6 0h3v1h-3zm6 0h3v1h-3zm6 0h3v1h-3zm6 0h3v1h-3zm6 0h3v1h-3zm6 0h3v1h-3zm6 0h3v1h-3zm6 0h3v1h-3zm6 0h3v1h-3zm6 0h3v1h-3zm6 0h3v1h-3zm6 0h3v1h-3zm6 0h3v1h-3zm6 0h3v1h-3zm6 0h3v1h-3zm6 0h3v1h-3zm6 0h3v1h-3zm6 0h3v1h-3zm6 0h3v1h-3zm6 0h3v1h-3zm6 0h3v1h-3zm6 0h3v1h-3zm6 0h3v1h-3zm6 0h3v1h-3zm6 0h3v1h-3zm6 0h3v1h-3zm6 0h3v1h-3zm6 0h3v1h-3zm6 0h3v1h-3zm6 0h3v1h-3zm6 0h3v1h-3zm6 0h3v1h-3zm6 0h3v1h-3zm6 0h3v1h-3zm6 0h3v1h-3zm6 0h3v1h-3zm6 0h3v1h-3zm6 0h3v1h-3zm6 0h3v1h-3zm6 0h3v1h-3zm6 0h3v1h-3zm6 0h3v1h-3zm6 0h3v1h-3zm6 0h3v1h-3zm6 0h3v1h-3zm6 0h3v1h-3zm6 0h3v1h-3zm6 0h3v1h-3zm6 0h3v1h-3zm6 0h3v1h-3zm6 0h3v1h-3zm6 0h3v1h-3zm6 0h3v1h-3zm6 0h3v1h-3zm6 0h3v1h-3zm6 0h3v1h-3zm6 0h3v1h-3zm6 0h3v1h-3zm6 0h3v1h-3zm6 0h3v1h-3zm6 0h3v1h-3zm6 0h3v1h-3zm6 0h3v1h-3zm6 0h3v1h-3zm6 0h3v1h-3zm6 0h3v1h-3zm6 0h3v1h-3zm6 0h3v1h-3z" fill="#0000ff"/>
<path d="M408 363h10v1h-10zm-18 1h18v1h-18zm-18 1h18v1h-18zm-19 1h19v1h-19zm-18 1h18v1h-18zm-18 1h18v1h-18zm-10 1h10v1h-10z" fill="#0000ff"/>
<path d="M430 386h2v1h-2zm-3 1h3v1h-3zm-3 1h3v1h-3zm-3 1h3v1h-3zm-3 1h3v1h-3zm-3 1h3v1h-3zm-3 1h3v1h-3zm-3 1h3v1h-3zm-3 1h3v1h-3zm-3 1h3v1h-3zm-3 1h3v1h-3zm-3 1h3v1h-3zm-3 1h3v1h-3zm-3 1h3v1h-3zm-3 1h3v1h-3zm-3 1h3v1h-3zm-3 1h3v1h-3zm-3 1h3v1h-3zm-3 1h3v1h-3zm-4 1h4v1h-4zm-3 1h3v1h-3zm-3 1h3v1h-3zm-3 1h3v1h-3zm-3 1h3v1h-3zm-3 1h3v1h-3zm-3 1h3v1h-3zm-3 1h3v1h-3zm-3 1h3v1h-3zm-3 1h3v1h-3zm-3 1h3v1h-3zm-3 1h3v1h-3zm-3 1h3v1h-3zm-3 1h3v1h-3zm-3 1h3v1h-3zm-3 1h3v1h-3zm-3 1h3v1h-3zm-3 1h3v1h-3zm-3 1h3v1h-3zm-2 1h2v1h-2z" fill="#0000ff"/>
<path d="M644 316h7v1h-7zm7 1h13v1h-13zm13 1h13v1h-13zm13 1h13v1h-13zm13 1h13v1h-13zm13 1h13v1h-13zm13 1h13v1h-13zm13 1h13v1h-13zm13 1h13v1h-13zm13 1h13v1h-13zm13 1h13v1h-13zm13 1h13v1h-13zm13 1h13v1h-13zm13 1h13v1h-13zm13 1h13v1h-13zm13 1h13v1h-13zm13 1h13v1h-13zm13 1h12v1h-12zm12 1h13v1h-13zm13 1h13v1h-13zm13 1h13v1h-13zm13 1h13v1h-13zm13 1h13v1h-13zm13 1h13v1h-13zm13 1h13v1h-13zm13 1h13v1h-13zm13 1h13v1h-13zm13 1h13v1h-13zm13 1h13v1h-13zm13 1h13v1h-13zm13 1h13v1h-13zm13 1h13v1h-13zm13 1h13v1h-13zm13 1h13v1h-13zm13 1h7v1h-7z" fill="#0000ff"/>
<path d="M44 78h3v1h-3zm0 1h7v1h-7zm2 1h9v1h-9zm4 1h8v1h-8zm4 1h8v1h-8zm3 1h9v1h-9zm4 1h9v1h-9zm4 1h8v1h-8zm4 1h8v1h-8zm3 1h9v1h-9zm4 1h8v1h-8zm4 1h8v1h-8zm3 1h9v1h-9zm4 1h9v1h-9zm4 1h8v1h-8zm4 1h8v1h-8zm3 1h9v1h-9zm4 1h8v1h-8zm4 1h8v1h-8zm3 1h9v1h-9zm4 1h9v1h-9zm4 1h8v1h-8zm4 1h8v1h-8zm3 1h9v1h-9zm4 1h8v1h-8zm4 1h8v1h-8zm3 1h9v1h-9zm4 1h9v1h-9zm4 1h8v1h-8zm4 1h8v1h-8zm3 1h9v1h-9zm4 1h8v1h-8zm4 1h8v1h-8zm3 1h9v1h-9zm4 1h9v1h-9zm4 1h8v1h-8zm4 1h8v1h-8zm3 1h9v1h-9zm4 1h8v1h-8zm4 1h8v1h-8zm3 1h9v1h-9zm4 1h9v1h-9zm4 1h8v1h-8zm4 1h8v1h-8zm3 1h9v1h-9zm4 1h8v1h-8zm4 1h8v1h-8zm3 1h9v1h-9zm4 1h9v1h-9zm4 1h8v1h-8zm4 1h8v1h-8zm3 1h9v1h-9zm4 1h8v1h-8zm4 1h8v1h-8zm3 1h9v1h-9zm4 1h9v1h-9zm4 1h8v1h-8zm4 1h8v1h-8zm3 1h9v1h-9zm4 1h8v1h-8zm4 1h8v1h-8zm3 1h9v1h-9zm4 1h9v1h-9zm4 1h8v1h-8zm4 1h8v1h-8zm3 1h9v1h-9zm4 1h8v1h-8zm4 1h8v1h-8zm3 1h9v1h-9zm4 1h9v1h-9zm4 1h8v1h-8zm4 1h8v1h-8zm3 1h9v1h-9zm4 1h8v1h-8zm4 1h8v1h-8zm3 1h9v1h-9zm4 1h9v1h-9zm4 1h8v1h-8zm4 1h8v1h-8zm3 1h9v1h-9zm4 1h8v1h-8zm4 1h8v1h-8zm3 1h9v1h-9zm4 1h9v1h-9zm4 1h8v1h-8zm4 1h8v1h-8zm3 1h9v1h-9zm4 1h8v1h-8zm4 1h8v1h-8zm3 1h9v1h-9zm4 1h9v1h-9zm4 1h8v1h-8zm4 1h8v1h-8zm3 1h9v1h-9zm4 1h8v1h-8zm4 1h8v1h-8zm3 1h9v1h-9zm4 1h9v1h-9zm4 1h8v1h-8zm4 1h8v1h-8zm3 1h9v1h-9zm4 1h8v1h-8zm4 1h8v1h-8zm3 1h9v1h-9zm4 1h9v1h-9zm4 1h8v1h-8zm4 1h8v1h-8zm3 1h9v1h-9zm4 1h8v1h-8zm4 1h8v1h-8zm3 1h9v1h-9zm4 1h9v1h-9zm4 1h8v1h-8zm4 1h8v1h-8zm3 1h9v1h-9zm4 1h8v1h-8zm4 1h8v1h-8zm3 1h9v1h-9zm4 1h9v1h-9zm4 1h8v1h-8zm4 1h8v1h-8zm3 1h9v1h-9zm4 1h8v1h-8zm4 1h8v1h-8zm3 1h9v1h-9zm4 1h9v1h-9zm4 1h8v1h-8zm4 1h8v1h-8zm3 1h9v1h-9zm4 1h8v1h-8zm4 1h8v1h-8zm3 1h9v1h-9zm4 1h9v1h-9zm4 1h8v1h-8zm4 1h8v1h-8zm3 1h9v1h-9zm4 1h8v1h-8zm4 1h8v1h-8zm3 1h9v1h-9zm4 1h9v1h-9zm4 1h8v1h-8zm4 1h8v1h-8zm3 1h9v1h-9zm4 1h8v1h-8zm4 1h8v1h-8zm3 1h9v1h-9zm4 1h9v1h-9zm4 1h8v1h-8zm4 1h8v1h-8zm3 1h9v1h-9zm4 1h8v1h-8zm4 1h8v1h-8zm3 1h9v1h-9zm4 1h9v1h-9zm4 1h8v1h-8zm4 1h8v1h-8zm3 1h9v1h-9zm4 1h8v1h-8zm4 1h8v1h-8zm3 1h9v1h-9zm4 1h9v1h-9zm4 1h8v1h-8zm4 1h8v1h-8zm3 1h9v1h-9zm4 1h8v1h-8zm4 1h8v1h-8zm3 1h9v1h-9zm4 1h9v1h-9zm4 1h8v1h-8zm4 1h8v1h-8zm3 1h9v1h-9zm4 1h8v1h-8zm4 1h8v1h-8zm3 1h9v1h-9zm4 1h9v1h-9zm4 1h8v1h-8zm4 1h8v1h-8zm3 1h9v1h-9zm4 1h8v1h-8zm4 1h8v1h-8zm3 1h9v1h-9zm4 1h9v1h-9zm4 1h8v1h-8zm4 1h8v1h-8zm3 1h9v1h-9zm4 1h8v1h-8zm4 1h8v1h-8zm3 1h9v1h-9zm4 1h9v1h-9zm4 1h8v1h-8zm4 1h8v1h-8zm3 1h9v1h-9zm4 1h8v1h-8zm4 1h8v1h-8zm3 1h9v1h-9zm4 1h9v1h-9zm4 1h8v1h-8zm4 1h8v1h-8zm3 1h9v1h-9zm4 1h8v1h-8zm4 1h8v1h-8zm3 1h9v1h-9zm4 1h9v1h-9zm4 1h8v1h-8zm4 1h8v1h-8zm3 1h9v1h-9zm4 1h8v1h-8zm4 1h8v1h-8zm3 1h9v1h-9zm4 1h9v1h-9zm4 1h8v1h-8zm4 1h8v1h-8zm3 1h9v1h-9zm4 1h8v1h-8zm4 1h8v1h-8zm3 1h9v1h-9zm4 1h9v1h-9zm4 1h8v1h-8zm4 1h8v1h-8zm3 1h9v1h-9zm4 1h8v1h-8zm4 1h8v1h-8zm3 1h9v1h-9zm4 1h9v1h-9zm4 1h8v1h-8zm4 1h8v1h-8zm3 1h9v1h-9zm4 1h8v1h-8zm4 1h8v1h-8zm3 1h9v1h-9zm4 1h9v1h-9zm4 1h8v1h-8zm4 1h8v1h-8zm3 1h9v1h-9zm4 1h8v1h-8zm4 1h8v1h-8zm3 1h9v1h-9zm4 1h9v1h-9zm4 1h8v1h-8zm4 1h8v1h-8zm3 1h9v1h-9zm4 1h8v1h-8zm4 1h8v1h-8zm3 1h9v1h-9zm4 1h9v1h-9zm4 1h8v1h-8zm4 1h8v1h-8zm3 1h9v1h-9zm4 1h8v1h-8zm4 1h8v1h-8zm3 1h9v1h-9zm4 1h9v1h-9zm4 1h8v1h-8zm4 1h8v1h-8zm3 1h9v1h-9zm4 1h8v1h-8zm4 1h8v1h-8zm3 1h9v1h-9zm4 1h9v1h-9zm4 1h8v1h-8zm4 1h8v1h-8zm3 1h9v1h-9zm4 1h8v1h-8zm4 1h8v1h-8zm3 1h9v1h-9zm4 1h9v1h-9zm4 1h8v1h-8zm4 1h8v1h-8zm3 1h9v1h-9zm4 1h8v1h-8zm4 1h8v1h-8zm3 1h9v1h-9zm4 1h9v1h-9zm4 1h8v1h-8zm4 1h8v1h-8zm3 1h9v1h-9zm4 1h8v1h-8zm4 1h8v1h-8zm3 1h9v1h-9zm4 1h9v1h-9zm4 1h7v1h-7zm4 1h3v1h-3z" fill="#0000ff"/>
<path d="M1081 467h5v1h-5zm-8 1h13v1h-13zm-7 1h16v1h-16zm-8 1h16v1h-16zm-7 1h16v1h-16zm-8 1h16v1h-16zm-7 1h16v1h-16zm-8 1h16v1h-16zm-7 1h16v1h-16zm-8 1h16v1h-16zm-7 1h16v1h-16zm-8 1h16v1h-16zm-7 1h16v1h-16zm-8 1h16v1h-16zm-7 1h16v1h-16zm-8 1h16v1h-16zm-7 1h16v1h-16zm-8 1h16v1h-16zm-7 1h16v1h-16zm-8 1h16v1h-16zm-7 1h16v1h-16zm-8 1h16v1h-16zm-7 1h16v1h-16zm-8 1h16v1h-16zm-7 1h16v1h-16zm-8 1h16v1h-16zm-7 1h16v1h-16zm-8 1h16v1h-16zm-7 1h16v1h-16zm-8 1h16v1h-16zm-7 1h16v1h-16zm-8 1h16v1h-16zm-7 1h16v1h-16zm-8 1h16v1h-16zm-7 1h16v1h-16zm-8 1h16v1h-16zm-7 1h16v1h-16zm-8 1h16v1h-16zm-7 1h16v1h-16zm-8 1h16v1h-16zm-8 1h17v1h-17zm-7 1h16v1h-16zm-8 1h16v1h-16zm-7 1h16v1h-16zm-8 1h16v1h-16zm-7 1h16v1h-16zm-8 1h16v1h-16zm-7 1h16v1h-16zm-8 1h16v1h-16zm-7 1h16v1h-16zm-8 1h16v1h-16zm-7 1h16v1h-16zm-8 1h16v1h-16zm-7 1h16v1h-16zm-8 1h16v1h-16zm-7 1h16v1h-16zm-8 1h16v1h-16zm-7 1h16v1h-16zm-8 1h16v1h-16zm-7 1h16v1h-16zm-8 1h16v1h-16zm-7 1h16v1h-16zm-8 1h16v1h-16zm-7 1h16v1h-16zm-8 1h16v1h-16zm-7 1h16v1h-16zm-8 1h16v1h-16zm-7 1h16v1h-16zm-8 1h16v1h-16zm-7 1h16v1h-16zm-8 1h16v1h-16zm-7 1h16v1h-16zm-8 1h16v1h-16zm-7 1h16v1h-16zm-8 1h16v1h-16zm-7 1h16v1h-16zm-8 1h16v1h-16zm-7 1h16v1h-16zm-8 1h16v1h-16zm-4 1h13v1h-13zm0 1h5v1h-5z" fill="#0000ff"/>
<path d="M45 650h3v1h-3zm6 0h3v1h-3zm6 0h3v1h-3zm6 0h3v1h-3zm6 0h3v1h-3zm6 0h3v1h-3zm6 0h3v1h-3zm6 0h3v1h-3zm6 0h3v1h-3zm6 0h3v1h-3zm6 0h3v1h-3zm6 0h3v1h-3zm6 0h3v1h-3zm6 0h3v1h-3zm6 0h3v1h-3zm6 0h3v1h-3zm6 0h3v1h-3zm6 0h3v1h-3zm6 0h3v1h-3zm6 0h3v1h-3zm6 0h3v1h-3zm6 0h3v1h-3zm6 0h3v1h-3zm6 0h3v1h-3zm6 0h3v1h-3zm6 0h3v1h-3zm6 0h3v1h-3zm6 0h3v1h-3zm6 0h3v1h-3zm6 0h3v1h-3zm6 0h3v1h-3zm6 0h3v1h-3zm6 0h3v1h-3zm6 0h3v1h-3zm6 0h3v1h-3zm6 0h3v1h-3zm6 0h3v1h-3zm6 0h3v1h-3zm6 0h3v1h-3zm6 0h3v1h-3zm6 0h3v1h-3zm6 0h3v1h-3zm6 0h3v1h-3zm6 0h3v1h-3zm6 0h3v1h-3zm6 0h3v1h-3zm6 0h3v1h-3zm6 0h3v1h-3zm6 0h3v1h-3zm6 0h3v1h-3zm6 0h3v1h-3zm6 0h3v1h-3zm6 0h3v1h-3zm6 0h3v1h-3zm6 0h3v1h-3zm6 0h3v1h-3zm6 0h3v1h-3zm6 0h3v1h-3zm6 0h3v1h-3zm6 0h3v1h-3zm6 0h3v1h-3zm6 0h3v1h-3zm6 0h3v1h-3zm6 0h3v1h-3zm6 0h3v1h-3zm6 0h3v1h-3zm6 0h3v1h-3zm6 0h3v1h-3zm6 0h3v1h-3zm6 0h3v1h-3zm6 0h3v1h-3zm6 0h3v1h-3zm6 0h3v1h-3zm6 0h3v1h-3zm6 0h3v1h-3zm6 0h3v1h-3zm6 0h3v1h-3zm6 0h3v1h-3zm6 0h3v1h-3zm6 0h3v1h-3zm6 0h3v1h-3zm6 0h3v1h-3zm6 0h3v1h-3zm6 0h3v1h-3zm6 0h3v1h-3zm6 0h3v1h-3zm6 0h3v1h-3zm6 0h3v1h-3zm6 0h3v1h-3zm6 0h3v1h-3zm6 0h3v1h-3zm6 0h3v1h-3zm6 0h3v1h-3zm6 0h3v1h-3zm6 0h3v1h-3zm6 0h3v1h-3zm6 0h3v1h-3zm6 0h3v1h-3zm6 0h3v1h-3zm6 0h3v1h-3zm6 0h3v1h-3zm6 0h3v1h-3zm6 0h3v1h-3zm6 0h3v1h-3zm6 0h3v1h-3zm6 0h3v1h-3zm6 0h3v1h-3zm6 0h3v1h-3zm6 0h3v1h-3zm6 0h3v1h-3zm6 0h3v1h-3zm6 0h3v1h-3zm6 0h3v1h-3zm6 0h3v1h-3zm6 0h3v1h-3zm6 0h3v1h-3zm6 0h3v1h-3zm6 0h3v1h-3zm6 0h3v1h-3zm6 0h3v1h-3zm6 0h3v1h-3zm6 0h3v1h-3zm6 0h3v1h-3zm6 0h3v1h-3zm6 0h3v1h-3zm6 0h3v1h-3zm6 0h3v1h-3zm6 0h3v1h-3zm6 0h3v1h-3zm6 0h3v1h-3zm6 0h3v1h-3zm6 0h3v1h-3zm6 0h3v1h-3zm6 0h3v1h-3zm6 0h3v1h-3zm6 0h3v1h-3zm6 0h3v1h-3zm6 0h3v1h-3zm6 0h3v1h-3zm6 0h3v1h-3zm6 0h3v1h-3zm6 0h3v1h-3zm6 0h3v1h-3zm6 0h3v1h-3zm6 0h3v1h-3zm6 0h3v1h-3zm6 0h3v1h-3zm6 0h3v1h-3zm6 0h3v1h-3zm6 0h3v1h-3zm6 0h3v1h-3zm6 0h3v1h-3zm6 0h3v1h-3zm6 0h3v1h-3zm6 0h3v1h-3zm6 0h3v1h-3zm6 0h3v1h-3zm6 0h3v1h-3zm6 0h3v1h-3zm6 0h3v1h-3zm6 0h3v1h-3zm6 0h3v1h-3zm6 0h3v1h-3zm6 0h3v1h-3zm6 0h3v1h-3zm6 0h3v1h-3zm6 0h3v1h-3zm6 0h3v1h-3zm6 0h3v1h-3zm6 0h3v1h-3zm6 0h3v1h-3zm6 0h3v1h-3zm6 0h3v1h-3zm6 0h3v1h-3zm6 0h3v1h-3zm6 0h3v1h-3zm6 0h3v1h-3zm6 0h3v1h-3zm6 0h3v1h-3zm6 0h3v1h-3zm6 0h3v1h-3zm6 0h3v1h-3zm6 0h3v1h-3zm6 0h3v1h-3zm6 0h3v1h-3zm6 0h3v1h-3zm6 0h3v1h-3zm6 0h3v1h-3zm6 0h3v1h-3zm6 0h3v1h-3zm6 0h3v1h-3zm6 0h3v1h-3zm6 0h3v1h-3zm6 0h3v1h-3z" fill="#0000ff"/>
<path d="M45 715h3v1h-3zm6 0h3v1h-3zm6 0h3v1h-3zm6 0h3v1h-3zm6 0h3v1h-3zm6 0h3v1h-3zm6 0h3v1h-3zm6 0h3v1h-3zm6 0h3v1h-3zm6 0h3v1h-3zm6 0h3v1h-3zm6 0h3v1h-3zm6 0h3v1h-3zm6 0h3v1h-3zm6 0h3v1h-3zm6 0h3v1h-3zm6 0h3v1h-3zm6 0h3v1h-3zm6 0h3v1h-3zm6 0h3v1h-3zm6 0h3v1h-3zm6 0h3v1h-3zm6 0h3v1h-3zm6 0h3v1h-3zm6 0h3v1h-3zm6 0h3v1h-3zm6 0h3v1h-3zm6 0h3v1h-3zm6 0h3v1h-3zm6 0h3v1h-3zm6 0h3v1h-3zm6 0h3v1h-3zm6 0h3v1h-3zm6 0h3v1h-3zm6 0h3v1h-3zm6 0h3v1h-3zm6 0h3v1h-3zm6 0h3v1h-3zm6 0h3v1h-3zm6 0h3v1h-3zm6 0h3v1h-3zm6 0h3v1h-3zm6 0h3v1h-3zm6 0h3v1h-3zm6 0h3v1h-3zm6 0h3v1h-3zm6 0h3v1h-3zm6 0h3v1h-3zm6 0h3v1h-3zm6 0h3v1h-3zm6 0h3v1h-3zm6 0h3v1h-3zm6 0h3v1h-3zm6 0h3v1h-3zm6 0h3v1h-3zm6 0h3v1h-3zm6 0h3v1h-3zm6 0h3v1h-3zm6 0h3v1h-3zm6 0h3v1h-3zm6 0h3v1h-3zm6 0h3v1h-3zm6 0h3v1h-3zm6 0h3v1h-3zm6 0h3v1h-3zm6 0h3v1h-3zm6 0h3v1h-3zm6 0h3v1h-3zm6 0h3v1h-3zm6 0h3v1h-3zm6 0h3v1h-3zm6 0h3v1h-3zm6 0h3v1h-3zm6 0h3v1h-3zm6 0h3v1h-3zm6 0h3v1h-3zm6 0h3v1h-3zm6 0h3v1h-3zm6 0h3v1h-3zm6 0h3v1h-3zm6 0h3v1h-3zm6 0h3v1h-3zm6 0h3v1h-3zm6 0h3v1h-3zm6 0h3v1h-3zm6 0h3v1h-3zm6 0h3v1h-3zm6 0h3v1h-3zm6 0h3v1h-3zm6 0h3v1h-3zm6 0h3v1h-3zm6 0h3v1h-3zm6 0h3v1h-3zm6 0h3v1h-3zm6 0h3v1h-3zm6 0h3v1h-3zm6 0h3v1h-3zm6 0h3v1h-3zm6 0h3v1h-3zm6 0h3v1h-3zm6 0h3v1h-3zm6 0h3v1h-3zm6 0h3v1h-3zm6 0h3v1h-3zm6 0h3v1h-3zm6 0h3v1h-3zm6 0h3v1h-3zm6 0h3v1h-3zm6 0h3v1h-3zm6 0h3v1h-3zm6 0h3v1h-3zm6 0h3v1h-3zm6 0h3v1h-3zm6 0h3v1h-3zm6 0h3v1h-3zm6 0h3v1h-3zm6 0h3v1h-3zm6 0h3v1h-3zm6 0h3v1h-3zm6 0h3v1h-3zm6 0h3v1h-3zm6 0h3v1h-3zm6 0h3v1h-3zm6 0h3v1h-3zm6 0h3v1h-3zm6 0h3v1h-3zm6 0h3v1h-3zm6 0h3v1h-3zm6 0h3v1h-3zm6 0h3v1h-3zm6 0h3v1h-3zm6 0h3v1h-3zm6 0h3v1h-3zm6 0h3v1h-3zm6 0h3v1h-3zm6 0h3v1h-3zm6 0h3v1h-3zm6 0h3v1h-3zm6 0h3v1h-3zm6 0h3v1h-3zm6 0h3v1h-3zm6 0h3v1h-3zm6 0h3v1h-3zm6 0h3v1h-3zm6 0h3v1h-3zm6 0h3v1h-3zm6 0h3v1h-3zm6 0h3v1h-3zm6 0h3v1h-3zm6 0h3v1h-3zm6 0h3v1h-3zm6 0h3v1h-3zm6 0h3v1h-3zm6 0h3v1h-3zm6 0h3v1h-3zm6 0h3v1h-3zm6 0h3v1h-3zm6 0h3v1h-3zm6 0h3v1h-3zm6 0h3v1h-3zm6 0h3v1h-3zm6 0h3v1h-3zm6 0h3v1h-3zm6 0h3v1h-3zm6 0h3v1h-3zm6 0h3v1h-3zm6 0h3v1h-3zm6 0h3v1h-3zm6 0h3v1h-3zm6 0h3v1h-3zm6 0h3v1h-3zm6 0h3v1h-3zm6 0h3v1h-3zm6 0h3v1h-3zm6 0h3v1h-3zm6 0h3v1h-3zm6 0h3v1h-3zm6 0h3v1h-3zm6 0h3v1h-3zm6 0h3v1h-3zm6 0h3v1h-3zm6 0h3v1h-3zm6 0h3v1h-3zm6 0h3v1h-3zm6 0h3v1h-3zm6 0h3v1h-3zm6 0h3v1h-3zm6 0h3v1h-3zm6 0h3v1h-3zm6 0h3v1h-3zm6 0h3v1h-3zm6 0h3v1h-3zm6 0h3v1h-3zm6 0h3v1h-3z" fill="#0000ff"/>
<path d="M44 682h1162v1h-1162z" fill="#ff0000"/>
<path d="M547 617v2h1v-2zm1 1v1h1v-1zm-2 1v3h1v-3zm3 0v1h1v-1zm1 1v2h1v-2zm5 0h3v1h-3zm290 0v1h1v-1zm-291 1v1h1v-1zm4 0h3v1h-3zm286 0v2h1v-2zm2 0h2v1h-2zm-301 1v2h1v-2zm6 0v1h1v-1zm2 0v1h1v-1zm7 0v1h1v-1zm288 0h2v1h-2zm-296 1v1h1v-1zm9 0v2h1v-2zm282 0v1h1v-1zm7 0v2h1v-2zm-306 1v2h1v-2zm298 0v3h1v-3zm-280 1v2h1v-2zm289 0v2h1v-2zm-308 1v2h1v-2zm479 0h3v1h-3zm-459 1v2h1v-2zm278 0v4h1v-4zm11 0v3h1v-3zm170 0v1h1v-1zm3 0h2v1h-2zm-483 1v2h1v-2zm479 0v4h1v-4zm6 0h2v1h-2zm-463 1v3h1v-3zm465 0v2h1v-2zm-488 1v2h1v-2zm312 0v2h1v-2zm-13 1v3h1v-3zm190 0v1h1v-1zm72 0h3v1h-3zm-562 1v2h1v-2zm25 0v4h1v-4zm272 0h2v1h-2zm17 0v2h1v-2zm166 0v4h1v-4zm11 0v1h1v-1zm69 0h2v1h-2zm5 0h2v1h-2zm-269 1v1h1v-1zm3 0v1h1v-1zm193 0v2h1v-2zm66 0h2v1h-2zm9 0h2v1h-2zm-568 1v4h1v-4zm296 0v1h1v-1zm20 0v2h1v-2zm180 0h2v1h-2zm63 0v1h1v-1zm11 0v1h1v-1zm-275 1v1h1v-1zm199 0h2v1h-2zm4 0v1h1v-1zm60 0v2h1v-2zm13 0h2v1h-2zm-544 1v3h1v-3zm267 0v1h1v-1zm23 0v2h1v-2zm151 0v1h1v-1zm9 0h2v1h-2zm3 0v2h1v-2zm19 0v1h1v-1zm74 0v2h1v-2zm-280 1v2h1v-2zm174 0v2h1v-2zm2 0v1h1v-1zm6 0h2v1h-2zm4 0v1h1v-1zm21 0v1h1v-1zm57 0v2h1v-2zm-558 1v6h1v-6zm319 0v2h1v-2zm152 0h2v1h-2zm3 0h2v1h-2zm28 0v2h1v-2zm73 0v3h1v-3zm-546 1v3h1v-3zm264 0v2h1v-2zm174 0v2h1v-2zm6 0v1h1v-1zm84 0v4h1v-4zm-237 1v2h1v-2zm183 0v3h1v-3zm-516 1h6v1h-6zm305 0v2h1v-2zm174 0v2h1v-2zm110 0v2h1v-2zm-590 1v2h1v-2zm7 0h2v1h-2zm37 0v4h1v-4zm291 0v2h1v-2zm-326 1v1h1v-1zm296 0v2h1v-2zm174 0v3h1v-3zm39 0v3h1v-3zm52 0v5h1v-5zm21 0v3h1v-3zm-592 1v1h1v-1zm11 0v1h1v-1zm3 0v3h1v-3zm323 0v2h1v-2zm-499 1v1h1v-1zm161 0v1h1v-1zm13 0h2v1h-2zm293 0v2h1v-2zm-468 1v1h1v-1zm2 0v1h1v-1zm159 0v2h1v-2zm48 0v3h1v-3zm292 0v2h1v-2zm141 0v5h1v-5zm41 0v3h1v-3zm73 0v3h1v-3zm-757 1v1h1v-1zm4 0v2h1v-2zm464 0v2h1v-2zm-469 1v1h1v-1zm162 0v1h1v-1zm342 0v1h1v-1zm231 0v5h1v-5zm-736 1v2h1v-2zm7 0v1h1v-1zm155 0v2h1v-2zm51 0v2h1v-2zm256 0v3h1v-3zm37 0v2h1v-2zm181 0v3h1v-3zm73 0v3h1v-3zm-1061 1v2h1v-2zm309 0v1h1v-1zm-308 1h2v1h-2zm299 0v2h1v-2zm10 0h2v1h-2zm152 0v3h1v-3zm53 0v3h1v-3zm293 0v1h1v-1zm137 0v5h1v-5zm-946 1v2h1v-2zm4 0h2v1h-2zm309 0h4v1h-4zm8 0h3v1h-3zm449 0v2h1v-2zm40 0v2h1v-2zm180 0v4h1v-4zm73 0v2h1v-2zm-1057 1v3h1v-3zm278 0h6v1h-6zm16 0v3h1v-3zm17 0h4v1h-4zm7 0v1h1v-1zm713 0v7h1v-7zm-1038 1v3h1v-3zm284 0v2h1v-2zm7 0v1h1v-1zm35 0v1h1v-1zm137 0v2h1v-2zm55 0v3h1v-3zm252 0v3h1v-3zm42 0v2h1v-2zm253 0v3h1v-3zm-773 1v1h1v-1zm35 0v1h1v-1zm-319 1v5h1v-5zm156 0v1h1v-1zm119 0v2h1v-2zm10 0v1h1v-1zm7 0v2h1v-2zm28 0v1h1v-1zm134 0v2h1v-2zm351 0v3h1v-3zm133 0v7h1v-7zm46 0v3h1v-3zm-993 1v2h1v-2zm163 0h2v1h-2zm3 0v1h1v-1zm129 0v1h1v-1zm35 0v1h1v-1zm91 0v1h1v-1zm40 0h2v1h-2zm59 0v2h1v-2zm250 0v2h1v-2zm297 0v3h1v-3zm-905 1v2h1v-2zm5 0v1h1v-1zm116 0v1h1v-1zm13 0v1h1v-1zm4 0v2h1v-2zm31 0h2v1h-2zm89 0v2h1v-2zm2 0v1h1v-1zm36 0h3v1h-3zm-459 1v2h1v-2zm169 0v1h1v-1zm114 0v2h1v-2zm15 0v1h1v-1zm36 0h2v1h-2zm90 0v1h1v-1zm34 0v1h1v-1zm64 0v4h1v-4zm248 0v5h1v-5zm46 0v2h1v-2zm179 0v3h1v-3zm-833 1v3h1v-3zm8 0v1h1v-1zm129 0h2v1h-2zm37 0v1h1v-1zm84 0v1h1v-1zm5 0h2v1h-2zm31 0h2v1h-2zm583 0v8h1v-8zm30 0v3h1v-3zm-1070 1v3h1v-3zm12 0v5h1v-5zm160 0h2v1h-2zm111 0v1h1v-1zm18 0v1h1v-1zm37 0h2v1h-2zm82 0v2h1v-2zm8 0v1h1v-1zm28 0v1h1v-1zm362 0v3h1v-3zm-644 1h2v1h-2zm108 0v1h1v-1zm58 0v2h1v-2zm89 0v2h1v-2zm26 0v1h1v-1zm542 0v2h1v-2zm-835 1v4h1v-4zm14 0v4h1v-4zm105 0v1h1v-1zm138 0v1h1v-1zm35 0v1h1v-1zm70 0v4h1v-4zm424 0v8h1v-8zm123 0v2h1v-2zm-1072 1v3h1v-3zm281 0v1h1v-1zm61 0v2h1v-2zm77 0v1h1v-1zm12 0v4h1v-4zm23 0v1h1v-1zm317 0v8h1v-8zm49 0v2h1v-2zm179 0v3h1v-3zm-719 1v1h1v-1zm138 0v2h1v-2zm35 0v1h1v-1zm620 0v3h1v-3zm-1059 1v5h1v-5zm265 0v1h1v-1zm64 0v2h1v-2zm109 0v1h1v-1zm369 0v3h1v-3zm-822 1v3h1v-3zm163 0v3h1v-3zm16 0v7h1v-7zm100 0v2h1v-2zm139 0v1h1v-1zm34 0v1h1v-1zm75 0v4h1v-4zm208 0h11v1h-11zm266 0v3h1v-3zm-656 1v2h1v-2zm72 0v2h1v-2zm16 0v2h1v-2zm18 0v1h1v-1zm283 0v1h1v-1zm12 0h2v1h-2zm295 0v8h1v-8zm34 0v3h1v-3zm-797 1v2h1v-2zm156 0v1h1v-1zm16 0v1h1v-1zm283 0v1h1v-1zm15 0h2v1h-2zm75 0v2h1v-2zm-824 1v3h1v-3zm163 0v2h1v-2zm184 0v2h1v-2zm70 0v2h1v-2zm19 0h3v1h-3zm14 0v1h1v-1zm283 0v1h1v-1zm17 0v1h1v-1zm253 0v4h1v-4zm-986 1v5h1v-5zm111 0v1h1v-1zm150 0v2h1v-2zm161 0v2h1v-2zm10 0v3h1v-3zm80 0v5h1v-5zm201 0h3v1h-3zm21 0v2h1v-2zm74 0v2h1v-2zm125 0v7h1v-7zm127 0v3h1v-3zm-950 1v2h1v-2zm2 0v1h1v-1zm33 0v2h1v-2zm186 0v2h1v-2zm68 0v2h1v-2zm309 0h5v1h-5zm47 0v7h1v-7zm353 0v1h1v-1zm-1126 1v2h1v-2zm131 0h2v1h-2zm147 0v2h1v-2zm72 0v1h1v-1zm53 0v1h1v-1zm38 0v2h1v-2zm268 0h2v1h-2zm8 0h9v1h-9zm36 0v3h1v-3zm74 0v2h1v-2zm298 0v2h1v-2zm2 0v2h1v-2zm-1128 1v1h1v-1zm128 0v1h1v-1zm6 0v1h1v-1zm29 0v2h1v-2zm20 0v6h1v-6zm169 0h6v1h-6zm51 0v1h1v-1zm2 0v2h1v-2zm12 0v2h1v-2zm33 0v6h1v-6zm258 0h2v1h-2zm4 0h2v1h-2zm4 0h2v1h-2zm290 0v4h1v-4zm74 0v2h1v-2zm-1082 1h2v1h-2zm129 0v2h1v-2zm8 0v1h1v-1zm143 0v2h1v-2zm80 0v1h1v-1zm44 0v1h1v-1zm41 0v2h1v-2zm264 0v1h1v-1zm7 0h2v1h-2zm115 0v1h1v-1zm296 0v1h1v-1zm4 0v2h1v-2zm-1109 1v5h1v-5zm116 0h2v1h-2zm26 0v2h1v-2zm197 0v2h1v-2zm42 0v1h1v-1zm5 0v1h1v-1zm10 0v2h1v-2zm116 0v4h1v-4zm173 0h2v1h-2zm50 0v3h1v-3zm75 0v1h1v-1zm213 0v11h1v-11zm38 0v2h1v-2zm43 0v1h1v-1zm-998 1v2h1v-2zm12 0v1h1v-1zm139 0v3h1v-3zm123 0v2h1v-2zm7 0v2h1v-2zm37 0v2h1v-2zm260 0v1h1v-1zm127 0v2h1v-2zm292 0v2h1v-2zm7 0v2h1v-2zm-991 1v2h1v-2zm22 0v2h1v-2zm199 0v5h1v-5zm54 0h2v1h-2zm252 0v4h1v-4zm37 0v1h1v-1zm248 0v4h1v-4zm56 0v4h1v-4zm75 0v2h1v-2zm-957 1v2h1v-2zm274 0v2h1v-2zm9 0v2h1v-2zm4 0h2v1h-2zm33 0v1h1v-1zm220 0v2h1v-2zm37 0v1h1v-1zm54 0v2h1v-2zm17 0v5h1v-5zm59 0v1h1v-1zm290 0v1h1v-1zm9 0v3h1v-3zm-991 1v2h1v-2zm20 0v2h1v-2zm24 0v6h1v-6zm92 0v3h1v-3zm134 0h2v1h-2zm36 0h2v1h-2zm3 0v3h1v-3zm84 0v5h1v-5zm168 0v2h1v-2zm132 0v2h1v-2zm250 0v2h1v-2zm38 0v2h1v-2zm-1100 1v6h1v-6zm103 0v2h1v-2zm274 0v2h1v-2zm11 0v1h1v-1zm39 0v1h1v-1zm216 0v2h1v-2zm93 0v3h1v-3zm-680 1h3v1h-3zm64 0v3h1v-3zm18 0v2h1v-2zm508 0v6h1v-6zm33 0v1h1v-1zm134 0v2h1v-2zm116 0v2h1v-2zm58 0v2h1v-2zm76 0v2h1v-2zm31 0h6v1h-6zm17 0v4h1v-4zm-1059 1h4v1h-4zm7 0h2v1h-2zm43 0v1h1v-1zm152 0v3h1v-3zm86 0v18h1v-18zm36 0v2h1v-2zm203 0h3v1h-3zm63 0v2h1v-2zm36 0v1h1v-1zm414 0h2v1h-2zm-1044 1h4v1h-4zm13 0h2v1h-2zm40 0v2h1v-2zm36 0v3h1v-3zm442 0v1h1v-1zm3 0h4v1h-4zm95 0v2h1v-2zm60 0v2h1v-2zm14 0v3h1v-3zm63 0v2h1v-2zm113 0h2v1h-2zm61 0v3h1v-3zm76 0h2v1h-2zm26 0h2v1h-2zm-1044 1h2v1h-2zm17 0h2v1h-2zm58 0v2h1v-2zm254 0v4h1v-4zm138 0v5h1v-5zm65 0v4h1v-4zm8 0h2v1h-2zm55 0v2h1v-2zm284 0h2v1h-2zm141 0h2v1h-2zm23 0v1h1v-1zm-1045 1h2v1h-2zm21 0v1h1v-1zm35 0v1h1v-1zm64 0v7h1v-7zm89 0v2h1v-2zm335 0h4v1h-4zm88 0v1h1v-1zm62 0v1h1v-1zm77 0v2h1v-2zm109 0v1h1v-1zm144 0h2v1h-2zm19 0h2v1h-2zm25 0v2h1v-2zm-1111 1v3h1v-3zm41 0h2v1h-2zm24 0v1h1v-1zm33 0v2h1v-2zm23 0v2h1v-2zm14 0v2h1v-2zm456 0h3v1h-3zm48 0v2h1v-2zm35 0v1h1v-1zm64 0v1h1v-1zm11 0v2h1v-2zm173 0v1h1v-1zm66 0v2h1v-2zm32 0v12h1v-12zm49 0v1h1v-1zm16 0v1h1v-1zm-1045 1v1h1v-1zm26 0v1h1v-1zm11 0v1h1v-1zm174 0v3h1v-3zm343 0v1h1v-1zm52 0v5h1v-5zm27 0v2h1v-2zm66 0h6v1h-6zm76 0v1h1v-1zm92 0h11v1h-11zm14 0v1h1v-1zm149 0v1h1v-1zm14 0v1h1v-1zm-1045 1v1h1v-1zm28 0v1h1v-1zm8 0h2v1h-2zm3 0v1h1v-1zm19 0v1h1v-1zm25 0v2h1v-2zm12 0v2h1v-2zm78 0v2h1v-2zm161 0v3h1v-3zm203 0v3h1v-3zm19 0v2h1v-2zm43 0v1h1v-1zm107 0h2v1h-2zm3 0v2h1v-2zm68 0v2h1v-2zm90 0v2h1v-2zm12 0h3v1h-3zm71 0v1h1v-1zm82 0h2v1h-2zm12 0v2h1v-2zm-1082 1v1h1v-1zm37 0v1h1v-1zm30 0v1h1v-1zm5 0h2v1h-2zm6 0v2h1v-2zm17 0v1h1v-1zm117 0v2h1v-2zm14 0v1h1v-1zm286 0v6h1v-6zm123 0h2v1h-2zm36 0v1h1v-1zm75 0v1h1v-1zm243 0v2h1v-2zm83 0h2v1h-2zm-1071 1h2v1h-2zm35 0v1h1v-1zm32 0h4v1h-4zm26 0v1h1v-1zm28 0v2h1v-2zm10 0v2h1v-2zm78 0v2h1v-2zm14 0h2v1h-2zm3 0v2h1v-2zm22 0v4h1v-4zm346 0v1h1v-1zm39 0v1h1v-1zm36 0v1h1v-1zm146 0v2h1v-2zm88 0v2h1v-2zm170 0h4v1h-4zm7 0v1h1v-1zm-1078 1v1h1v-1zm25 0h3v1h-3zm7 0v1h1v-1zm44 0v1h1v-1zm14 0v2h1v-2zm120 0v2h1v-2zm10 0v1h1v-1zm148 0v2h1v-2zm203 0v4h1v-4zm22 0v2h1v-2zm37 0v1h1v-1zm36 0v1h1v-1zm321 0v1h1v-1zm88 0h3v1h-3zm-1074 1h2v1h-2zm23 0v1h1v-1zm4 0h4v1h-4zm49 0v1h1v-1zm43 0v1h1v-1zm8 0v1h1v-1zm32 0v8h1v-8zm46 0v2h1v-2zm13 0v1h1v-1zm6 0v2h1v-2zm318 0v1h1v-1zm86 0v1h1v-1zm14 0v4h1v-4zm22 0v1h1v-1zm149 0v1h1v-1zm86 0v1h1v-1zm88 0h2v1h-2zm-985 1h2v1h-2zm20 0v2h1v-2zm55 0v2h1v-2zm11 0v1h1v-1zm32 0v2h1v-2zm6 0v1h1v-1zm84 0v1h1v-1zm6 0h2v1h-2zm150 0v2h1v-2zm175 0v2h1v-2zm2 0v1h1v-1zm50 0v2h1v-2zm33 0h2v1h-2zm37 0v1h1v-1zm151 0v1h1v-1zm84 0v2h1v-2zm91 0h3v1h-3zm-985 1v1h1v-1zm83 0v1h1v-1zm37 0h2v1h-2zm80 0v2h1v-2zm7 0h2v1h-2zm4 0v1h1v-1zm10 0v1h1v-1zm19 0v5h1v-5zm300 0v1h1v-1zm81 0v1h1v-1zm37 0v1h1v-1zm153 0h2v1h-2zm176 0v3h1v-3zm-986 1v1h1v-1zm16 0v1h1v-1zm57 0v1h1v-1zm5 0h4v1h-4zm38 0v1h1v-1zm2 0v1h1v-1zm90 0h2v1h-2zm13 0v2h1v-2zm139 0v2h1v-2zm144 0v5h1v-5zm31 0v1h1v-1zm5 0v1h1v-1zm24 0v6h1v-6zm25 0v3h1v-3zm30 0v1h1v-1zm37 0v2h1v-2zm156 0v1h1v-1zm80 0v2h1v-2zm-891 1v1h1v-1zm14 0v1h1v-1zm59 0h4v1h-4zm43 0v1h1v-1zm81 0v2h1v-2zm31 0v1h1v-1zm305 0v2h1v-2zm7 0v1h1v-1zm77 0v1h1v-1zm20 0v5h1v-5zm175 0v1h1v-1zm-811 1v1h1v-1zm12 0v1h1v-1zm208 0v1h1v-1zm6 0v1h1v-1zm2 0v1h1v-1zm129 0v2h1v-2zm183 0v1h1v-1zm75 0v1h1v-1zm38 0v1h1v-1zm159 0v1h1v-1zm77 0v2h1v-2zm96 0v8h1v-8zm-984 1v1h1v-1zm10 0v1h1v-1zm184 0v1h1v-1zm26 0v2h1v-2zm3 0h2v1h-2zm5 0v1h1v-1zm302 0v1h1v-1zm10 0h2v1h-2zm47 0v3h1v-3zm26 0v1h1v-1zm38 0v1h1v-1zm161 0h2v1h-2zm194 0v9h1v-9zm-1005 1h2v1h-2zm8 0v1h1v-1zm184 0v2h1v-2zm29 0v1h1v-1zm7 0h2v1h-2zm6 0v3h1v-3zm120 0v2h1v-2zm174 0v2h1v-2zm13 0v1h1v-1zm70 0v1h1v-1zm38 0v2h1v-2zm164 0v1h1v-1zm73 0v2h1v-2zm-884 1v1h1v-1zm5 0v1h1v-1zm144 0v9h1v-9zm69 0v1h1v-1zm10 0h3v1h-3zm96 0v4h1v-4zm175 0v4h1v-4zm41 0v1h1v-1zm68 0v1h1v-1zm204 0v1h1v-1zm7 0h6v1h-6zm11 0v1h1v-1zm-829 1h2v1h-2zm3 0v1h1v-1zm185 0v2h1v-2zm42 0v1h1v-1zm120 0v2h1v-2zm174 0v2h1v-2zm16 0v1h1v-1zm16 0v5h1v-5zm28 0v2h1v-2zm22 0v1h1v-1zm26 0v4h1v-4zm13 0v1h1v-1zm167 0h2v1h-2zm4 0h2v1h-2zm8 0v1h1v-1zm4 0v2h1v-2zm2 0v1h1v-1zm52 0v3h1v-3zm-880 1v1h1v-1zm539 0h2v1h-2zm64 0v2h1v-2zm38 0h2v1h-2zm171 0h2v1h-2zm11 0h2v1h-2zm6 0v1h1v-1zm-644 1v2h1v-2zm162 0v2h1v-2zm174 0v2h1v-2zm20 0v1h1v-1zm42 0v3h1v-3zm57 0v1h1v-1zm185 0v1h1v-1zm5 0v4h1v-4zm-508 1v4h1v-4zm175 0v4h1v-4zm45 0v2h1v-2zm60 0v2h1v-2zm37 0v1h1v-1zm240 0v2h1v-2zm-695 1v1h1v-1zm162 0v2h1v-2zm174 0v2h1v-2zm111 0v2h1v-2zm7 0v2h1v-2zm341 0v5h1v-5zm-796 1v1h1v-1zm360 0v3h1v-3zm10 0v4h1v-4zm31 0v2h1v-2zm17 0v1h1v-1zm277 0v2h1v-2zm-696 1v1h1v-1zm163 0v2h1v-2zm174 0v1h1v-1zm81 0v2h1v-2zm32 0v3h1v-3zm5 0v2h1v-2zm194 0v7h1v-7zm168 0v6h1v-6zm-818 1v1h1v-1zm142 0v4h1v-4zm175 0v4h1v-4zm20 0v1h1v-1zm67 0v2h1v-2zm275 0h5v1h-5zm17 0v2h1v-2zm-730 1v7h1v-7zm33 0v1h1v-1zm164 0v2h1v-2zm173 0v1h1v-1zm27 0v3h1v-3zm55 0v1h1v-1zm37 0v2h1v-2zm224 0v1h1v-1zm5 0v2h1v-2zm-686 1v1h1v-1zm337 0v1h1v-1zm36 0v3h1v-3zm34 0h2v1h-2zm12 0v1h1v-1zm35 0v2h1v-2zm226 0v2h1v-2zm17 0v2h1v-2zm104 0v3h1v-3zm-808 1h2v1h-2zm6 0v1h1v-1zm165 0v2h1v-2zm172 0v1h1v-1zm73 0h3v1h-3zm8 0h2v1h-2zm39 0v2h1v-2zm231 0v2h1v-2zm-696 1h2v1h-2zm4 0h2v1h-2zm3 0v1h1v-1zm147 0v6h1v-6zm175 0v2h1v-2zm13 0h3v1h-3zm33 0v3h1v-3zm46 0h2v1h-2zm4 0v1h1v-1zm39 0v2h1v-2zm224 0v2h1v-2zm17 0v2h1v-2zm-706 1v2h1v-2zm7 0v1h1v-1zm166 0v3h1v-3zm168 0h2v1h-2zm41 0v4h1v-4zm42 0h2v1h-2zm274 0v2h1v-2zm114 0v3h1v-3zm17 0v4h1v-4zm-498 1v1h1v-1zm9 0v1h1v-1zm323 0v5h1v-5zm25 0v2h1v-2zm17 0v1h1v-1zm-706 1v3h1v-3zm333 0v1h1v-1zm7 0v2h1v-2zm38 0v4h1v-4zm322 0v1h1v-1zm5 0v1h1v-1zm-725 1v4h1v-4zm193 0v4h1v-4zm161 0v1h1v-1zm354 0v2h1v-2zm13 0h2v1h-2zm3 0v1h1v-1zm110 0v2h1v-2zm-479 1v1h1v-1zm4 0v1h1v-1zm43 0v3h1v-3zm321 0v1h1v-1zm126 0v2h1v-2zm-830 1v2h1v-2zm158 0v6h1v-6zm179 0v1h1v-1zm2 0v1h1v-1zm349 0v1h1v-1zm128 0v1h1v-1zm-478 1v1h1v-1zm42 0v4h1v-4zm286 0v4h1v-4zm21 0v1h1v-1zm130 0v1h1v-1zm12 0v2h1v-2zm-847 1v5h1v-5zm17 0v2h1v-2zm174 0v4h1v-4zm209 0v3h1v-3zm304 0v2h1v-2zm132 0v2h1v-2zm-825 1v2h1v-2zm830 0h2v1h-2zm5 0v2h1v-2zm-834 1h2v1h-2zm3 0h2v1h-2zm688 0v1h1v-1zm134 0v1h1v-1zm2 0h2v1h-2zm4 0h2v1h-2zm-833 1v3h1v-3zm4 0v1h1v-1zm385 0v2h1v-2zm286 0v2h1v-2zm17 0v1h1v-1zm136 0v1h1v-1zm7 0v1h1v-1zm-668 1v7h1v-7zm13 0v4h1v-4zm511 0v1h1v-1zm-700 1v4h1v-4zm685 0v3h1v-3zm14 0v1h1v-1zm-691 1v2h1v-2zm690 0v1h1v-1zm-1 1v1h1v-1zm-690 1v2h1v-2zm181 0v4h1v-4zm498 0v2h1v-2zm10 0v1h1v-1zm-695 1v3h1v-3zm686 0h9v1h-9zm-682 1h2v1h-2zm-1 1v1h1v-1zm173 0v4h1v-4zm-175 1h2v1h-2zm185 0v2h1v-2zm-2 2h2v1h-2zm-7 1v2h1v-2zm6 0v1h1v-1zm-1 1v1h1v-1zm-4 1v2h1v-2zm3 0v1h1v-1zm-1 1v1h1v-1zm-1 1v1h1v-1z" fill="#ff0000"/>
<path d="M1090 617v3h1v-3zm1 1v2h1v-2zm-2 2v4h1v-4zm3 0v2h1v-2zm1 2v3h1v-3zm-5 2v33h1v-33zm6 1v2h1v-2zm1 2v2h1v-2zm1 2v2h1v-2zm-369 2v2h1v-2zm370 0v3h1v-3zm-371 2v3h1v-3zm2 0v3h1v-3zm370 1v4h1v-4zm-455 2v3h1v-3zm82 0v2h1v-2zm4 0v4h1v-4zm8 1h3v1h-3zm106 0v6h1v-6zm-201 1v3h1v-3zm82 0v2h1v-2zm10 0h3v1h-3zm5 0v1h1v-1zm360 0v4h1v-4zm-455 1v4h1v-4zm88 0h2v1h-2zm8 0v2h1v-2zm104 0v3h1v-3zm-194 1v2h1v-2zm73 0v1h1v-1zm7 0h2v1h-2zm-412 1v7h1v-7zm319 0v6h1v-6zm4 0v3h1v-3zm10 0v1h1v-1zm71 0v2h1v-2zm8 0v1h1v-1zm11 0v2h1v-2zm282 0v3h1v-3zm-704 1v2h1v-2zm319 0v1h1v-1zm11 0v2h1v-2zm3 0v1h1v-1zm193 0v4h1v-4zm179 0v1h1v-1zm76 0v4h1v-4zm-461 1v2h1v-2zm6 0v4h1v-4zm8 0v2h1v-2zm68 0v2h1v-2zm21 0v2h1v-2zm2 0h2v1h-2zm98 0v12h1v-12zm183 0v1h1v-1zm-705 1v2h1v-2zm320 0v2h1v-2zm8 0v2h1v-2zm95 0v1h1v-1zm2 0v1h1v-1zm277 0v4h1v-4zm4 0v2h1v-2zm-372 1v3h1v-3zm66 0v2h1v-2zm26 0v3h1v-3zm-511 1v1h1v-1zm86 0v2h1v-2zm326 0v2h1v-2zm199 0v2h1v-2zm181 0v4h1v-4zm74 0v4h1v-4zm-868 1h2v1h-2zm3 0v1h1v-1zm400 0v10h1v-10zm10 0v3h1v-3zm73 0v2h1v-2zm-487 1v10h1v-10zm5 0v2h1v-2zm80 0v12h1v-12zm5 0v2h1v-2zm5 0h2v1h-2zm328 0v2h1v-2zm92 0v3h1v-3zm100 0v2h1v-2zm174 0v9h1v-9zm-696 1h2v1h-2zm4 0v1h1v-1zm389 0v1h1v-1zm-480 1v2h1v-2zm85 0h2v1h-2zm7 0v1h1v-1zm326 0v3h1v-3zm61 0v1h1v-1zm131 0v2h1v-2zm180 0v4h1v-4zm74 0v5h1v-5zm-771 1v1h1v-1zm342 0v2h1v-2zm43 0v3h1v-3zm32 0v3h1v-3zm-509 1v2h1v-2zm93 0v2h1v-2zm517 0v2h1v-2zm-434 1v2h1v-2zm242 0v3h1v-3zm15 0v3h1v-3zm2 0v4h1v-4zm-434 1v5h1v-5zm70 0v4h1v-4zm23 0v2h1v-2zm382 0v6h1v-6zm34 0v2h1v-2zm101 0v4h1v-4zm179 0v3h1v-3zm-718 1v1h1v-1zm103 0v2h1v-2zm2 0v2h1v-2zm425 0v17h1v-17zm262 0v3h1v-3zm-791 1v1h1v-1zm22 0v3h1v-3zm324 0v2h1v-2zm13 0v3h1v-3zm79 0v2h1v-2zm358 0v2h1v-2zm-795 1v2h1v-2zm100 0v3h1v-3zm4 0v2h1v-2zm218 0v11h1v-11zm40 0v4h1v-4zm345 0v12h1v-12zm10 0v4h1v-4zm57 0v31h1v-31zm22 0v1h1v-1zm-1043 1h2v1h-2zm165 0v18h1v-18zm19 0v2h1v-2zm59 0v8h1v-8zm350 0v2h1v-2zm92 0v2h1v-2zm100 0v5h1v-5zm253 0v2h1v-2zm3 0v3h1v-3zm3 0h2v1h-2zm-1044 1v4h1v-4zm2 0h2v1h-2zm173 0v4h1v-4zm10 0v1h1v-1zm63 0v3h1v-3zm21 0v2h1v-2zm83 0v2h1v-2zm252 0v2h1v-2zm442 0v3h1v-3zm-1042 1v2h1v-2zm179 0v3h1v-3zm3 0h2v1h-2zm64 0v7h1v-7zm96 0v2h1v-2zm248 0v1h1v-1zm54 0v6h1v-6zm38 0v2h1v-2zm353 0v2h1v-2zm-851 1v1h1v-1zm82 0v3h1v-3zm83 0v2h1v-2zm242 0v1h1v-1zm8 0v2h1v-2zm7 0v3h1v-3zm355 0v3h1v-3zm75 0v2h1v-2zm-1035 1v2h1v-2zm171 0h4v1h-4zm13 0v1h1v-1zm60 0v3h1v-3zm93 0h2v1h-2zm3 0v2h1v-2zm251 0v2h1v-2zm91 0v3h1v-3zm69 0v7h1v-7zm291 0v4h1v-4zm-1048 1v9h1v-9zm180 0v1h1v-1zm3 0v3h1v-3zm8 0v2h1v-2zm152 0v9h1v-9zm2 0v1h1v-1zm10 0v2h1v-2zm248 0v1h1v-1zm184 0v4h1v-4zm-780 1v4h1v-4zm174 0v2h1v-2zm91 0v4h1v-4zm326 0v1h1v-1zm4 0v1h1v-1zm10 0v2h1v-2zm355 0v3h1v-3zm-775 1v2h1v-2zm6 0h4v1h-4zm158 0v1h1v-1zm243 0v2h1v-2zm2 0v2h1v-2zm88 0v2h1v-2zm69 0v5h1v-5zm178 0v9h1v-9zm-754 1v2h1v-2zm16 0v1h1v-1zm4 0v1h1v-1zm41 0v4h1v-4zm114 0v2h1v-2zm256 0v2h1v-2zm35 0v13h1v-13zm289 0v2h1v-2zm112 0v5h1v-5zm-856 1v2h1v-2zm4 0v2h1v-2zm6 0v1h1v-1zm34 0v2h1v-2zm242 0h2v1h-2zm10 0v4h1v-4zm111 0v1h1v-1zm90 0v3h1v-3zm98 0v5h1v-5zm180 0v4h1v-4zm4 0v1h1v-1zm-964 1v4h1v-4zm196 0v3h1v-3zm69 0v4h1v-4zm85 0v3h1v-3zm119 0h2v1h-2zm3 0v2h1v-2zm10 0v2h1v-2zm79 0v10h1v-10zm45 0v3h1v-3zm151 0h4v1h-4zm173 0v2h1v-2zm33 0v2h1v-2zm2 0h2v1h-2zm-779 1v2h1v-2zm2 0v2h1v-2zm40 0v2h1v-2zm2 0v2h1v-2zm237 0h2v1h-2zm281 0v12h1v-12zm6 0h3v1h-3zm7 0v1h1v-1zm185 0v12h1v-12zm21 0v3h1v-3zm-734 1h2v1h-2zm234 0v5h1v-5zm6 0v5h1v-5zm10 0v1h1v-1zm200 0v2h1v-2zm68 0v3h1v-3zm2 0v1h1v-1zm9 0v1h1v-1zm169 0v2h1v-2zm31 0v2h1v-2zm-775 1v2h1v-2zm10 0v4h1v-4zm30 0v2h1v-2zm4 0h2v1h-2zm120 0v4h1v-4zm129 0v7h1v-7zm4 0v1h1v-1zm123 0v2h1v-2zm145 0v1h1v-1zm11 0v2h1v-2zm198 0v2h1v-2zm81 0v4h1v-4zm-1051 1v8h1v-8zm10 0v4h1v-4zm230 0v1h1v-1zm35 0v4h1v-4zm68 0v18h1v-18zm151 0v2h1v-2zm199 0v3h1v-3zm83 0v11h1v-11zm14 0v3h1v-3zm151 0v2h1v-2zm36 0v5h1v-5zm-742 1v2h1v-2zm382 0v2h1v-2zm3 0h4v1h-4zm153 0v3h1v-3zm-548 1v2h1v-2zm270 0v1h1v-1zm123 0h2v1h-2zm6 0v1h1v-1zm167 0v1h1v-1zm145 0v16h1v-16zm6 0v1h1v-1zm-735 1v3h1v-3zm17 0v1h1v-1zm10 0v2h1v-2zm127 0v4h1v-4zm114 0v10h1v-10zm8 0v6h1v-6zm13 0v1h1v-1zm129 0v1h1v-1zm69 0v3h1v-3zm98 0h2v1h-2zm70 0h4v1h-4zm81 0h2v1h-2zm109 0v4h1v-4zm-1041 1v4h1v-4zm155 0v14h1v-14zm57 0v1h1v-1zm3 0v2h1v-2zm50 0v4h1v-4zm221 0v1h1v-1zm129 0h2v1h-2zm148 0v2h1v-2zm19 0v1h1v-1zm67 0h2v1h-2zm5 0v1h1v-1zm80 0v1h1v-1zm-958 1v4h1v-4zm235 0v1h1v-1zm11 0v3h1v-3zm211 0v2h1v-2zm54 0v2h1v-2zm130 0v1h1v-1zm166 0v2h1v-2zm65 0v1h1v-1zm7 0v2h1v-2zm80 0h2v1h-2zm32 0v4h1v-4zm-990 1v1h1v-1zm220 0v1h1v-1zm13 0v1h1v-1zm6 0v3h1v-3zm216 0v1h1v-1zm45 0v7h1v-7zm81 0v9h1v-9zm60 0v1h1v-1zm66 0v4h1v-4zm80 0v3h1v-3zm83 0v1h1v-1zm90 0h3v1h-3zm54 0h4v1h-4zm-1013 1v1h1v-1zm220 0v1h1v-1zm11 0v1h1v-1zm142 0v4h1v-4zm80 0v1h1v-1zm3 0v3h1v-3zm15 0v4h1v-4zm39 0v1h1v-1zm131 0v2h1v-2zm18 0v10h1v-10zm147 0v2h1v-2zm61 0h2v1h-2zm11 0v3h1v-3zm84 0v2h1v-2zm51 0v7h1v-7zm3 0v1h1v-1zm15 0v2h1v-2zm33 0v4h1v-4zm-1063 1v2h1v-2zm9 0v5h1v-5zm13 0v3h1v-3zm198 0v2h1v-2zm9 0v3h1v-3zm13 0v5h1v-5zm45 0v3h1v-3zm164 0v2h1v-2zm20 0v2h1v-2zm39 0v1h1v-1zm355 0v13h1v-13zm151 0v2h1v-2zm13 0v2h1v-2zm-1033 1v6h1v-6zm242 0v2h1v-2zm205 0v4h1v-4zm51 0v3h1v-3zm17 0v2h1v-2zm130 0v2h1v-2zm125 0v12h1v-12zm40 0v3h1v-3zm156 0v2h1v-2zm2 0v6h1v-6zm25 0v3h1v-3zm42 0v2h1v-2zm-1030 1v1h1v-1zm220 0v1h1v-1zm223 0h2v1h-2zm6 0v1h1v-1zm6 0v4h1v-4zm16 0v1h1v-1zm234 0v3h1v-3zm172 0v3h1v-3zm139 0v3h1v-3zm11 0v1h1v-1zm-1026 1h6v1h-6zm21 0v1h1v-1zm199 0v1h1v-1zm6 0v4h1v-4zm11 0v2h1v-2zm49 0v3h1v-3zm85 0v3h1v-3zm61 0h5v1h-5zm12 0h2v1h-2zm3 0v1h1v-1zm20 0v7h1v-7zm4 0v2h1v-2zm39 0v3h1v-3zm14 0v9h1v-9zm116 0v2h1v-2zm13 0v3h1v-3zm308 0v2h1v-2zm64 0v2h1v-2zm5 0v3h1v-3zm32 0v4h1v-4zm-1056 1v1h1v-1zm16 0v1h1v-1zm199 0v1h1v-1zm211 0v2h1v-2zm4 0v1h1v-1zm10 0v1h1v-1zm47 0v2h1v-2zm32 0h2v1h-2zm27 0v2h1v-2zm102 0v2h1v-2zm151 0v4h1v-4zm183 0v3h1v-3zm-965 1v1h1v-1zm4 0v1h1v-1zm195 0v1h1v-1zm16 0h2v1h-2zm199 0v3h1v-3zm3 0v6h1v-6zm32 0v1h1v-1zm10 0v10h1v-10zm13 0v4h1v-4zm32 0v1h1v-1zm114 0v2h1v-2zm64 0v4h1v-4zm172 0v3h1v-3zm116 0v2h1v-2zm23 0v2h1v-2zm8 0v4h1v-4zm98 0v9h1v-9zm-1098 1v1h1v-1zm2 0v1h1v-1zm2 0v2h1v-2zm195 0v2h1v-2zm15 0h2v1h-2zm49 0v3h1v-3zm85 0v2h1v-2zm59 0v5h1v-5zm24 0v3h1v-3zm18 0v2h1v-2zm21 0v2h1v-2zm17 0v2h1v-2zm17 0h2v1h-2zm23 0v3h1v-3zm2 0v2h1v-2zm99 0v5h1v-5zm3 0v2h1v-2zm336 0h2v1h-2zm18 0v16h1v-16zm-1020 1v2h1v-2zm4 0v6h1v-6zm32 0v1h1v-1zm200 0v3h1v-3zm14 0v1h1v-1zm223 0v5h1v-5zm68 0v1h1v-1zm46 0v6h1v-6zm66 0v2h1v-2zm347 0h2v1h-2zm5 0v2h1v-2zm23 0v2h1v-2zm46 0v2h1v-2zm58 0v2h1v-2zm-1133 1v1h1v-1zm41 0v2h1v-2zm195 0v1h1v-1zm149 0v1h1v-1zm65 0v4h1v-4zm25 0v2h1v-2zm11 0v1h1v-1zm38 0v3h1v-3zm19 0v2h1v-2zm23 0v2h1v-2zm252 0v3h1v-3zm72 0v4h1v-4zm111 0v1h1v-1zm-999 1v3h1v-3zm298 0v2h1v-2zm86 0v1h1v-1zm82 0v3h1v-3zm19 0v2h1v-2zm75 0v3h1v-3zm93 0v2h1v-2zm63 0v3h1v-3zm289 0v2h1v-2zm23 0v2h1v-2zm5 0v3h1v-3zm41 0v2h1v-2zm56 0v3h1v-3zm-1090 1v2h1v-2zm132 0h2v1h-2zm11 0v10h1v-10zm125 0v2h1v-2zm52 0v22h1v-22zm25 0v2h1v-2zm89 0v1h1v-1zm2 0v4h1v-4zm66 0v2h1v-2zm14 0v1h1v-1zm9 0v2h1v-2zm256 0v2h1v-2zm132 0v16h1v-16zm-783 1h2v1h-2zm3 0v1h1v-1zm126 0v1h1v-1zm10 0h2v1h-2zm131 0v4h1v-4zm9 0v3h1v-3zm26 0v2h1v-2zm11 0v1h1v-1zm37 0v3h1v-3zm32 0v2h1v-2zm2 0v1h1v-1zm97 0v2h1v-2zm7 0v3h1v-3zm103 0v1h1v-1zm53 0v4h1v-4zm5 0v1h1v-1zm184 0h2v1h-2zm23 0v1h1v-1zm46 0v2h1v-2zm-1074 1v3h1v-3zm40 0v1h1v-1zm129 0v3h1v-3zm4 0v3h1v-3zm126 0v1h1v-1zm7 0v2h1v-2zm4 0h2v1h-2zm75 0v1h1v-1zm81 0v4h1v-4zm4 0v8h1v-8zm16 0v2h1v-2zm46 0v9h1v-9zm10 0v2h1v-2zm15 0h2v1h-2zm8 0v2h1v-2zm151 0v4h1v-4zm46 0v1h1v-1zm2 0v1h1v-1zm55 0v2h1v-2zm3 0v1h1v-1zm66 0v3h1v-3zm119 0h2v1h-2zm22 0h3v1h-3zm99 0v3h1v-3zm-1127 1v4h1v-4zm40 0v2h1v-2zm259 0h2v1h-2zm12 0h2v1h-2zm74 0v2h1v-2zm167 0v1h1v-1zm5 0v1h1v-1zm26 0v6h1v-6zm70 0h2v1h-2zm4 0h2v1h-2zm96 0v8h1v-8zm7 0v2h1v-2zm4 0h2v1h-2zm7 0v7h1v-7zm51 0v1h1v-1zm48 0v24h1v-24zm137 0v1h1v-1zm23 0v1h1v-1zm44 0v2h1v-2zm-773 1v1h1v-1zm3 0v2h1v-2zm9 0v2h1v-2zm173 0v2h1v-2zm36 0v3h1v-3zm20 0v2h1v-2zm9 0v2h1v-2zm14 0v2h1v-2zm90 0h2v1h-2zm99 0h2v1h-2zm12 0v1h1v-1zm51 0v2h1v-2zm6 0v2h1v-2zm185 0v2h1v-2zm123 0v9h1v-9zm-1090 1v2h1v-2zm126 0v8h1v-8zm6 0v3h1v-3zm129 0v1h1v-1zm84 0v2h1v-2zm51 0v5h1v-5zm52 0v5h1v-5zm267 0h2v1h-2zm3 0v1h1v-1zm8 0v2h1v-2zm49 0v2h1v-2zm72 0v2h1v-2zm22 0h3v1h-3zm165 0v2h1v-2zm51 0v3h1v-3zm-823 1v1h1v-1zm11 0v2h1v-2zm152 0v3h1v-3zm21 0v1h1v-1zm56 0v2h1v-2zm7 0v1h1v-1zm16 0v1h1v-1zm150 0v2h1v-2zm42 0v1h1v-1zm66 0v3h1v-3zm86 0v1h1v-1zm3 0v2h1v-2zm96 0v3h1v-3zm-967 1v2h1v-2zm345 0v2h1v-2zm101 0v2h1v-2zm35 0v3h1v-3zm26 0v1h1v-1zm18 0v1h1v-1zm201 0v2h1v-2zm121 0v3h1v-3zm20 0v2h1v-2zm167 0v3h1v-3zm-902 1v3h1v-3zm141 0v2h1v-2zm229 0v2h1v-2zm3 0h2v1h-2zm21 0v2h1v-2zm149 0v1h1v-1zm197 0v2h1v-2zm211 0v3h1v-3zm-1082 1v2h1v-2zm345 0v2h1v-2zm79 0v4h1v-4zm79 0v1h1v-1zm36 0v6h1v-6zm136 0v2h1v-2zm51 0h2v1h-2zm56 0v4h1v-4zm83 0v2h1v-2zm102 0v3h1v-3zm-830 1v9h1v-9zm136 0v2h1v-2zm120 0v4h1v-4zm32 0v5h1v-5zm56 0v2h1v-2zm21 0v1h1v-1zm24 0v1h1v-1zm321 0v2h1v-2zm25 0v2h1v-2zm162 0v3h1v-3zm-1033 1v2h1v-2zm131 0v3h1v-3zm214 0v2h1v-2zm141 0v2h1v-2zm40 0v1h1v-1zm149 0v1h1v-1zm33 0v15h1v-15zm155 0v2h1v-2zm37 0v1h1v-1zm180 0v2h1v-2zm-807 1v1h1v-1zm208 0v3h1v-3zm46 0h2v1h-2zm149 0v1h1v-1zm171 0v2h1v-2zm25 0v2h1v-2zm27 0v1h1v-1zm2 0v2h1v-2zm66 0v3h1v-3zm5 0v8h1v-8zm-971 1v3h1v-3zm121 0v7h1v-7zm152 0v1h1v-1zm72 0v2h1v-2zm139 0v3h1v-3zm44 0v1h1v-1zm148 0v2h1v-2zm105 0v3h1v-3zm80 0v2h1v-2zm36 0v2h1v-2zm136 0v2h1v-2zm45 0v2h1v-2zm-947 1v2h1v-2zm143 0v2h1v-2zm116 0v3h1v-3zm139 0v1h1v-1zm318 0v1h1v-1zm25 0v2h1v-2zm29 0v1h1v-1zm-555 1v2h1v-2zm16 0h2v1h-2zm119 0v3h1v-3zm49 0v2h1v-2zm6 0v3h1v-3zm141 0v2h1v-2zm171 0v2h1v-2zm12 0v2h1v-2zm36 0v1h1v-1zm6 0v2h1v-2zm65 0v3h1v-3zm67 0v3h1v-3zm43 0v2h1v-2zm-1076 1v4h1v-4zm60 0v1h1v-1zm71 0v3h1v-3zm143 0v1h1v-1zm87 0v2h1v-2zm2 0h3v1h-3zm119 0v2h1v-2zm299 0v2h1v-2zm91 0v3h1v-3zm22 0v2h1v-2zm10 0v9h1v-9zm-845 1v2h1v-2zm2 0v2h1v-2zm214 0v1h1v-1zm71 0v2h1v-2zm19 0v1h1v-1zm23 0v3h1v-3zm142 0v2h1v-2zm147 0v2h1v-2zm171 0v2h1v-2zm10 0v2h1v-2zm44 0v2h1v-2zm173 0v2h1v-2zm-799 1v2h1v-2zm84 0v4h1v-4zm6 0v4h1v-4zm17 0v1h1v-1zm98 0v2h1v-2zm53 0v2h1v-2zm248 0v2h1v-2zm111 0v3h1v-3zm74 0v2h1v-2zm67 0v3h1v-3zm-988 1v3h1v-3zm12 0v2h1v-2zm4 0v1h1v-1zm70 0h2v1h-2zm215 0v2h1v-2zm35 0v1h1v-1zm2 0v2h1v-2zm147 0v2h1v-2zm147 0v2h1v-2zm171 0v2h1v-2zm8 0v2h1v-2zm16 0v2h1v-2zm30 0v4h1v-4zm65 0h2v1h-2zm106 0v3h1v-3zm-1073 1v5h1v-5zm46 0v1h1v-1zm16 0v2h1v-2zm56 0v8h1v-8zm13 0h2v1h-2zm145 0v2h1v-2zm104 0v1h1v-1zm6 0v3h1v-3zm146 0v2h1v-2zm250 0v2h1v-2zm-735 1v1h1v-1zm9 0v2h1v-2zm75 0h2v1h-2zm216 0v2h1v-2zm23 0v1h1v-1zm9 0v1h1v-1zm5 0v2h1v-2zm147 0v2h1v-2zm147 0v2h1v-2zm112 0v1h1v-1zm59 0v2h1v-2zm6 0v2h1v-2zm18 0v2h1v-2zm18 0v3h1v-3zm143 0v2h1v-2zm-990 1v5h1v-5zm4 0v1h1v-1zm15 0v2h1v-2zm69 0v2h1v-2zm145 0v2h1v-2zm33 0v13h1v-13zm48 0v4h1v-4zm8 0v3h1v-3zm2 0h2v1h-2zm3 0v2h1v-2zm6 0h2v1h-2zm406 0v2h1v-2zm6 0v2h1v-2zm2 0v1h1v-1zm281 0v4h1v-4zm-1023 1h2v1h-2zm6 0v2h1v-2zm293 0v2h1v-2zm19 0v1h1v-1zm7 0h3v1h-3zm11 0v2h1v-2zm294 0v2h1v-2zm113 0h2v1h-2zm58 0v3h1v-3zm4 0v3h1v-3zm20 0v1h1v-1zm9 0v1h1v-1zm152 0v3h1v-3zm-984 1h2v1h-2zm13 0v1h1v-1zm35 0h3v1h-3zm179 0v1h1v-1zm94 0h2v1h-2zm412 0v2h1v-2zm4 0v2h1v-2zm6 0v1h1v-1zm81 0v1h1v-1zm7 0v2h1v-2zm2 0v1h1v-1zm6 0v2h1v-2zm149 0v1h1v-1zm-1038 1v6h1v-6zm14 0h3v1h-3zm38 0h2v1h-2zm12 0v2h1v-2zm31 0h3v1h-3zm6 0v2h1v-2zm10 0h2v1h-2zm167 0v2h1v-2zm19 0v2h1v-2zm51 0v2h1v-2zm331 0v1h1v-1zm115 0v2h1v-2zm81 0v2h1v-2zm9 0v1h1v-1zm153 0v1h1v-1zm2 0v2h1v-2zm-1027 1h2v1h-2zm5 0v1h1v-1zm77 0v2h1v-2zm16 0v2h1v-2zm3 0v2h1v-2zm185 0v1h1v-1zm58 0v4h1v-4zm324 0v2h1v-2zm23 0v8h1v-8zm81 0v2h1v-2zm2 0v2h1v-2zm64 0v2h1v-2zm2 0v2h1v-2zm28 0v1h1v-1zm5 0v2h1v-2zm3 0v3h1v-3zm147 0h2v1h-2zm35 0v4h1v-4zm-1059 1v2h1v-2zm7 0v2h1v-2zm24 0v5h1v-5zm23 0v2h1v-2zm37 0v2h1v-2zm177 0v1h1v-1zm17 0v2h1v-2zm3 0h2v1h-2zm50 0v1h1v-1zm446 0v1h1v-1zm26 0v12h1v-12zm55 0v1h1v-1zm3 0v2h1v-2zm156 0v1h1v-1zm5 0v1h1v-1zm23 0v1h1v-1zm-970 1v1h1v-1zm16 0v2h1v-2zm5 0v1h1v-1zm2 0v4h1v-4zm164 0v2h1v-2zm21 0v1h1v-1zm3 0h3v1h-3zm46 0v2h1v-2zm331 0v1h1v-1zm3 0h3v1h-3zm101 0v1h1v-1zm11 0v2h1v-2zm55 0v2h1v-2zm26 0v1h1v-1zm9 0v2h1v-2zm155 0v2h1v-2zm21 0v2h1v-2zm2 0v2h1v-2zm-1054 1v2h1v-2zm9 0v1h1v-1zm19 0v1h1v-1zm28 0v1h1v-1zm26 0v4h1v-4zm11 0v1h1v-1zm12 0v2h1v-2zm180 0v2h1v-2zm7 0h2v1h-2zm5 0v2h1v-2zm375 0h2v1h-2zm5 0h2v1h-2zm191 0v1h1v-1zm9 0v2h1v-2zm-867 1v2h1v-2zm17 0v1h1v-1zm2 0v2h1v-2zm28 0v1h1v-1zm37 0v2h1v-2zm4 0v2h1v-2zm173 0v1h1v-1zm70 0v1h1v-1zm4 0v4h1v-4zm334 0h2v1h-2zm108 0v1h1v-1zm245 0v2h1v-2zm19 0v2h1v-2zm4 0v2h1v-2zm4 0v3h1v-3zm-1068 1v3h1v-3zm3 0h2v1h-2zm5 0v2h1v-2zm27 0v1h1v-1zm32 0v1h1v-1zm214 0v1h1v-1zm12 0v3h1v-3zm14 0v2h1v-2zm44 0v2h1v-2zm339 0v1h1v-1zm107 0v2h1v-2zm6 0v1h1v-1zm262 0v1h1v-1zm-1064 1h2v1h-2zm4 0h2v1h-2zm15 0v2h1v-2zm14 0v1h1v-1zm5 0h2v1h-2zm29 0v2h1v-2zm36 0v2h1v-2zm2 0v2h1v-2zm176 0h2v1h-2zm409 0v2h1v-2zm111 0v2h1v-2zm2 0v1h1v-1zm238 0v2h1v-2zm17 0v2h1v-2zm7 0h2v1h-2zm-1059 1v1h1v-1zm26 0v1h1v-1zm6 0h2v1h-2zm51 0v8h1v-8zm194 0v1h1v-1zm68 0v2h1v-2zm446 0v1h1v-1zm7 0h2v1h-2zm-784 1v2h1v-2zm11 0v1h1v-1zm8 0v1h1v-1zm29 0v1h1v-1zm36 0v1h1v-1zm180 0v1h1v-1zm7 0v2h1v-2zm61 0v2h1v-2zm339 0v2h1v-2zm9 0v1h1v-1zm98 0v2h1v-2zm2 0v2h1v-2zm6 0v2h1v-2zm236 0v2h1v-2zm15 0v2h1v-2zm-1027 1v2h1v-2zm39 0h4v1h-4zm216 0v1h1v-1zm414 0v1h1v-1zm-678 1v2h1v-2zm52 0v2h1v-2zm213 0v1h1v-1zm4 0v2h1v-2zm402 0v2h1v-2zm6 0v2h1v-2zm101 0v1h1v-1zm8 0v2h1v-2zm236 0v2h1v-2zm13 0v2h1v-2zm-1027 1v2h1v-2zm258 0v1h1v-1zm-265 1h2v1h-2zm52 0v2h1v-2zm214 0h2v1h-2zm405 0v2h1v-2zm4 0v1h1v-1zm111 0v3h1v-3zm236 0v2h1v-2zm11 0v2h1v-2zm-1031 1h2v1h-2zm4 0v2h1v-2zm261 0v1h1v-1zm407 0v1h1v-1zm122 0v1h1v-1zm-792 1v2h1v-2zm49 0v2h1v-2zm619 0h2v1h-2zm123 0v1h1v-1zm228 0v2h1v-2zm9 0v2h1v-2zm-1027 1v2h1v-2zm61 0v7h1v-7zm606 0v1h1v-1zm115 0v2h1v-2zm7 0v1h1v-1zm-740 1v2h1v-2zm738 0h2v1h-2zm232 0v2h1v-2zm7 0v2h1v-2zm-243 1v2h1v-2zm2 0h2v1h-2zm235 0h2v1h-2zm-970 1v2h1v-2zm2 0h3v1h-3zm732 0v1h1v-1zm238 0h4v1h-4zm-971 1v1h1v-1zm4 0v1h1v-1zm1 1v1h1v-1zm1 1v2h1v-2zm3 1v4h1v-4zm-2 1v1h1v-1zm1 1v1h1v-1z" fill="#0000ff"/>
<path d="M844 620h12v1h-12zm12 1h24v1h-24zm24 1h24v1h-24zm24 1h24v1h-24zm24 1h23v1h-23zm23 1h24v1h-24zm24 1h24v1h-24zm24 1h24v1h-24zm24 1h23v1h-23zm23 1h24v1h-24zm24 1h24v1h-24zm24 1h24v1h-24zm24 1h12v1h-12z" fill="#00ffff"/>
<path d="M45 861h2v16h-2zm2 -2h2v18h-2zm4 -10h2v28h-2zm2 14h2v14h-2zm4 -6h2v20h-2zm2 -1h2v21h-2zm4 -7h2v28h-2zm2 -29h2v57h-2zm4 8h2v49h-2zm2 38h2v11h-2zm4 0h2v11h-2zm2 5h2v6h-2zm4 -6h2v12h-2zm2 0h2v12h-2zm4 7h2v5h-2zm2 -1h2v6h-2zm4 -2h2v8h-2zm2 3h2v5h-2zm4 2h2v3h-2zm2 -10h2v13h-2zm4 8h2v5h-2zm2 -11h2v16h-2zm4 5h2v11h-2zm2 -4h2v15h-2zm4 7h2v8h-2zm2 -3h2v11h-2zm4 -7h2v18h-2zm2 11h2v7h-2zm4 -26h2v33h-2zm2 21h2v12h-2zm4 -6h2v18h-2zm1 -10h2v28h-2zm4 -16h2v44h-2zm2 30h2v14h-2zm4 -9h2v23h-2zm2 2h2v21h-2zm4 -16h2v37h-2zm2 16h2v21h-2zm4 10h2v11h-2zm2 2h2v9h-2zm4 -9h2v18h-2zm2 8h2v10h-2zm4 -5h2v15h-2zm2 7h2v8h-2zm4 -2h2v10h-2zm2 -1h2v11h-2zm4 2h2v9h-2zm2 3h2v6h-2zm4 -36h2v42h-2zm2 14h2v28h-2zm4 10h2v18h-2zm2 6h2v12h-2zm4 -2h2v14h-2zm2 6h2v8h-2zm4 -27h2v35h-2zm2 7h2v28h-2zm4 14h2v14h-2zm2 -50h2v64h-2zm4 35h2v29h-2zm2 15h2v14h-2zm4 6h2v8h-2zm2 -5h2v13h-2zm4 -47h2v60h-2zm2 -34h2v94h-2zm4 58h2v36h-2zm2 8h2v28h-2zm4 -1h2v29h-2zm1 -3h2v32h-2zm4 14h2v18h-2zm2 -21h2v39h-2zm4 -3h2v42h-2zm2 12h2v30h-2zm4 13h2v17h-2zm2 -12h2v29h-2zm4 4h2v25h-2zm2 1h2v24h-2zm4 12h2v12h-2zm2 -6h2v18h-2zm4 -1h2v19h-2zm2 5h2v14h-2zm4 -32h2v46h-2zm2 15h2v31h-2zm4 3h2v28h-2zm2 15h2v13h-2zm4 -4h2v17h-2zm2 -25h2v42h-2zm4 -39h2v81h-2zm2 40h2v41h-2zm4 -5h2v46h-2zm2 -10h2v56h-2zm4 31h2v25h-2zm2 -13h2v38h-2zm4 -25h2v63h-2zm2 31h2v32h-2zm4 -13h2v45h-2zm2 17h2v28h-2zm4 -31h2v59h-2zm2 38h2v21h-2zm4 4h2v17h-2zm2 4h2v13h-2zm4 1h2v12h-2zm2 -5h2v17h-2zm4 0h2v17h-2zm2 -3h2v20h-2zm4 -12h2v32h-2zm2 3h2v29h-2zm4 4h2v25h-2zm2 6h2v19h-2zm4 -1h2v20h-2zm2 3h2v17h-2zm4 9h2v8h-2zm2 -3h2v11h-2zm4 3h2v8h-2zm2 -3h2v11h-2zm4 1h2v10h-2zm2 4h2v6h-2zm4 -18h2v24h-2zm2 -15h2v39h-2zm4 -6h2v45h-2zm2 26h2v19h-2zm4 5h2v14h-2zm2 -6h2v20h-2zm4 -40h2v60h-2zm2 33h2v27h-2zm4 -19h2v46h-2zm2 5h2v41h-2zm4 18h2v23h-2zm2 -6h2v29h-2zm4 11h2v18h-2zm2 -1h2v19h-2zm4 1h2v18h-2zm2 5h2v13h-2zm4 3h2v10h-2zm1 -1h2v11h-2zm4 2h2v9h-2zm2 4h2v5h-2zm4 1h2v4h-2zm2 -28h2v32h-2zm4 -21h2v53h-2zm2 31h2v22h-2zm4 15h2v7h-2zm2 -9h2v16h-2zm4 8h2v8h-2zm2 -8h2v16h-2zm4 5h2v11h-2zm2 0h2v11h-2zm4 -4h2v15h-2zm2 -10h2v25h-2zm4 -5h2v30h-2zm2 -33h2v63h-2zm4 16h2v47h-2zm2 4h2v43h-2zm3 -2h2v45h-2zm2 32h2v13h-2zm4 -3h2v16h-2zm2 -6h2v22h-2zm4 15h2v7h-2zm2 -3h2v10h-2zm4 4h2v6h-2zm2 -40h2v46h-2zm4 39h2v7h-2zm2 -60h2v67h-2zm4 55h2v12h-2zm2 3h2v9h-2zm4 -1h2v10h-2zm2 -3h2v13h-2zm4 -57h2v70h-2zm2 23h2v47h-2zm4 -7h2v54h-2zm2 21h2v33h-2zm4 -3h2v36h-2zm2 -20h2v56h-2zm4 33h2v23h-2zm2 -35h2v58h-2zm4 33h2v25h-2zm2 0h2v25h-2zm4 12h2v13h-2zm2 6h2v7h-2zm4 -1h2v8h-2zm2 -22h2v30h-2zm4 -27h2v57h-2zm2 36h2v21h-2zm4 8h2v13h-2zm2 2h2v11h-2zm4 -11h2v22h-2zm2 7h2v15h-2zm4 -3h2v18h-2zm2 2h2v16h-2zm4 10h2v6h-2zm2 -26h2v32h-2zm4 21h2v11h-2zm2 3h2v8h-2zm4 -4h2v12h-2zm2 -11h2v23h-2zm4 4h2v19h-2zm2 6h2v13h-2zm4 0h2v13h-2zm2 -26h2v39h-2zm4 -48h2v87h-2zm2 19h2v68h-2zm4 -14h2v82h-2zm2 42h2v40h-2zm4 31h2v9h-2zm2 -19h2v28h-2zm4 -2h2v30h-2zm2 12h2v18h-2zm4 5h2v13h-2zm2 -2h2v15h-2zm4 -2h2v17h-2zm2 -29h2v46h-2zm4 -5h2v51h-2zm2 21h2v30h-2zm4 19h2v11h-2zm2 -2h2v13h-2zm4 3h2v10h-2zm2 -13h2v23h-2zm4 5h2v18h-2zm2 8h2v10h-2zm4 3h2v7h-2zm2 -2h2v9h-2zm4 -2h2v11h-2zm2 0h2v11h-2zm4 -11h2v22h-2zm2 -17h2v39h-2zm4 25h2v14h-2zm2 -56h2v70h-2zm4 3h2v67h-2zm2 24h2v43h-2zm4 19h2v24h-2zm2 -31h2v55h-2zm4 12h2v43h-2zm1 8h2v35h-2zm4 14h2v21h-2zm2 -1h2v22h-2zm4 6h2v16h-2zm2 -4h2v20h-2zm4 12h2v8h-2zm2 -4h2v12h-2zm4 1h2v11h-2zm2 1h2v10h-2zm4 -1h2v11h-2zm2 5h2v6h-2zm3 2h2v4h-2zm2 -4h2v8h-2zm4 2h2v6h-2zm2 2h2v4h-2zm4 0h2v4h-2zm2 -10h2v14h-2zm4 6h2v8h-2zm2 -3h2v11h-2zm4 5h2v6h-2zm2 2h2v4h-2zm4 -6h2v10h-2zm2 -12h2v22h-2zm4 -11h2v33h-2zm2 -2h2v35h-2zm4 16h2v19h-2zm2 -22h2v41h-2zm4 16h2v25h-2zm2 6h2v19h-2zm4 -30h2v49h-2zm2 21h2v28h-2zm4 17h2v11h-2zm2 -7h2v18h-2zm4 -1h2v19h-2zm2 -9h2v28h-2zm4 16h2v12h-2zm2 -3h2v15h-2zm4 -80h2v95h-2zm2 72h2v23h-2zm4 8h2v15h-2zm2 8h2v7h-2zm4 -1h2v8h-2zm2 -24h2v32h-2zm4 28h2v4h-2zm2 -3h2v7h-2zm4 -12h2v19h-2zm2 7h2v12h-2zm4 8h2v4h-2zm2 0h2v4h-2zm4 -1h2v5h-2zm2 -5h2v10h-2zm4 -1h2v11h-2zm2 1h2v10h-2zm4 3h2v7h-2zm2 -4h2v11h-2zm4 4h2v7h-2zm2 -9h2v16h-2zm4 5h2v11h-2zm2 3h2v8h-2zm4 -5h2v13h-2zm1 -7h2v20h-2zm4 7h2v13h-2zm2 -4h2v17h-2zm4 -67h2v84h-2zm2 57h2v27h-2zm4 -7h2v34h-2zm2 16h2v18h-2zm5 13h2v5h-2zm2 -4h2v9h-2zm3 1h2v8h-2zm2 1h2v7h-2zm4 -2h2v9h-2zm2 2h2v7h-2zm4 -43h2v50h-2zm2 17h2v33h-2zm4 -7h2v40h-2zm2 1h2v39h-2zm4 28h2v11h-2zm2 -2h2v13h-2zm4 9h2v4h-2zm2 -12h2v16h-2zm4 6h2v10h-2zm2 -17h2v27h-2zm4 13h2v14h-2zm2 7h2v7h-2zm4 -22h2v29h-2zm2 4h2v25h-2zm4 -3h2v28h-2zm2 7h2v21h-2zm4 -1h2v22h-2zm2 -11h2v33h-2zm3 22h2v11h-2zm2 -2h2v13h-2zm4 -11h2v24h-2zm3 11h2v13h-2zm4 -4h2v17h-2zm2 5h2v12h-2zm4 -102h2v114h-2zm2 85h2v29h-2zm4 13h2v16h-2zm2 1h2v15h-2zm4 6h2v9h-2zm2 -26h2v35h-2zm4 17h2v18h-2zm2 12h2v6h-2zm4 -3h2v9h-2zm2 -3h2v12h-2zm4 -2h2v14h-2zm1 -6h2v20h-2zm4 9h2v11h-2zm2 4h2v7h-2zm4 -1h2v8h-2zm2 -79h2v87h-2zm4 54h2v33h-2zm2 21h2v12h-2zm4 1h2v11h-2zm2 -12h2v23h-2zm4 -10h2v33h-2zm2 9h2v24h-2zm4 -24h2v48h-2zm2 -41h2v89h-2zm4 26h2v63h-2zm2 46h2v17h-2zm4 -4h2v21h-2zm2 6h2v15h-2zm4 -6h2v21h-2zm2 -32h2v53h-2zm4 37h2v16h-2zm2 9h2v7h-2zm4 0h2v7h-2zm1 2h2v5h-2zm4 -6h2v11h-2zm2 5h2v6h-2zm4 -5h2v11h-2zm2 7h2v4h-2zm5 -21h2v25h-2zm2 17h2v8h-2zm4 3h2v5h-2zm2 -6h2v11h-2zm4 -2h2v13h-2zm2 3h2v10h-2zm4 -23h2v33h-2zm2 -33h2v66h-2zm4 26h2v40h-2zm2 23h2v17h-2zm4 6h2v11h-2zm2 -22h2v33h-2zm4 -46h2v79h-2zm2 21h2v58h-2zm3 -10h2v68h-2zm2 67h2v1h-2zm-1134 -65h1162v1h-1162zm0 61h1162v1h-1162z" fill="#0000ff"/>
<path d="M1173 763v1h1v-1zm-1 1v1h1v-1zm2 0v4h1v-4zm-3 1v2h1v-2zm-1 2v1h1v-1zm-1 1v1h1v-1zm6 0v6h1v-6zm-7 1v1h1v-1zm-1 1v1h1v-1zm-1 1v1h1v-1zm-605 1v1h1v-1zm598 0h2v1h-2zm6 0v1h1v-1zm-606 1h2v1h-2zm3 0v1h1v-1zm595 0h2v1h-2zm4 0h4v1h-4zm-605 1h3v1h-3zm7 0v1h1v-1zm592 0h2v1h-2zm21 0v7h1v-7zm-622 1h2v1h-2zm10 0v1h1v-1zm279 0v2h1v-2zm310 0h2v1h-2zm-599 1v1h1v-1zm11 0v2h1v-2zm4 0h2v1h-2zm275 0v2h1v-2zm19 0h2v1h-2zm289 0v2h1v-2zm-599 1v3h1v-3zm14 0h2v1h-2zm4 0h2v1h-2zm271 0v4h1v-4zm19 0h2v1h-2zm4 0v2h1v-2zm246 0v1h1v-1zm-566 1v2h1v-2zm21 0v1h1v-1zm7 0h2v1h-2zm272 0v2h1v-2zm14 0h2v1h-2zm250 0h2v1h-2zm3 0v1h1v-1zm39 0v2h1v-2zm-605 1h2v1h-2zm29 0v2h1v-2zm282 0h2v1h-2zm9 0v2h1v-2zm9 0h4v1h-4zm232 0h2v1h-2zm6 0v1h1v-1zm-569 1v2h1v-2zm4 0v1h1v-1zm4 0v2h1v-2zm294 0v1h1v-1zm9 0h2v1h-2zm18 0h2v1h-2zm6 0h3v1h-3zm211 0h3v1h-3zm14 0h3v1h-3zm10 0v1h1v-1zm21 0v1h1v-1zm8 0h8v1h-8zm-594 1v1h1v-1zm27 0v3h1v-3zm265 0v4h1v-4zm6 0h8v1h-8zm20 0h6v1h-6zm15 0v2h1v-2zm155 0v1h1v-1zm53 0v4h1v-4zm3 0v1h1v-1zm9 0h2v1h-2zm13 0v1h1v-1zm19 0v1h1v-1zm2 0v1h1v-1zm5 0h2v1h-2zm36 0v4h1v-4zm-634 1v2h1v-2zm7 0h2v1h-2zm486 0v2h1v-2zm2 0v2h1v-2zm56 0v1h1v-1zm7 0v1h1v-1zm15 0h8v1h-8zm16 0h2v1h-2zm5 0v1h1v-1zm2 0h2v1h-2zm-588 1v1h1v-1zm332 0v2h1v-2zm139 0v3h1v-3zm73 0v1h1v-1zm5 0v1h1v-1zm24 0v1h1v-1zm7 0v1h1v-1zm7 0v1h1v-1zm-596 1v1h1v-1zm35 0v3h1v-3zm329 0v1h1v-1zm129 0v2h1v-2zm4 0v2h1v-2zm57 0h4v1h-4zm29 0h2v1h-2zm4 0h2v1h-2zm49 0h2v1h-2zm-637 1v1h1v-1zm299 0v4h1v-4zm44 0v2h1v-2zm3 0h5v1h-5zm17 0h2v1h-2zm3 0v2h1v-2zm116 0v2h1v-2zm66 0v8h1v-8zm38 0h2v1h-2zm-587 1v1h1v-1zm346 0v2h1v-2zm6 0v1h1v-1zm10 0h2v1h-2zm119 0v4h1v-4zm13 0v2h1v-2zm6 0v2h1v-2zm-501 1v3h1v-3zm39 0v3h1v-3zm307 0v2h1v-2zm8 0h2v1h-2zm7 0h2v1h-2zm8 0v2h1v-2zm116 0v3h1v-3zm17 0h4v1h-4zm-146 1h5v1h-5zm20 0v2h1v-2zm116 0h3v1h-3zm14 0v1h1v-1zm-446 1v2h1v-2zm240 0v3h1v-3zm70 0v2h1v-2zm5 0v2h1v-2zm114 0h3v1h-3zm18 0v1h1v-1zm-508 1v6h1v-6zm41 0v3h1v-3zm32 0h2v1h-2zm305 0v4h1v-4zm104 0v4h1v-4zm5 0h3v1h-3zm22 0v2h1v-2zm-449 1v2h1v-2zm2 0v3h1v-3zm10 0v1h1v-1zm3 0h3v1h-3zm221 0h5v1h-5zm76 0v3h1v-3zm3 0v2h1v-2zm112 0v1h1v-1zm-417 1h2v1h-2zm8 0v2h1v-2zm217 0v2h1v-2zm215 0v1h1v-1zm-994 1h2v1h-2zm526 0v2h1v-2zm17 0v1h1v-1zm10 0v1h1v-1zm305 0v2h1v-2zm137 0v1h1v-1zm39 0v8h1v-8zm-1035 1v2h1v-2zm3 0h2v1h-2zm540 0v1h1v-1zm5 0v4h1v-4zm5 0v1h1v-1zm11 0v1h1v-1zm28 0h2v1h-2zm187 0v2h1v-2zm79 0v2h1v-2zm6 0v7h1v-7zm102 0v3h1v-3zm31 0v1h1v-1zm13 0h2v1h-2zm-1005 1v1h1v-1zm523 0v3h1v-3zm13 0h2v1h-2zm11 0v1h1v-1zm13 0v2h1v-2zm25 0h2v1h-2zm4 0v3h1v-3zm404 0v1h1v-1zm11 0v1h1v-1zm2 0v5h1v-5zm-1012 1v1h1v-1zm7 0v2h1v-2zm478 0v5h1v-5zm55 0h2v1h-2zm12 0v2h1v-2zm39 0v1h1v-1zm188 0v2h1v-2zm170 0v5h1v-5zm51 0v1h1v-1zm8 0h2v1h-2zm-1009 1v3h1v-3zm539 0h2v1h-2zm29 0v1h1v-1zm23 0v2h1v-2zm360 0h2v1h-2zm16 0v2h1v-2zm35 0h7v1h-7zm-993 1v2h1v-2zm522 0v2h1v-2zm6 0h2v1h-2zm14 0h2v1h-2zm18 0h2v1h-2zm28 0v2h1v-2zm177 0v1h1v-1zm5 0v2h1v-2zm174 0v1h1v-1zm12 0h2v1h-2zm-433 1v1h1v-1zm4 0v1h1v-1zm15 0v1h1v-1zm20 0h3v1h-3zm19 0v2h1v-2zm182 0h2v1h-2zm3 0v1h1v-1zm179 0h2v1h-2zm10 0v1h1v-1zm-965 1v4h1v-4zm11 0v2h1v-2zm523 0h3v1h-3zm41 0h3v1h-3zm24 0v3h1v-3zm173 0v6h1v-6zm5 0v2h1v-2zm2 0v2h1v-2zm178 0v2h1v-2zm7 0v1h1v-1zm51 0v12h1v-12zm-529 1v3h1v-3zm92 0v2h1v-2zm12 0v2h1v-2zm278 0v9h1v-9zm82 0v9h1v-9zm13 0v2h1v-2zm74 0v6h1v-6zm-1025 1v2h1v-2zm153 0v1h1v-1zm613 0v1h1v-1zm180 0v2h1v-2zm-794 1v2h1v-2zm2 0v2h1v-2zm317 0h3v1h-3zm96 0v2h1v-2zm10 0v3h1v-3zm11 0v2h1v-2zm2 0h7v1h-7zm360 0v2h1v-2zm-963 1v2h1v-2zm14 0v4h1v-4zm464 0h6v1h-6zm124 0v1h1v-1zm8 0v1h1v-1zm350 0v2h1v-2zm-796 1v2h1v-2zm4 0v1h1v-1zm307 0h3v1h-3zm106 0v2h1v-2zm30 0h2v1h-2zm351 0v2h1v-2zm-963 1v2h1v-2zm170 0v2h1v-2zm306 0v1h1v-1zm114 0v2h1v-2zm24 0v1h1v-1zm159 0v10h1v-10zm189 0v2h1v-2zm-798 1v2h1v-2zm311 0v2h1v-2zm108 0v3h1v-3zm32 0v1h1v-1zm423 0v4h1v-4zm-1039 1v1h1v-1zm17 0v6h1v-6zm155 0v1h1v-1zm418 0v5h1v-5zm27 0v1h1v-1zm-618 1v2h1v-2zm165 0v2h1v-2zm9 0v1h1v-1zm302 0v2h1v-2zm143 0v2h1v-2zm-444 1v1h1v-1zm411 0v4h1v-4zm287 0v7h1v-7zm80 0v13h1v-13zm-954 1v2h1v-2zm63 0v2h1v-2zm102 0v1h1v-1zm12 0v1h1v-1zm3 0h3v1h-3zm293 0h4v1h-4zm148 0v2h1v-2zm419 0v1h1v-1zm-1012 1h4v1h-4zm136 0v1h1v-1zm14 0h2v1h-2zm4 0v2h1v-2zm291 0v1h1v-1zm548 0v6h1v-6zm12 0v2h1v-2zm6 0v1h1v-1zm-1040 1v1h1v-1zm28 0v2h1v-2zm5 0v1h1v-1zm30 0v2h1v-2zm2 0v2h1v-2zm98 0h2v1h-2zm310 0v3h1v-3zm119 0v7h1v-7zm31 0v2h1v-2zm43 0v1h1v-1zm367 0v1h1v-1zm6 0v2h1v-2zm-1018 1v3h1v-3zm13 0v1h1v-1zm14 0h6v1h-6zm21 0h2v1h-2zm93 0v1h1v-1zm22 0v6h1v-6zm405 0v4h1v-4zm76 0v2h1v-2zm2 0h2v1h-2zm358 0h5v1h-5zm7 0v1h1v-1zm3 0v2h1v-2zm-1008 1v2h1v-2zm8 0v1h1v-1zm11 0h2v1h-2zm8 0v1h1v-1zm8 0v2h1v-2zm4 0h3v1h-3zm5 0h11v1h-11zm55 0h7v1h-7zm35 0v2h1v-2zm463 0v2h1v-2zm44 0v2h1v-2zm356 0v1h1v-1zm6 0h2v1h-2zm8 0v4h1v-4zm-1002 1v1h1v-1zm9 0v2h1v-2zm10 0v1h1v-1zm11 0v1h1v-1zm16 0v1h1v-1zm44 0v1h1v-1zm7 0v2h1v-2zm339 0v3h1v-3zm192 0v2h1v-2zm112 0v8h1v-8zm106 0v1h1v-1zm141 0v1h1v-1zm13 0v3h1v-3zm-1014 1v2h1v-2zm4 0v1h1v-1zm11 0v1h1v-1zm19 0v1h1v-1zm5 0v2h1v-2zm22 0v2h1v-2zm42 0v2h1v-2zm35 0v2h1v-2zm465 0v2h1v-2zm44 0v6h1v-6zm207 0v4h1v-4zm5 0v1h1v-1zm2 0v2h1v-2zm-859 1h2v1h-2zm14 0h4v1h-4zm6 0v1h1v-1zm13 0h2v1h-2zm29 0h2v1h-2zm48 0v2h1v-2zm456 0v4h1v-4zm73 0v2h1v-2zm217 0v1h1v-1zm19 0h2v1h-2zm-876 1v1h1v-1zm19 0h2v1h-2zm17 0h2v1h-2zm25 0h2v1h-2zm4 0v1h1v-1zm36 0v2h1v-2zm35 0v3h1v-3zm312 0v2h1v-2zm155 0v2h1v-2zm20 0h2v1h-2zm233 0v2h1v-2zm5 0v2h1v-2zm13 0h2v1h-2zm4 0v1h1v-1zm136 0v2h1v-2zm-948 1v1h1v-1zm10 0v1h1v-1zm36 0v1h1v-1zm50 0v9h1v-9zm278 0v1h1v-1zm7 0v1h1v-1zm121 0v4h1v-4zm36 0h7v1h-7zm17 0h2v1h-2zm4 0h2v1h-2zm4 0h3v1h-3zm10 0v2h1v-2zm77 0v2h1v-2zm146 0h12v1h-12zm17 0v1h1v-1zm-812 1v1h1v-1zm8 0v1h1v-1zm2 0v1h1v-1zm23 0v2h1v-2zm13 0h2v1h-2zm326 0v2h1v-2zm2 0h2v1h-2zm4 0h2v1h-2zm166 0v1h1v-1zm9 0v1h1v-1zm7 0h2v1h-2zm5 0h2v1h-2zm85 0v1h1v-1zm137 0h2v1h-2zm26 0v2h1v-2zm-812 1v1h1v-1zm6 0v1h1v-1zm4 0v2h1v-2zm20 0h2v1h-2zm17 0h2v1h-2zm20 0v3h1v-3zm308 0h2v1h-2zm169 0h2v1h-2zm6 0h2v1h-2zm16 0v2h1v-2zm4 0v2h1v-2zm77 0v3h1v-3zm3 0h2v1h-2zm136 0h2v1h-2zm-785 1v1h1v-1zm4 0v1h1v-1zm23 0h2v1h-2zm21 0v2h1v-2zm207 0v1h1v-1zm106 0v3h1v-3zm8 0v1h1v-1zm176 0v1h1v-1zm2 0h2v1h-2zm31 0v6h1v-6zm73 0h13v1h-13zm134 0v1h1v-1zm27 0v2h1v-2zm50 0v9h1v-9zm-861 1v1h1v-1zm2 0v1h1v-1zm7 0v1h1v-1zm16 0v1h1v-1zm227 0h2v1h-2zm3 0v1h1v-1zm106 0h2v1h-2zm6 0v2h1v-2zm178 0v1h1v-1zm20 0v2h1v-2zm2 0v2h1v-2zm95 0v2h1v-2zm20 0v6h1v-6zm-681 1v1h1v-1zm9 0v1h1v-1zm14 0v2h1v-2zm24 0v3h1v-3zm16 0v2h1v-2zm174 0h2v1h-2zm13 0v1h1v-1zm5 0v2h1v-2zm9 0v1h1v-1zm98 0h2v1h-2zm254 0v1h1v-1zm27 0v2h1v-2zm168 0v2h1v-2zm-801 1v2h1v-2zm7 0v2h1v-2zm219 0v1h1v-1zm3 0h3v1h-3zm7 0h4v1h-4zm17 0v2h1v-2zm2 0h2v1h-2zm93 0v5h1v-5zm6 0h2v1h-2zm201 0v1h1v-1zm50 0v1h1v-1zm2 0v1h1v-1zm11 0v1h1v-1zm14 0v1h1v-1zm20 0v6h1v-6zm-644 1h2v1h-2zm4 0v1h1v-1zm40 0v2h1v-2zm172 0h2v1h-2zm8 0v1h1v-1zm3 0v2h1v-2zm11 0v1h1v-1zm11 0v3h1v-3zm347 0v1h1v-1zm4 0v1h1v-1zm8 0h2v1h-2zm3 0v1h1v-1zm10 0h3v1h-3zm173 0v1h1v-1zm18 0h7v1h-7zm-819 1v1h1v-1zm5 0v2h1v-2zm4 0h2v1h-2zm28 0v2h1v-2zm173 0v1h1v-1zm12 0v1h1v-1zm10 0v1h1v-1zm14 0v2h1v-2zm5 0v2h1v-2zm342 0h4v1h-4zm8 0h2v1h-2zm7 0v1h1v-1zm5 0h2v1h-2zm6 0h2v1h-2zm7 0h2v1h-2zm176 0v2h1v-2zm16 0v1h1v-1zm8 0v2h1v-2zm-825 1v1h1v-1zm49 0v1h1v-1zm31 0v10h1v-10zm128 0v1h1v-1zm2 0v1h1v-1zm10 0v1h1v-1zm12 0v1h1v-1zm89 0v2h1v-2zm244 0v6h1v-6zm12 0v1h1v-1zm8 0v1h1v-1zm6 0v1h1v-1zm5 0v2h1v-2zm3 0v1h1v-1zm9 0v1h1v-1zm2 0h2v1h-2zm10 0h5v1h-5zm196 0v2h1v-2zm-815 1v2h1v-2zm2 0v2h1v-2zm34 0v3h1v-3zm11 0v1h1v-1zm158 0h2v1h-2zm5 0h2v1h-2zm8 0v2h1v-2zm27 0v2h1v-2zm3 0v1h1v-1zm7 0v6h1v-6zm66 0v1h1v-1zm253 0h2v1h-2zm3 0v1h1v-1zm6 0v1h1v-1zm2 0h2v1h-2zm4 0v1h1v-1zm8 0v1h1v-1zm11 0v1h1v-1zm59 0v3h1v-3zm134 0v2h1v-2zm24 0v2h1v-2zm-779 1v1h1v-1zm158 0v1h1v-1zm8 0v1h1v-1zm35 0v2h1v-2zm72 0v2h1v-2zm3 0v1h1v-1zm13 0v2h1v-2zm9 0v3h1v-3zm229 0v1h1v-1zm5 0v2h1v-2zm3 0h2v1h-2zm6 0h2v1h-2zm9 0v1h1v-1zm218 0v1h1v-1zm-813 1v1h1v-1zm44 0v2h1v-2zm158 0v3h1v-3zm10 0v1h1v-1zm4 0v2h1v-2zm29 0v2h1v-2zm77 0v1h1v-1zm13 0v2h1v-2zm236 0v2h1v-2zm8 0v1h1v-1zm70 0v4h1v-4zm152 0v2h1v-2zm11 0v1h1v-1zm13 0v2h1v-2zm3 0v1h1v-1zm17 0v1h1v-1zm-809 1v2h1v-2zm177 0h2v1h-2zm104 0v2h1v-2zm6 0v1h1v-1zm10 0v4h1v-4zm245 0v1h1v-1zm87 0v2h1v-2zm146 0v1h1v-1zm16 0v1h1v-1zm2 0v1h1v-1zm15 0v1h1v-1zm-807 1v1h1v-1zm6 0v2h1v-2zm172 0v1h1v-1zm109 0h2v1h-2zm12 0v2h1v-2zm6 0v2h1v-2zm228 0v3h1v-3zm89 0h5v1h-5zm143 0v2h1v-2zm8 0v1h1v-1zm16 0v1h1v-1zm4 0v1h1v-1zm10 0v1h1v-1zm3 0v1h1v-1zm-805 1h3v1h-3zm163 0v4h1v-4zm113 0h3v1h-3zm12 0h2v1h-2zm238 0v4h1v-4zm86 0v1h1v-1zm7 0h2v1h-2zm7 0v2h1v-2zm145 0v1h1v-1zm22 0v1h1v-1zm8 0v1h1v-1zm2 0h2v1h-2zm-800 1h2v1h-2zm214 0v11h1v-11zm58 0v2h1v-2zm15 0v2h1v-2zm9 0v2h1v-2zm4 0v2h1v-2zm310 0h3v1h-3zm5 0v1h1v-1zm147 0v2h1v-2zm5 0v1h1v-1zm24 0h2v1h-2zm6 0v1h1v-1zm-506 1v3h1v-3zm6 0v1h1v-1zm231 0v3h1v-3zm85 0h2v1h-2zm153 0v1h1v-1zm27 0h2v1h-2zm3 0v1h1v-1zm-525 1v2h1v-2zm17 0v1h1v-1zm10 0h2v1h-2zm465 0h3v1h-3zm32 0v1h1v-1zm-757 1v6h1v-6zm16 0v1h1v-1zm105 0v4h1v-4zm98 0v2h1v-2zm32 0v2h1v-2zm235 0v1h1v-1zm239 0v1h1v-1zm-711 1h2v1h-2zm3 0v2h1v-2zm195 0h2v1h-2zm5 0h2v1h-2zm15 0v2h1v-2zm20 0v2h1v-2zm235 0h3v1h-3zm-474 1v1h1v-1zm91 0h3v1h-3zm107 0v1h1v-1zm3 0h3v1h-3zm6 0v2h1v-2zm269 0v1h1v-1zm-477 1v1h1v-1zm6 0v2h1v-2zm84 0h2v1h-2zm5 0h4v1h-4zm103 0v1h1v-1zm21 0v1h1v-1zm-220 1v1h1v-1zm14 0v1h1v-1zm71 0h2v1h-2zm5 0v1h1v-1zm10 0v1h1v-1zm9 0v3h1v-3zm89 0v2h1v-2zm12 0v3h1v-3zm9 0v2h1v-2zm-220 1v1h1v-1zm9 0v2h1v-2zm5 0v1h1v-1zm2 0v1h1v-1zm70 0v1h1v-1zm2 0h3v1h-3zm14 0h2v1h-2zm-111 1v1h1v-1zm8 0v1h1v-1zm13 0h2v1h-2zm5 0v1h1v-1zm68 0v3h1v-3zm19 0v1h1v-1zm94 0v2h1v-2zm21 0v1h1v-1zm-227 1v2h1v-2zm6 0v1h1v-1zm12 0h2v1h-2zm8 0v1h1v-1zm20 0h2v1h-2zm67 0h2v1h-2zm4 0v1h1v-1zm77 0h3v1h-3zm26 0v2h1v-2zm6 0v1h1v-1zm-222 1h2v1h-2zm14 0v1h1v-1zm9 0v1h1v-1zm17 0h2v1h-2zm3 0v1h1v-1zm68 0h2v1h-2zm60 0v8h1v-8zm17 0h2v1h-2zm5 0h2v1h-2zm5 0h4v1h-4zm22 0h2v1h-2zm-223 1v1h1v-1zm2 0v1h1v-1zm25 0v1h1v-1zm14 0h2v1h-2zm6 0v3h1v-3zm44 0v2h1v-2zm99 0v1h1v-1zm8 0h3v1h-3zm22 0v1h1v-1zm2 0v1h1v-1zm-221 1v1h1v-1zm27 0v1h1v-1zm12 0v1h1v-1zm149 0v1h1v-1zm32 0v1h1v-1zm-192 1h8v1h-8zm10 0v1h1v-1zm46 0h3v1h-3zm5 0v2h1v-2zm96 0h3v1h-3zm-149 1h2v1h-2zm11 0v3h1v-3zm37 0v1h1v-1zm3 0h2v1h-2zm96 0h2v1h-2zm-100 1v4h1v-4zm100 0v1h1v-1zm-126 1v1h1v-1zm125 0v2h1v-2zm-134 1v2h1v-2zm7 0h2v1h-2zm3 0v1h1v-1zm116 0v1h1v-1zm-125 1v1h1v-1zm4 0h2v1h-2zm6 0v1h1v-1zm116 0h2v1h-2zm6 0v2h1v-2zm-131 1h3v1h-3zm10 0v1h1v-1zm22 0v4h1v-4zm95 0v1h1v-1zm-116 1v1h1v-1zm117 0h3v1h-3zm-116 1v2h1v-2zm118 0v1h1v-1zm-109 1v1h1v-1zm-8 1v1h1v-1zm7 0v1h1v-1zm2 0v1h1v-1zm9 0v4h1v-4zm-17 1v1h1v-1zm5 0v1h1v-1zm4 0v1h1v-1zm-8 1v2h1v-2zm3 0v1h1v-1zm6 0v1h1v-1zm-7 1v1h1v-1zm8 0h2v1h-2zm-9 1v1h1v-1zm11 0h2v1h-2zm3 0v2h1v-2zm-1 1v1h1v-1z" fill="#ff0000"/>
<path d="M0 606h1250v1h-1250zm0 147h1250v1h-1250zm1206 -753h1v878h-1zm-1161 877h1162v1h-1162zm-4 -874h3v1h-3zm-3 3h6v1h-6zm3 -1h1v3h-1zm0 4h3v1h-3zm0 4h3v1h-3zm0 3h3v1h-3zm0 3h3v1h-3zm-3 4h6v1h-6zm3 -1h1v3h-1zm0 4h3v1h-3zm0 3h3v1h-3zm0 4h3v1h-3zm0 3h3v1h-3zm-3 3h6v1h-6zm3 -1h1v3h-1zm0 5h3v1h-3zm0 3h3v1h-3zm0 4h3v1h-3zm0 3h3v1h-3zm-3 3h6v1h-6zm3 -1h1v3h-1zm0 5h3v1h-3zm0 3h3v1h-3zm0 3h3v1h-3zm0 4h3v1h-3zm-3 3h6v1h-6zm3 -1h1v3h-1zm0 4h3v1h-3zm0 4h3v1h-3zm0 3h3v1h-3zm0 3h3v1h-3zm-3 4h6v1h-6zm3 -1h1v3h-1zm0 4h3v1h-3zm0 3h3v1h-3zm0 4h3v1h-3zm0 3h3v1h-3zm-3 4h6v1h-6zm3 -1h1v3h-1zm0 4h3v1h-3zm0 3h3v1h-3zm0 4h3v1h-3zm0 3h3v1h-3zm-3 3h6v1h-6zm3 -1h1v3h-1zm0 5h3v1h-3zm0 3h3v1h-3zm0 3h3v1h-3zm0 4h3v1h-3zm-3 3h6v1h-6zm3 -1h1v3h-1zm0 4h3v1h-3zm0 4h3v1h-3zm0 3h3v1h-3zm0 3h3v1h-3zm-3 4h6v1h-6zm3 -1h1v3h-1zm0 4h3v1h-3zm0 4h3v1h-3zm0 3h3v1h-3zm0 3h3v1h-3zm-3 4h6v1h-6zm3 -1h1v3h-1zm0 4h3v1h-3zm0 3h3v1h-3zm0 4h3v1h-3zm0 3h3v1h-3zm-3 3h6v1h-6zm3 -1h1v3h-1zm0 5h3v1h-3zm0 3h3v1h-3zm0 3h3v1h-3zm0 4h3v1h-3zm-3 3h6v1h-6zm3 -1h1v3h-1zm0 4h3v1h-3zm0 4h3v1h-3zm0 3h3v1h-3zm0 4h3v1h-3zm-3 3h6v1h-6zm3 -1h1v3h-1zm0 4h3v1h-3zm0 4h3v1h-3zm0 3h3v1h-3zm0 3h3v1h-3zm-3 4h6v1h-6zm3 -1h1v3h-1zm0 4h3v1h-3zm0 3h3v1h-3zm0 4h3v1h-3zm0 3h3v1h-3zm-3 3h6v1h-6zm3 -1h1v3h-1zm0 5h3v1h-3zm0 3h3v1h-3zm0 3h3v1h-3zm0 4h3v1h-3zm-3 3h6v1h-6zm3 -1h1v3h-1zm0 5h3v1h-3zm0 3h3v1h-3zm0 3h3v1h-3zm0 4h3v1h-3zm-3 3h6v1h-6zm3 -1h1v3h-1zm0 4h3v1h-3zm0 4h3v1h-3zm0 3h3v1h-3zm0 3h3v1h-3zm-3 4h6v1h-6zm3 -1h1v3h-1zm0 4h3v1h-3zm0 3h3v1h-3zm0 4h3v1h-3zm0 3h3v1h-3zm-3 3h6v1h-6zm3 -1h1v3h-1zm0 5h3v1h-3zm0 3h3v1h-3zm0 4h3v1h-3zm0 3h3v1h-3zm-3 3h6v1h-6zm3 -1h1v3h-1zm0 5h3v1h-3zm0 3h3v1h-3zm0 3h3v1h-3zm0 4h3v1h-3zm-3 3h6v1h-6zm3 -1h1v3h-1zm0 4h3v1h-3zm0 4h3v1h-3zm0 3h3v1h-3zm0 3h3v1h-3zm-3 4h6v1h-6zm3 -1h1v3h-1zm0 4h3v1h-3zm0 3h3v1h-3zm0 4h3v1h-3zm0 3h3v1h-3zm-3 4h6v1h-6zm3 -1h1v3h-1zm0 4h3v1h-3zm0 3h3v1h-3zm0 4h3v1h-3zm0 3h3v1h-3zm-3 3h6v1h-6zm3 -1h1v3h-1zm0 5h3v1h-3zm0 3h3v1h-3zm0 3h3v1h-3zm0 4h3v1h-3zm-3 3h6v1h-6zm3 -1h1v3h-1zm0 4h3v1h-3zm0 4h3v1h-3zm0 3h3v1h-3zm0 3h3v1h-3zm-3 4h6v1h-6zm3 -1h1v3h-1zm0 4h3v1h-3zm0 4h3v1h-3zm0 3h3v1h-3zm0 3h3v1h-3zm-3 4h6v1h-6zm3 -1h1v3h-1zm0 4h3v1h-3zm0 3h3v1h-3zm0 4h3v1h-3zm0 3h3v1h-3zm-3 3h6v1h-6zm3 -1h1v3h-1zm0 5h3v1h-3zm0 3h3v1h-3zm0 3h3v1h-3zm0 4h3v1h-3zm-3 3h6v1h-6zm3 -1h1v3h-1zm0 4h3v1h-3zm0 4h3v1h-3zm0 3h3v1h-3zm0 4h3v1h-3zm-3 3h6v1h-6zm3 -1h1v3h-1zm0 4h3v1h-3zm0 4h3v1h-3zm0 3h3v1h-3zm0 3h3v1h-3zm-3 4h6v1h-6zm3 -1h1v3h-1zm0 4h3v1h-3zm0 3h3v1h-3zm0 4h3v1h-3zm0 3h3v1h-3zm-3 3h6v1h-6zm3 -1h1v3h-1zm0 5h3v1h-3zm0 3h3v1h-3zm0 3h3v1h-3zm0 4h3v1h-3zm-3 3h6v1h-6zm3 -1h1v3h-1zm0 5h3v1h-3zm0 3h3v1h-3zm0 3h3v1h-3zm0 4h3v1h-3zm-3 3h6v1h-6zm3 -1h1v3h-1zm0 4h3v1h-3zm0 4h3v1h-3zm0 3h3v1h-3zm0 3h3v1h-3zm-3 4h6v1h-6zm3 -1h1v3h-1zm0 4h3v1h-3zm0 3h3v1h-3zm0 4h3v1h-3zm1165 -594h7v1h-7zm0 11h3v1h-3zm0 11h7v1h-7zm0 12h3v1h-3zm0 11h7v1h-7zm0 11h3v1h-3zm0 11h7v1h-7zm0 12h3v1h-3zm0 11h7v1h-7zm0 11h3v1h-3zm0 11h7v1h-7zm0 11h3v1h-3zm0 12h7v1h-7zm0 11h3v1h-3zm0 11h7v1h-7zm0 11h3v1h-3zm0 12h7v1h-7zm0 11h3v1h-3zm0 11h7v1h-7zm0 11h3v1h-3zm0 12h7v1h-7zm0 11h3v1h-3zm0 11h7v1h-7zm0 11h3v1h-3zm0 11h7v1h-7zm0 12h3v1h-3zm0 11h7v1h-7zm0 11h3v1h-3zm0 11h7v1h-7zm0 12h3v1h-3zm0 11h7v1h-7zm0 11h3v1h-3zm0 11h7v1h-7zm0 12h3v1h-3zm0 11h7v1h-7zm0 11h3v1h-3zm0 11h7v1h-7zm0 12h3v1h-3zm0 11h7v1h-7zm0 11h3v1h-3zm0 11h7v1h-7zm0 11h3v1h-3zm0 12h7v1h-7zm0 11h3v1h-3zm0 11h7v1h-7zm0 11h3v1h-3zm0 12h7v1h-7zm0 11h3v1h-3zm0 11h7v1h-7zm0 11h3v1h-3zm0 12h7v1h-7zm0 11h3v1h-3zm0 11h7v1h-7zm0 11h3v1h-3zm-1168 10h6v1h-6zm0 17h6v1h-6zm0 17h6v1h-6zm0 16h6v1h-6zm0 17h6v1h-6zm0 15h6v1h-6zm0 17h6v1h-6zm0 17h6v1h-6zm0 16h6v1h-6zm3 -123h3v1h-3zm0 16h3v1h-3zm0 16h3v1h-3zm0 17h3v1h-3zm0 17h3v1h-3zm0 16h3v1h-3zm0 17h3v1h-3zm0 16h3v1h-3zm1165 10h3v1h-3zm0 -11h7v1h-7zm0 -11h3v1h-3zm0 -11h3v1h-3zm0 -11h3v1h-3zm0 -11h3v1h-3zm0 -11h7v1h-7zm0 -11h3v1h-3zm0 -11h3v1h-3zm0 -10h3v1h-3zm0 -11h3v1h-3zm0 -11h7v1h-7zm0 -11h3v1h-3zm-1165 144h3v1h-3zm-3 10h6v1h-6zm3 10h3v1h-3zm-3 10h6v1h-6zm3 10h3v1h-3zm-3 10h6v1h-6zm3 10h3v1h-3zm-3 11h6v1h-6zm3 10h3v1h-3zm-3 10h6v1h-6zm3 10h3v1h-3zm-3 10h6v1h-6zm1168 1h3v1h-3zm0 -3h3v1h-3zm0 -2h3v1h-3zm0 -3h3v1h-3zm0 -2h7v1h-7zm0 -3h3v1h-3zm0 -2h3v1h-3zm0 -3h3v1h-3zm0 -3h3v1h-3zm0 -2h7v1h-7zm0 -3h3v1h-3zm0 -2h3v1h-3zm0 -3h3v1h-3zm0 -2h3v1h-3zm0 -3h7v1h-7zm0 -3h3v1h-3zm0 -2h3v1h-3zm0 -3h3v1h-3zm0 -2h3v1h-3zm0 -3h7v1h-7zm0 -2h3v1h-3zm0 -3h3v1h-3zm0 -3h3v1h-3zm0 -2h3v1h-3zm0 -3h7v1h-7zm0 -2h3v1h-3zm0 -3h3v1h-3zm0 -2h3v1h-3zm0 -3h3v1h-3zm0 -2h7v1h-7zm0 -3h3v1h-3zm0 -3h3v1h-3zm0 -2h3v1h-3zm0 -3h3v1h-3zm0 -2h7v1h-7zm0 -3h3v1h-3zm0 -2h3v1h-3zm0 -3h3v1h-3zm0 -3h3v1h-3zm0 -2h7v1h-7zm0 -3h3v1h-3zm0 -2h3v1h-3zm0 -3h3v1h-3zm0 -2h3v1h-3zm0 -3h7v1h-7zm0 -3h3v1h-3zm-1146 121h1v4h-1zm12 0h1v4h-1zm12 0h1v4h-1zm12 0h1v4h-1zm12 0h1v4h-1zm12 0h1v4h-1zm12 0h1v4h-1zm17 0h1v4h-1zm12 0h1v4h-1zm12 0h1v4h-1zm12 0h1v4h-1zm12 0h1v4h-1zm12 0h1v4h-1zm12 0h1v4h-1zm18 0h1v4h-1zm12 0h1v4h-1zm11 0h1v4h-1zm12 0h1v4h-1zm13 0h1v4h-1zm11 0h1v4h-1zm12 0h1v4h-1zm18 0h1v4h-1zm12 0h1v4h-1zm12 0h1v4h-1zm12 0h1v4h-1zm11 0h1v4h-1zm13 0h1v4h-1zm12 0h1v4h-1zm29 0h1v4h-1zm12 0h1v4h-1zm12 0h1v4h-1zm12 0h1v4h-1zm12 0h1v4h-1zm12 0h1v4h-1zm18 0h1v4h-1zm11 0h1v4h-1zm6 0h1v4h-1zm9 0h1v4h-1zm12 0h1v4h-1zm18 0h1v4h-1zm12 0h1v4h-1zm12 0h1v4h-1zm12 0h1v4h-1zm12 0h1v4h-1zm12 0h1v4h-1zm12 0h1v4h-1zm17 0h1v4h-1zm13 0h1v4h-1zm11 0h1v4h-1zm12 0h1v4h-1zm12 0h1v4h-1zm12 0h1v4h-1zm12 0h1v4h-1zm18 0h1v4h-1zm11 0h1v4h-1zm13 0h1v4h-1zm12 0h1v4h-1zm12 0h1v4h-1zm11 0h1v4h-1zm13 0h1v4h-1zm17 0h1v4h-1zm12 0h1v4h-1zm11 0h1v4h-1zm13 0h1v4h-1zm12 0h1v4h-1zm11 0h1v4h-1zm12 0h1v4h-1zm19 0h1v4h-1zm11 0h1v4h-1zm12 0h1v4h-1zm12 0h1v4h-1zm12 0h1v4h-1zm12 0h1v4h-1zm12 0h1v4h-1zm18 0h1v4h-1zm12 0h1v4h-1zm12 0h1v4h-1zm11 0h1v4h-1zm12 0h1v4h-1zm13 0h1v4h-1zm11 0h1v4h-1zm18 0h1v4h-1zm12 0h1v4h-1zm12 0h1v4h-1zm12 0h1v4h-1zm11 0h1v4h-1zm13 0h1v4h-1zm12 0h1v4h-1zm17 0h1v4h-1zm12 0h1v4h-1zm-1149 0h1v16h-1zm89 0h1v16h-1zm90 0h1v16h-1zm89 0h1v16h-1zm90 0h1v16h-1zm88 0h1v16h-1zm57 0h1v16h-1zm90 0h1v16h-1zm89 0h1v16h-1zm89 0h1v16h-1zm89 0h1v16h-1zm90 0h1v16h-1zm89 0h1v16h-1zm89 0h1v16h-1z" fill="#000000"/>
<text x="32.5" y="28.5" font-size="10.5" text-anchor="end" >79500</text>
<text x="32.5" y="44.5" font-size="10.5" text-anchor="end" >79000</text>
<text x="32.5" y="61.5" font-size="10.5" text-anchor="end" >78500</text>
<text x="32.5" y="78.5" font-size="10.5" text-anchor="end" >78000</text>
<text x="32.5" y="95.5" font-size="10.5" text-anchor="end" >77500</text>
<text x="32.5" y="112.5" font-size="10.5" text-anchor="end" >77000</text>
<text x="32.5" y="128.5" font-size="10.5" text-anchor="end" >76500</text>
<text x="32.5" y="145.5" font-size="10.5" text-anchor="end" >76000</text>
<text x="32.5" y="162.5" font-size="10.5" text-anchor="end" >75500</text>
<text x="32.5" y="179.5" font-size="10.5" text-anchor="end" >75000</text>
<text x="32.5" y="195.5" font-size="10.5" text-anchor="end" >74500</text>
<text x="32.5" y="212.5" font-size="10.5" text-anchor="end" >74000</text>
<text x="32.5" y="229.5" font-size="10.5" text-anchor="end" >73500</text>
<text x="32.5" y="246.5" font-size="10.5" text-anchor="end" >73000</text>
<text x="32.5" y="262.5" font-size="10.5" text-anchor="end" >72500</text>
<text x="32.5" y="279.5" font-size="10.5" text-anchor="end" >72000</text>
<text x="32.5" y="296.5" font-size="10.5" text-anchor="end" >71500</text>
<text x="32.5" y="313.5" font-size="10.5" text-anchor="end" >71000</text>
<text x="32.5" y="329.5" font-size="10.5" text-anchor="end" >70500</text>
<text x="32.5" y="346.5" font-size="10.5" text-anchor="end" >70000</text>
<text x="32.5" y="363.5" font-size="10.5" text-anchor="end" >69500</text>
<text x="32.5" y="380.5" font-size="10.5" text-anchor="end" >69000</text>
<text x="32.5" y="397.5" font-size="10.5" text-anchor="end" >68500</text>
<text x="32.5" y="413.5" font-size="10.5" text-anchor="end" >68000</text>
<text x="32.5" y="430.5" font-size="10.5" text-anchor="end" >67500</text>
<text x="32.5" y="447.5" font-size="10.5" text-anchor="end" >67000</text>
<text x="32.5" y="464.5" font-size="10.5" text-anchor="end" >66500</text>
<text x="32.5" y="480.5" font-size="10.5" text-anchor="end" >66000</text>
<text x="32.5" y="497.5" font-size="10.5" text-anchor="end" >65500</text>
<text x="32.5" y="514.5" font-size="10.5" text-anchor="end" >65000</text>
<text x="32.5" y="531.5" font-size="10.5" text-anchor="end" >64500</text>
<text x="32.5" y="547.5" font-size="10.5" text-anchor="end" >64000</text>
<text x="32.5" y="564.5" font-size="10.5" text-anchor="end" >63500</text>
<text x="32.5" y="581.5" font-size="10.5" text-anchor="end" >63000</text>
<text x="32.5" y="598.5" font-size="10.5" text-anchor="end" >62500</text>
<text x="1222.5" y="14.8" font-size="10.5" text-anchor="start" >3600</text>
<text x="1222.5" y="36.8" font-size="10.5" text-anchor="start" >3590</text>
<text x="1222.5" y="59.8" font-size="10.5" text-anchor="start" >3580</text>
<text x="1222.5" y="81.8" font-size="10.5" text-anchor="start" >3570</text>
<text x="1222.5" y="104.8" font-size="10.5" text-anchor="start" >3560</text>
<text x="1222.5" y="126.8" font-size="10.5" text-anchor="start" >3550</text>
<text x="1222.5" y="149.8" font-size="10.5" text-anchor="start" >3540</text>
<text x="1222.5" y="171.8" font-size="10.5" text-anchor="start" >3530</text>
<text x="1222.5" y="194.8" font-size="10.5" text-anchor="start" >3520</text>
<text x="1222.5" y="216.8" font-size="10.5" text-anchor="start" >3510</text>
<text x="1222.5" y="239.8" font-size="10.5" text-anchor="start" >3500</text>
<text x="1222.5" y="261.8" font-size="10.5" text-anchor="start" >3490</text>
<text x="1222.5" y="283.8" font-size="10.5" text-anchor="start" >3480</text>
<text x="1222.5" y="306.8" font-size="10.5" text-anchor="start" >3470</text>
<text x="1222.5" y="328.8" font-size="10.5" text-anchor="start" >3460</text>
<text x="1222.5" y="351.8" font-size="10.5" text-anchor="start" >3450</text>
<text x="1222.5" y="373.8" font-size="10.5" text-anchor="start" >3440</text>
<text x="1222.5" y="396.8" font-size="10.5" text-anchor="start" >3430</text>
<text x="1222.5" y="418.8" font-size="10.5" text-anchor="start" >3420</text>
<text x="1222.5" y="441.8" font-size="10.5" text-anchor="start" >3410</text>
<text x="1222.5" y="463.8" font-size="10.5" text-anchor="start" >3400</text>
<text x="1222.5" y="486.8" font-size="10.5" text-anchor="start" >3390</text>
<text x="1222.5" y="508.8" font-size="10.5" text-anchor="start" >3380</text>
<text x="1222.5" y="531.8" font-size="10.5" text-anchor="start" >3370</text>
<text x="1222.5" y="553.8" font-size="10.5" text-anchor="start" >3360</text>
<text x="1222.5" y="576.8" font-size="10.5" text-anchor="start" >3350</text>
<text x="1222.5" y="598.8" font-size="10.5" text-anchor="start" >3340</text>
<text x="33" y="619.5" font-size="10.5" text-anchor="end" >14</text>
<text x="33" y="636.5" font-size="10.5" text-anchor="end" >13</text>
<text x="33" y="653.5" font-size="10.5" text-anchor="end" >12</text>
<text x="33" y="669.5" font-size="10.5" text-anchor="end" >11</text>
<text x="33" y="686.5" font-size="10.5" text-anchor="end" >10</text>
<text x="33" y="701.5" font-size="10.5" text-anchor="end" >9</text>
<text x="33" y="718.5" font-size="10.5" text-anchor="end" >8</text>
<text x="33" y="735.5" font-size="10.5" text-anchor="end" >7</text>
<text x="33" y="751.5" font-size="10.5" text-anchor="end" >6</text>
<text x="1246" y="632.5" font-size="10.5" text-anchor="end" >5</text>
<text x="1246" y="687.5" font-size="10.5" text-anchor="end" >0</text>
<text x="1246" y="741.5" font-size="10.5" text-anchor="end" >-5</text>
<text x="33" y="776.5" font-size="10.5" text-anchor="end" >70</text>
<text x="33" y="796.5" font-size="10.5" text-anchor="end" >60</text>
<text x="33" y="816.5" font-size="10.5" text-anchor="end" >50</text>
<text x="33" y="837.5" font-size="10.5" text-anchor="end" >40</text>
<text x="33" y="857.5" font-size="10.5" text-anchor="end" >30</text>
<text x="1246" y="868.5" font-size="10.5" text-anchor="end" >500</text>
<text x="1246" y="855.5" font-size="10.5" text-anchor="end" >1000</text>
<text x="1246" y="842.5" font-size="10.5" text-anchor="end" >1500</text>
<text x="1246" y="829.5" font-size="10.5" text-anchor="end" >2000</text>
<text x="1246" y="816.5" font-size="10.5" text-anchor="end" >2500</text>
<text x="1246" y="804.5" font-size="10.5" text-anchor="end" >3000</text>
<text x="1246" y="791.5" font-size="10.5" text-anchor="end" >3500</text>
<text x="1246" y="778.5" font-size="10.5" text-anchor="end" >4000</text>
<text x="1246" y="765.5" font-size="10.5" text-anchor="end" >4500</text>
<text x="53" y="893" font-size="10.5" text-anchor="start" >6</text>
<text x="142" y="893" font-size="10.5" text-anchor="start" >7</text>
<text x="232" y="893" font-size="10.5" text-anchor="start" >8</text>
<text x="321" y="893" font-size="10.5" text-anchor="start" >9</text>
<text x="411" y="893" font-size="10.5" text-anchor="start" >12</text>
<text x="499" y="893" font-size="10.5" text-anchor="start" >13</text>
<text x="556" y="893" font-size="10.5" text-anchor="start" >14</text>
<text x="646" y="893" font-size="10.5" text-anchor="start" >15</text>
<text x="735" y="893" font-size="10.5" text-anchor="start" >16</text>
<text x="824" y="893" font-size="10.5" text-anchor="start" >19</text>
<text x="913" y="893" font-size="10.5" text-anchor="start" >20</text>
<text x="1003" y="893" font-size="10.5" text-anchor="start" >21</text>
<text x="1092" y="893" font-size="10.5" text-anchor="start" >22</text>
<text x="1181" y="893" font-size="10.5" text-anchor="start" >23</text>
<text x="436" y="12.5" font-size="10.5" text-anchor="start" textLength="377" lengthAdjust="spacingAndGlyphs">FW20H7 (3,514.00, 3,514.00, 3,514.00, 3,514.00, +0.00), Open Interest (66,053)</text>
<text x="456" y="618" font-size="10.5" text-anchor="start" textLength="335" lengthAdjust="spacingAndGlyphs">PS MACD Histogram  (-0.51282, 0.000), Average True Range (8.67430)</text>
<text x="517" y="766" font-size="10.5" text-anchor="start" textLength="214" lengthAdjust="spacingAndGlyphs">Volume (0), Relative Strength Index(63.4804)</text>
</svg>
</body></html>
